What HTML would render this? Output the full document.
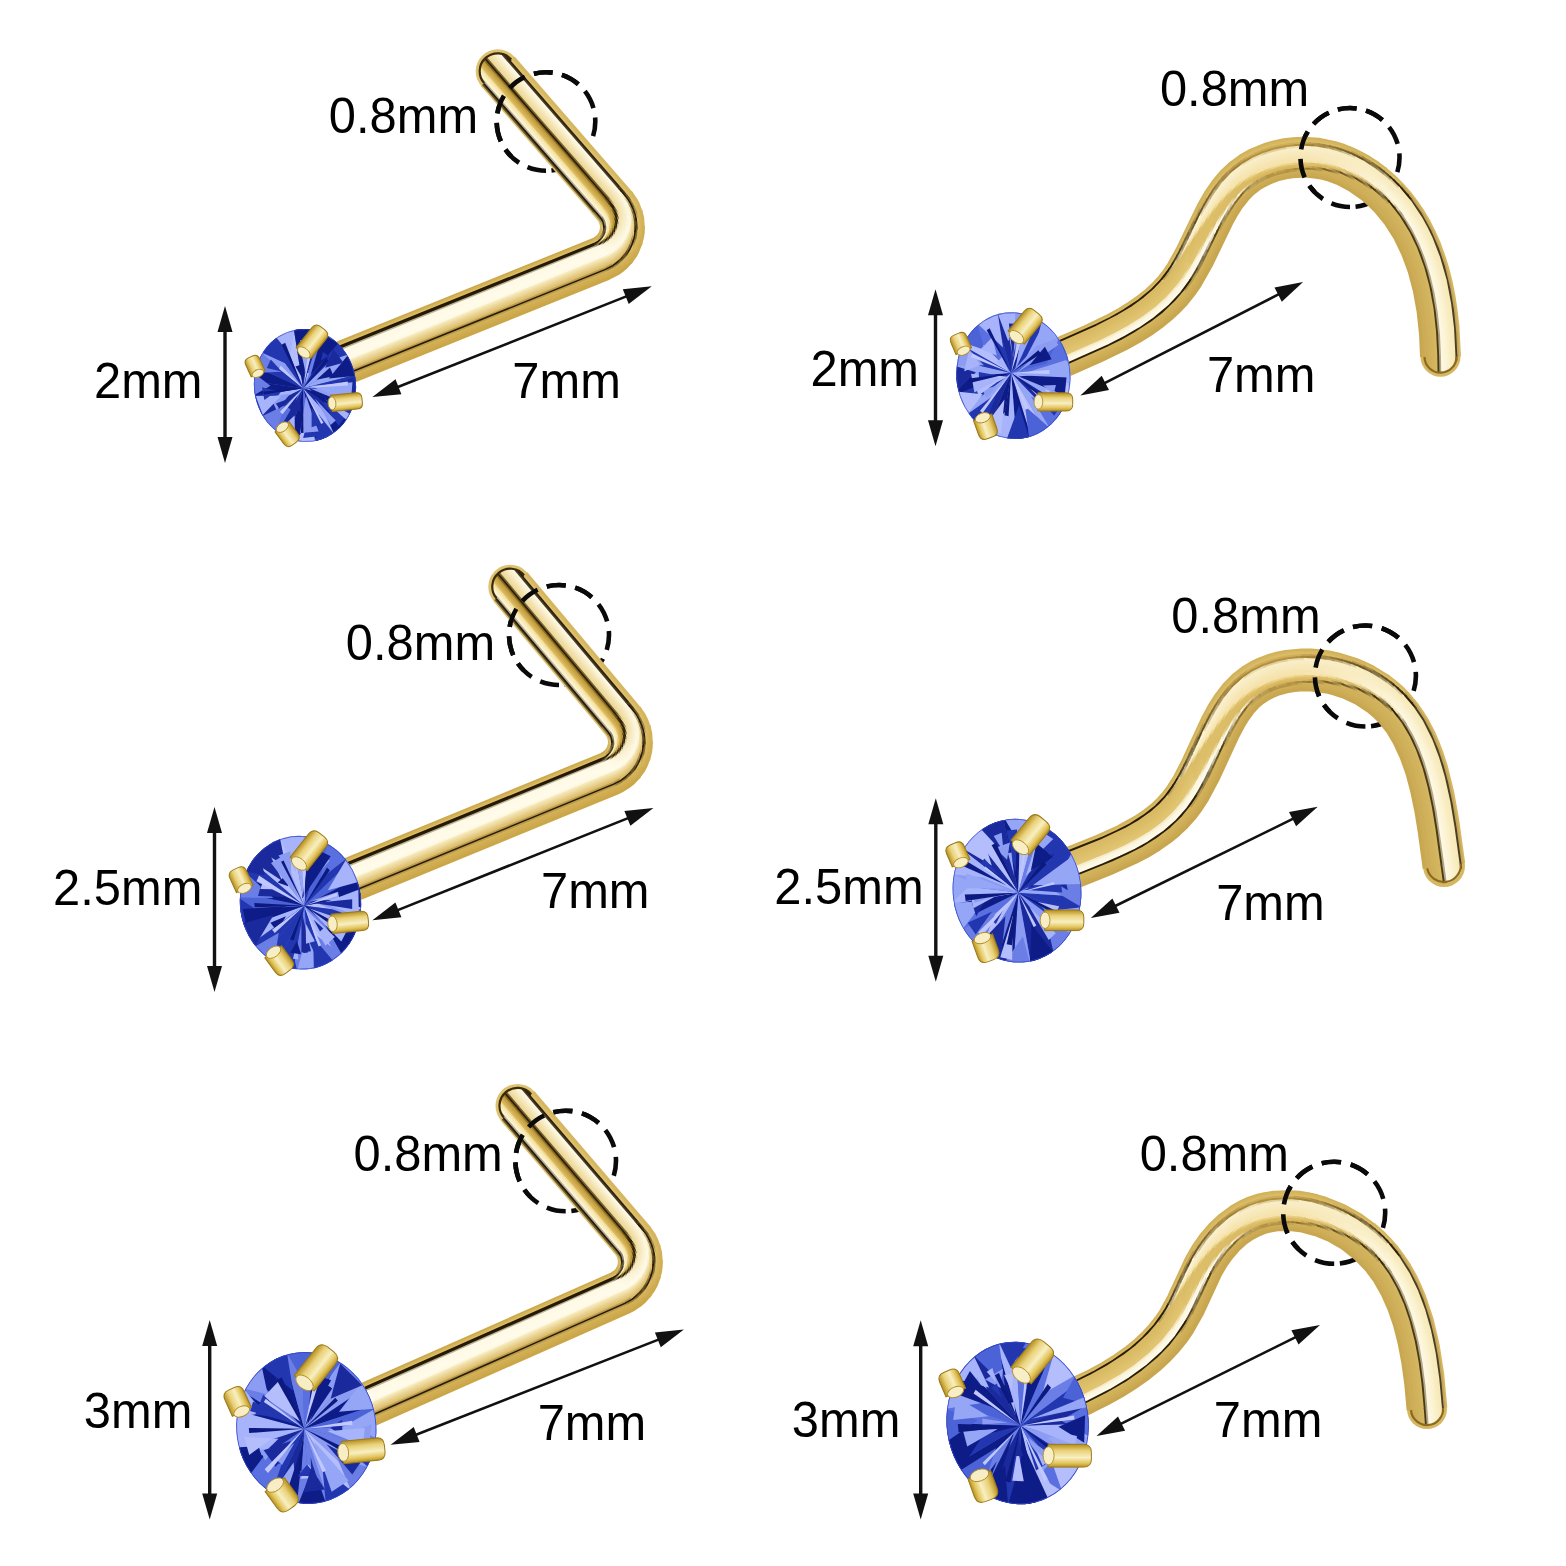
<!DOCTYPE html><html><head><meta charset="utf-8"><style>html,body{margin:0;padding:0;background:#fff;}svg{display:block;}</style></head><body><svg width="1566" height="1566" viewBox="0 0 1566 1566"><rect width="1566" height="1566" fill="#fff"/><defs><linearGradient id="pg" x1="0" y1="0" x2="1" y2="0"><stop offset="0" stop-color="#b89222"/><stop offset="0.18" stop-color="#e4c65e"/><stop offset="0.42" stop-color="#f8efc2"/><stop offset="0.72" stop-color="#ead27a"/><stop offset="1" stop-color="#b48e1e"/></linearGradient><clipPath id="gclip"><circle cx="0" cy="0" r="100"/></clipPath></defs><path d="M546.0,170.8 A49.3,49.3 0 1 1 546.0,72.2 A49.3,49.3 0 1 1 546.0,170.8" fill="none" stroke="#0a0a0a" stroke-width="4.6" stroke-dasharray="18.93 9.55"/><path d="M1350.0,207.0 A49.5,49.5 0 1 1 1350.0,108.0 A49.5,49.5 0 1 1 1350.0,207.0" fill="none" stroke="#0a0a0a" stroke-width="4.6" stroke-dasharray="19.01 9.59"/><path d="M559.0,685.0 A50.0,50.0 0 1 1 559.0,585.0 A50.0,50.0 0 1 1 559.0,685.0" fill="none" stroke="#0a0a0a" stroke-width="4.6" stroke-dasharray="19.20 9.69"/><path d="M1365.4,726.5 A50.5,50.5 0 1 1 1365.4,625.5 A50.5,50.5 0 1 1 1365.4,726.5" fill="none" stroke="#0a0a0a" stroke-width="4.6" stroke-dasharray="19.39 9.78"/><path d="M565.7,1211.3 A50.3,50.3 0 1 1 565.7,1110.7 A50.3,50.3 0 1 1 565.7,1211.3" fill="none" stroke="#0a0a0a" stroke-width="4.6" stroke-dasharray="19.31 9.74"/><path d="M1334.2,1263.8 A51.0,51.0 0 1 1 1334.2,1161.8 A51.0,51.0 0 1 1 1334.2,1263.8" fill="none" stroke="#0a0a0a" stroke-width="4.6" stroke-dasharray="19.58 9.88"/><g fill="none" stroke-linecap="butt" stroke-linejoin="round" stroke-width="2.47"><circle cx="497.7" cy="71.3" r="22.0" fill="#dec270"/><polyline points="297.1,358.8 593.3,239.2 597.3,236.6" stroke="#cda94d"/><polyline points="596.9,237.0 599.7,233.6" stroke="#cfad52"/><polyline points="599.4,234.1 600.8,230.9" stroke="#d1b057"/><polyline points="600.6,231.5 601.2,228.1" stroke="#d3b35b"/><polyline points="601.2,228.7 601.1,225.2" stroke="#d6b760"/><polyline points="601.2,225.8 600.3,222.4" stroke="#d8ba65"/><polyline points="600.5,223.0 598.9,219.9" stroke="#dabd6a"/><polyline points="599.2,220.4 591.8,211.6" stroke="#ddc06e"/><polyline points="592.8,212.8 481.7,85.2" stroke="#dec271"/><polyline points="297.6,360.3 593.9,240.7 597.6,238.4" stroke="#d4b358"/><polyline points="597.0,238.9 599.8,236.1" stroke="#d6b55c"/><polyline points="599.4,236.7 601.5,233.4" stroke="#d9b961"/><polyline points="601.2,234.0 602.5,230.3" stroke="#dbbc66"/><polyline points="602.4,230.9 602.8,228.1" stroke="#dec06b"/><polyline points="602.8,228.8 602.8,226.0" stroke="#e0c370"/><polyline points="602.8,226.7 602.4,223.8" stroke="#e2c675"/><polyline points="602.6,224.5 601.7,221.8" stroke="#c4ac65"/><polyline points="602.0,222.4 600.2,219.0" stroke="#a69054"/><polyline points="600.5,219.5 593.0,210.6" stroke="#877543"/><polyline points="594.0,211.8 482.9,84.2" stroke="#67572e"/><polyline points="298.2,361.7 594.5,242.1 598.6,239.7" stroke="#dcbc63"/><polyline points="598.0,240.1 601.1,237.1" stroke="#c0a357"/><polyline points="600.6,237.7 602.9,234.0" stroke="#a28a49"/><polyline points="602.6,234.7 603.8,231.8" stroke="#846f3a"/><polyline points="603.6,232.5 604.3,229.4" stroke="#655429"/><polyline points="604.2,230.2 604.4,227.0" stroke="#453717"/><polyline points="604.4,227.8 603.5,221.8 600.5,216.9 484.1,83.2" stroke="#231804"/><polyline points="298.8,363.2 595.1,243.6 597.9,242.1 601.5,239.1" stroke="#231803"/><polyline points="600.9,239.7 604.2,235.1 605.6,230.9" stroke="#463c28"/><polyline points="605.4,231.7 606.0,227.5 605.8,224.4" stroke="#6a614d"/><polyline points="605.8,225.2 604.3,219.8 601.9,216.1" stroke="#8f8772"/><polyline points="602.4,216.7 485.3,82.1" stroke="#b4ad97"/><polyline points="299.4,364.7 595.6,245.1" stroke="#291c05"/><polyline points="594.1,245.7 596.9,244.4" stroke="#473715"/><polyline points="596.1,244.8 598.2,243.7" stroke="#63532c"/><polyline points="597.4,244.2 599.4,243.0" stroke="#806c3c"/><polyline points="598.7,243.5 600.5,242.1" stroke="#a18d57"/><polyline points="599.8,242.7 601.6,241.2" stroke="#c1aa6b"/><polyline points="601.0,241.8 602.7,240.1" stroke="#e5ce89"/><polyline points="602.0,240.8 603.6,239.0" stroke="#eeda9c"/><polyline points="603.0,239.7 604.4,237.9" stroke="#f5e4ad"/><polyline points="603.9,238.6 605.1,236.6" stroke="#faecbc"/><polyline points="604.7,237.4 606.4,234.0" stroke="#faeec2"/><polyline points="606.0,234.8 607.2,231.3" stroke="#fbf0c8"/><polyline points="606.9,232.1 607.5,229.2 607.5,225.5" stroke="#fcf1cd"/><polyline points="607.5,226.4 606.9,222.4 605.7,219.1 604.0,216.2 599.9,211.4" stroke="#fcf3d2"/><polyline points="601.0,212.6 486.4,81.1" stroke="#fdf4d4"/><polyline points="300.0,366.1 596.2,246.5" stroke="#bdb49c"/><polyline points="594.7,247.1 599.0,245.1" stroke="#9a9076"/><polyline points="598.2,245.6 600.3,244.3" stroke="#766a50"/><polyline points="599.5,244.8 601.5,243.3" stroke="#312207"/><polyline points="600.8,243.9 602.7,242.3" stroke="#2c1e06"/><polyline points="602.0,242.9 603.8,241.2" stroke="#402f0c"/><polyline points="603.1,241.9 604.8,240.0" stroke="#72591f"/><polyline points="604.2,240.7 605.7,238.7" stroke="#907430"/><polyline points="605.2,239.5 606.5,237.4" stroke="#cba84b"/><polyline points="606.0,238.2 607.2,236.0" stroke="#d3b256"/><polyline points="606.8,236.9 607.8,234.6" stroke="#ddbe68"/><polyline points="607.5,235.5 608.3,233.1" stroke="#e4c978"/><polyline points="608.0,234.0 608.7,231.6" stroke="#ebd288"/><polyline points="608.5,232.5 609.0,230.0" stroke="#f0da96"/><polyline points="608.8,231.0 609.1,226.9" stroke="#f8e7af"/><polyline points="609.1,227.9 608.9,223.8" stroke="#f9e9b6"/><polyline points="609.0,224.8 607.5,219.4" stroke="#faebbb"/><polyline points="607.9,220.3 606.3,216.8 604.3,214.1" stroke="#faedc0"/><polyline points="604.9,214.8 487.6,80.1" stroke="#fbeec4"/><polyline points="300.6,367.6 599.8,246.4" stroke="#fffae6"/><polyline points="598.9,247.0 602.5,244.5" stroke="#fef8e1"/><polyline points="601.7,245.2 603.8,243.4" stroke="#dcd4ba"/><polyline points="603.0,244.1 605.0,242.2" stroke="#9a8e72"/><polyline points="604.2,243.0 606.0,241.0" stroke="#55462a"/><polyline points="605.4,241.8 607.0,239.6" stroke="#2e2006"/><polyline points="606.4,240.5 607.9,238.2" stroke="#271b04"/><polyline points="607.4,239.1 608.6,236.7" stroke="#564215"/><polyline points="608.2,237.6 609.3,235.1" stroke="#a48432"/><polyline points="608.9,236.1 609.8,233.5" stroke="#c5a143"/><polyline points="609.5,234.5 610.2,231.9" stroke="#cca94c"/><polyline points="610.0,232.9 610.5,230.3" stroke="#d2b054"/><polyline points="610.4,231.3 610.7,228.6" stroke="#d7b55a"/><polyline points="610.6,229.6 610.7,226.9" stroke="#debf68"/><polyline points="610.7,228.0 610.6,225.2" stroke="#e4c876"/><polyline points="610.7,226.3 610.4,223.6" stroke="#ead083"/><polyline points="610.5,224.6 610.0,221.9" stroke="#efd890"/><polyline points="610.3,223.0 609.6,220.3" stroke="#f3de9d"/><polyline points="609.9,221.3 608.3,217.2" stroke="#f7e5aa"/><polyline points="608.7,218.2 605.5,213.1" stroke="#f8e7af"/><polyline points="606.1,213.9 488.8,79.0" stroke="#f9e9b4"/><polyline points="301.2,369.0 597.4,249.4 602.1,246.8" stroke="#fffae6"/><polyline points="601.2,247.5 604.9,244.6" stroke="#fef8e0"/><polyline points="604.0,245.3 607.3,241.9" stroke="#fcf5db"/><polyline points="606.6,242.8 608.3,240.5" stroke="#dbd1b3"/><polyline points="607.7,241.4 609.3,238.9" stroke="#998c6d"/><polyline points="608.7,239.9 610.1,237.3" stroke="#544528"/><polyline points="609.6,238.3 610.8,235.7" stroke="#2d1f06"/><polyline points="610.3,236.7 611.4,234.0" stroke="#3e2e0c"/><polyline points="611.0,235.0 611.8,232.2" stroke="#6e561d"/><polyline points="611.5,233.3 612.1,230.5" stroke="#a48332"/><polyline points="611.9,231.6 612.2,228.7" stroke="#c39f41"/><polyline points="612.2,229.8 612.3,226.9" stroke="#c9a648"/><polyline points="612.3,228.0 612.2,225.1" stroke="#ceab4e"/><polyline points="612.2,226.2 612.0,223.3" stroke="#d2b054"/><polyline points="612.1,224.4 611.1,219.8" stroke="#d7b55a"/><polyline points="611.4,220.9 609.7,216.5" stroke="#dcbb60"/><polyline points="610.2,217.5 608.8,215.0" stroke="#e2c36d"/><polyline points="609.3,215.9 607.8,213.4" stroke="#e6ca79"/><polyline points="608.4,214.4 605.2,210.2" stroke="#ebd184"/><polyline points="606.2,211.4 601.8,206.4" stroke="#efd890"/><polyline points="602.8,207.6 490.0,78.0" stroke="#f3de9c"/><polyline points="301.8,370.5 598.0,250.9 603.0,248.1" stroke="#fffae7"/><polyline points="602.0,248.8 606.0,245.7" stroke="#fef8e2"/><polyline points="605.1,246.5 608.5,242.9" stroke="#fdf6dd"/><polyline points="607.8,243.8 609.6,241.3" stroke="#fcf4d8"/><polyline points="609.0,242.3 610.6,239.7" stroke="#fbf2d4"/><polyline points="610.0,240.7 611.5,238.0" stroke="#faf0cf"/><polyline points="611.0,239.1 612.3,236.2" stroke="#b9ac8a"/><polyline points="611.8,237.3 612.9,234.4" stroke="#766747"/><polyline points="612.5,235.5 613.3,232.5" stroke="#312207"/><polyline points="613.0,233.7 613.6,230.7" stroke="#291c05"/><polyline points="613.5,231.8 613.8,228.8" stroke="#554113"/><polyline points="613.7,229.9 613.8,226.8" stroke="#876b25"/><polyline points="613.8,228.0 613.7,224.9" stroke="#bd993a"/><polyline points="613.8,226.1 613.5,223.0" stroke="#c29e40"/><polyline points="613.6,224.2 613.1,221.2" stroke="#c7a346"/><polyline points="613.3,222.3 612.5,219.3" stroke="#cba84b"/><polyline points="612.9,220.5 611.1,215.8" stroke="#cfad50"/><polyline points="611.6,216.9 609.1,212.5" stroke="#d4b256"/><polyline points="609.7,213.5 604.6,207.3" stroke="#d8b75b"/><polyline points="605.7,208.5 491.2,77.0" stroke="#dbba5f"/><polyline points="302.4,371.9 598.6,252.3 603.9,249.4" stroke="#fffbe8"/><polyline points="602.9,250.1 607.0,246.9" stroke="#fef9e4"/><polyline points="606.1,247.7 609.8,243.8" stroke="#fdf7df"/><polyline points="609.0,244.8 612.0,240.5" stroke="#fcf4d9"/><polyline points="611.4,241.6 612.9,238.6" stroke="#fbf2d3"/><polyline points="612.4,239.8 613.7,236.8" stroke="#faf0ce"/><polyline points="613.2,237.9 614.4,234.8" stroke="#f9eec9"/><polyline points="614.0,236.0 614.9,232.9" stroke="#d8cba5"/><polyline points="614.6,234.1 615.2,230.9" stroke="#978863"/><polyline points="615.0,232.1 615.4,228.8" stroke="#342408"/><polyline points="615.3,230.1 615.4,226.8" stroke="#2c1f06"/><polyline points="615.4,228.1 615.3,224.8" stroke="#251904"/><polyline points="615.4,226.1 615.1,222.8" stroke="#6d551b"/><polyline points="615.2,224.0 614.6,220.8" stroke="#a07f2d"/><polyline points="614.9,222.0 614.0,218.8" stroke="#bd983a"/><polyline points="614.4,220.0 613.3,216.9" stroke="#c19d3f"/><polyline points="613.8,218.1 611.5,213.3" stroke="#c6a245"/><polyline points="612.1,214.4 609.1,210.0" stroke="#cba84b"/><polyline points="609.9,211.0 604.1,204.3" stroke="#cfad50"/><polyline points="605.2,205.5 492.4,75.9" stroke="#d2b053"/><polyline points="302.9,373.4 599.2,253.8 603.8,251.4 606.5,249.4" stroke="#fffbe8"/><polyline points="605.5,250.2 609.6,246.5" stroke="#fef9e4"/><polyline points="608.7,247.4 612.3,243.1" stroke="#fdf7df"/><polyline points="611.5,244.2 614.4,239.3" stroke="#fcf4d8"/><polyline points="613.8,240.5 615.2,237.3" stroke="#fbf2d2"/><polyline points="614.7,238.6 615.9,235.3" stroke="#faf0ce"/><polyline points="615.5,236.6 616.4,233.2" stroke="#f9edc8"/><polyline points="616.1,234.5 616.7,231.1" stroke="#f7ebc3"/><polyline points="616.5,232.4 616.9,228.9" stroke="#f6e8bc"/><polyline points="616.9,230.3 617.0,226.8" stroke="#b6a67d"/><polyline points="617.0,228.1 616.9,224.6" stroke="#554524"/><polyline points="617.0,226.0 616.6,222.5" stroke="#302107"/><polyline points="616.8,223.8 616.1,220.4" stroke="#291c05"/><polyline points="616.4,221.7 615.5,218.3" stroke="#3d2d0b"/><polyline points="615.9,219.6 614.8,216.3" stroke="#6d541b"/><polyline points="615.3,217.6 613.9,214.4" stroke="#a07f2c"/><polyline points="614.5,215.6 611.6,210.7" stroke="#bd983a"/><polyline points="612.4,211.8 608.7,207.1" stroke="#c29e40"/><polyline points="609.8,208.3 602.0,199.4" stroke="#c7a345"/><polyline points="603.0,200.6 493.6,74.9" stroke="#c8a548"/><polyline points="303.5,374.9 599.8,255.2 604.6,252.7 607.5,250.6" stroke="#fffbe9"/><polyline points="606.4,251.5 612.3,245.8" stroke="#fef9e5"/><polyline points="611.4,246.9 614.7,242.0" stroke="#fdf7df"/><polyline points="614.1,243.2 616.7,237.9" stroke="#fcf4d8"/><polyline points="616.1,239.2 617.4,235.7" stroke="#faf1d2"/><polyline points="616.9,237.1 617.9,233.5" stroke="#f9efcd"/><polyline points="617.6,234.9 618.3,231.3" stroke="#f8edc8"/><polyline points="618.1,232.7 618.5,229.0" stroke="#f7ebc2"/><polyline points="618.4,230.4 618.6,226.8" stroke="#f6e8bc"/><polyline points="618.6,228.2 618.4,224.5" stroke="#f5e6b6"/><polyline points="618.5,225.9 618.1,222.2" stroke="#d4c494"/><polyline points="618.3,223.6 617.7,220.0" stroke="#75643f"/><polyline points="618.0,221.4 617.0,217.8" stroke="#332408"/><polyline points="617.4,219.2 616.2,215.7" stroke="#2d1f06"/><polyline points="616.8,217.0 615.3,213.7" stroke="#281b05"/><polyline points="615.9,214.9 614.2,211.7" stroke="#3c2c0b"/><polyline points="614.9,212.9 612.9,209.8" stroke="#6c541a"/><polyline points="613.7,211.0 611.5,208.0" stroke="#856923"/><polyline points="612.4,209.1 608.2,204.2" stroke="#ba9535"/><polyline points="609.3,205.4 494.7,73.9" stroke="#be993a"/><polyline points="304.1,376.3 600.4,256.7 605.5,254.1 610.3,250.3" stroke="#fffbea"/><polyline points="609.2,251.3 612.0,248.5 614.9,244.8" stroke="#fef9e5"/><polyline points="614.0,246.0 617.2,240.6" stroke="#fdf7e0"/><polyline points="616.6,242.0 618.9,236.2" stroke="#fcf4d9"/><polyline points="618.4,237.6 619.5,233.8" stroke="#faf2d3"/><polyline points="619.1,235.3 619.9,231.5" stroke="#f9f0ce"/><polyline points="619.6,233.0 620.1,229.1" stroke="#f8edc8"/><polyline points="620.0,230.6 620.1,226.7" stroke="#f7ebc3"/><polyline points="620.1,228.2 620.0,224.3" stroke="#f6e8bd"/><polyline points="620.1,225.8 619.7,222.0" stroke="#f5e6b6"/><polyline points="619.9,223.4 619.2,219.6" stroke="#f3e3b0"/><polyline points="619.5,221.1 618.5,217.3" stroke="#f2e0a9"/><polyline points="619.0,218.8 617.7,215.1" stroke="#958357"/><polyline points="618.2,216.5 616.7,212.9" stroke="#554422"/><polyline points="617.3,214.3 615.5,210.9" stroke="#322307"/><polyline points="616.2,212.2 614.2,208.9" stroke="#2e1f06"/><polyline points="615.0,210.1 611.1,205.1" stroke="#281b05"/><polyline points="612.1,206.3 609.4,203.1" stroke="#3c2c0b"/><polyline points="610.4,204.3 607.7,201.2" stroke="#544012"/><polyline points="608.8,202.4 604.3,197.3" stroke="#6c541a"/><polyline points="605.4,198.5 495.9,72.8" stroke="#856822"/><polyline points="304.7,377.8 603.2,257.1" stroke="#fdf7de"/><polyline points="601.8,257.8 605.4,255.9" stroke="#fef9e5"/><polyline points="604.0,256.7 608.8,253.7 614.7,247.7" stroke="#fffbea"/><polyline points="613.7,248.9 617.5,243.5" stroke="#fef9e5"/><polyline points="616.7,244.9 619.6,239.0" stroke="#fdf7e0"/><polyline points="619.0,240.4 621.0,234.2" stroke="#fcf4da"/><polyline points="620.6,235.7 621.4,231.7" stroke="#faf2d3"/><polyline points="621.2,233.2 621.6,229.2" stroke="#faf0cf"/><polyline points="621.6,230.8 621.7,226.7" stroke="#f8eec9"/><polyline points="621.7,228.3 621.6,224.2" stroke="#f7ebc4"/><polyline points="621.7,225.7 621.2,221.7" stroke="#f6e9be"/><polyline points="621.4,223.3 620.7,219.3" stroke="#f5e6b8"/><polyline points="621.0,220.8 620.0,216.8" stroke="#f4e4b1"/><polyline points="620.5,218.3 619.1,214.5" stroke="#f2e1ab"/><polyline points="619.7,215.9 618.1,212.2" stroke="#f1dea5"/><polyline points="618.7,213.6 616.8,210.0" stroke="#d2be86"/><polyline points="617.6,211.4 615.5,207.9" stroke="#948152"/><polyline points="616.3,209.2 613.9,206.0" stroke="#736138"/><polyline points="614.9,207.2 610.6,202.1" stroke="#332308"/><polyline points="611.6,203.3 605.5,196.3" stroke="#2d1f06"/><polyline points="606.6,197.5 497.1,71.8" stroke="#2b1d05"/><polyline points="305.3,379.2 603.9,258.5" stroke="#f6e7b7"/><polyline points="602.4,259.2 608.4,255.9" stroke="#f7eabc"/><polyline points="607.0,256.8 610.5,254.3" stroke="#faf0cd"/><polyline points="609.2,255.3 612.5,252.6" stroke="#fcf4d6"/><polyline points="611.2,253.6 614.3,250.7" stroke="#fef9e4"/><polyline points="613.2,251.9 616.4,248.2 618.9,244.3" stroke="#fffbe9"/><polyline points="618.1,245.7 621.1,239.5" stroke="#fef9e4"/><polyline points="620.5,241.0 622.5,234.5" stroke="#fdf6df"/><polyline points="622.2,236.1 623.0,231.9" stroke="#fbf4d9"/><polyline points="622.7,233.5 623.2,229.3" stroke="#fbf2d5"/><polyline points="623.1,230.9 623.3,226.7" stroke="#faf0d0"/><polyline points="623.3,228.3 623.1,224.0" stroke="#f9eecb"/><polyline points="623.2,225.7 622.8,221.4" stroke="#f8ecc6"/><polyline points="623.0,223.1 622.2,218.9" stroke="#f7eac0"/><polyline points="622.6,220.5 621.5,216.4" stroke="#f5e7ba"/><polyline points="622.0,217.9 620.6,213.9" stroke="#f4e5b4"/><polyline points="621.2,215.4 619.5,211.5" stroke="#f3e2ae"/><polyline points="620.2,213.0 618.2,209.2" stroke="#f2e0a8"/><polyline points="619.0,210.6 616.7,207.0" stroke="#f1dda2"/><polyline points="617.6,208.4 615.1,205.0" stroke="#efdb9d"/><polyline points="616.1,206.2 613.4,203.0" stroke="#eed998"/><polyline points="614.5,204.2 611.8,201.1" stroke="#d0ba7d"/><polyline points="612.8,202.3 610.1,199.1" stroke="#b19c64"/><polyline points="611.1,200.3 608.4,197.2" stroke="#927e4c"/><polyline points="609.4,198.4 498.3,70.8" stroke="#746135"/><polyline points="305.9,380.7 602.1,261.1 607.0,258.6" stroke="#f1dfa9"/><polyline points="605.5,259.5 611.5,255.5" stroke="#f3e3af"/><polyline points="610.1,256.6 613.5,253.7" stroke="#f5e6b5"/><polyline points="612.3,254.8 615.5,251.7" stroke="#f6e8b9"/><polyline points="614.3,253.0 617.2,249.6" stroke="#f9edc5"/><polyline points="616.1,250.9 618.8,247.4" stroke="#fcf4d6"/><polyline points="617.8,248.8 620.2,245.0" stroke="#fef9e4"/><polyline points="619.4,246.5 622.6,240.1" stroke="#fefae8"/><polyline points="621.9,241.7 624.1,234.8" stroke="#fdf8e3"/><polyline points="623.7,236.5 624.8,229.4" stroke="#fcf6dd"/><polyline points="624.7,231.1 624.8,226.6" stroke="#fbf3d7"/><polyline points="624.8,228.3 624.7,223.9" stroke="#faf1d2"/><polyline points="624.8,225.6 624.3,221.2" stroke="#f9efcd"/><polyline points="624.6,222.9 623.8,218.5" stroke="#f8edc8"/><polyline points="624.1,220.2 623.0,215.9" stroke="#f7ebc2"/><polyline points="623.5,217.5 622.0,213.3" stroke="#f6e8bd"/><polyline points="622.7,214.9 620.9,210.8" stroke="#f5e6b7"/><polyline points="621.6,212.3 619.5,208.4" stroke="#f4e4b2"/><polyline points="620.4,209.9 618.0,206.1" stroke="#f3e2ac"/><polyline points="619.0,207.5 616.3,204.0" stroke="#f2dfa7"/><polyline points="617.4,205.3 614.6,202.0" stroke="#f1dda3"/><polyline points="615.7,203.2 611.3,198.1" stroke="#efdb9d"/><polyline points="612.3,199.3 499.5,69.8" stroke="#eed896"/><polyline points="306.5,382.1 602.7,262.5 607.8,260.0" stroke="#ecd79a"/><polyline points="606.2,260.9 612.5,256.7" stroke="#eedaa0"/><polyline points="611.1,257.8 614.6,254.8" stroke="#efdda4"/><polyline points="613.3,256.0 616.6,252.8" stroke="#f1dfa8"/><polyline points="615.4,254.1 618.5,250.6" stroke="#f2e1ad"/><polyline points="617.3,252.0 620.1,248.3" stroke="#f4e4b2"/><polyline points="619.1,249.7 621.6,245.8" stroke="#f6e8b9"/><polyline points="620.7,247.4 622.9,243.3" stroke="#f9eec6"/><polyline points="622.1,244.9 624.0,240.6" stroke="#fdf6dd"/><polyline points="623.3,242.3 625.6,235.1" stroke="#fefae8"/><polyline points="625.2,236.9 626.4,229.5" stroke="#fdf8e3"/><polyline points="626.2,231.2 626.4,226.6" stroke="#fcf6dd"/><polyline points="626.4,228.4 626.3,223.7" stroke="#fbf4d9"/><polyline points="626.4,225.5 625.9,220.9" stroke="#fbf2d5"/><polyline points="626.1,222.7 625.3,218.1" stroke="#faf0d0"/><polyline points="625.7,219.8 624.5,215.4" stroke="#f9eecb"/><polyline points="625.0,217.1 623.5,212.7" stroke="#f8ecc6"/><polyline points="624.1,214.3 622.3,210.1" stroke="#f7eac1"/><polyline points="623.0,211.7 620.9,207.6" stroke="#f6e8bb"/><polyline points="621.8,209.1 619.3,205.2" stroke="#f4e6b6"/><polyline points="620.3,206.7 617.5,202.9" stroke="#f4e4b2"/><polyline points="618.6,204.3 614.1,199.0" stroke="#f2e1ab"/><polyline points="615.2,200.2 610.8,195.1" stroke="#f1dea5"/><polyline points="611.8,196.3 500.7,68.7" stroke="#f0dda1"/><polyline points="307.1,383.6 603.3,264.0 608.6,261.3" stroke="#e7ce8b"/><polyline points="607.0,262.3 613.5,257.9" stroke="#e9d190"/><polyline points="612.0,259.1 617.8,253.9" stroke="#ebd596"/><polyline points="616.5,255.2 619.7,251.6" stroke="#edd89c"/><polyline points="618.5,253.0 621.4,249.1" stroke="#eedba0"/><polyline points="620.4,250.7 623.0,246.6" stroke="#f0dea6"/><polyline points="622.1,248.2 624.3,243.9" stroke="#f2e1ac"/><polyline points="623.5,245.6 625.5,241.2" stroke="#f4e5b3"/><polyline points="624.8,242.9 626.4,238.4" stroke="#f7e9bb"/><polyline points="625.9,240.1 627.2,235.5" stroke="#fbf3d5"/><polyline points="626.7,237.3 627.8,231.3 627.8,223.6" stroke="#fdf9e4"/><polyline points="627.9,225.4 627.4,220.6" stroke="#fcf5dc"/><polyline points="627.7,222.5 626.8,217.7" stroke="#fbf4d8"/><polyline points="627.2,219.5 626.0,214.9" stroke="#faf2d3"/><polyline points="626.5,216.6 624.9,212.1" stroke="#f9f0cf"/><polyline points="625.6,213.8 623.7,209.4" stroke="#f8eeca"/><polyline points="624.5,211.0 622.2,206.8" stroke="#f7ecc5"/><polyline points="623.1,208.4 620.6,204.3" stroke="#f6eac0"/><polyline points="621.6,205.8 618.7,201.9" stroke="#f6e8bc"/><polyline points="619.9,203.4 615.3,198.0" stroke="#f4e6b6"/><polyline points="616.4,199.2 611.9,194.1" stroke="#f3e3b0"/><polyline points="613.0,195.3 501.8,67.7" stroke="#f2e1ac"/><polyline points="307.6,385.1 603.9,265.4 609.4,262.7" stroke="#e2c67c"/><polyline points="607.7,263.6 614.5,259.2" stroke="#e3c880"/><polyline points="612.9,260.3 619.0,254.9" stroke="#e5cb85"/><polyline points="617.6,256.3 620.9,252.5" stroke="#e7ce8a"/><polyline points="619.7,254.0 622.7,250.0" stroke="#e8d18e"/><polyline points="621.7,251.6 624.3,247.3" stroke="#ead393"/><polyline points="623.4,249.0 625.8,244.6" stroke="#ecd698"/><polyline points="624.9,246.3 627.0,241.7" stroke="#eeda9e"/><polyline points="626.2,243.5 628.0,238.8" stroke="#f0dda5"/><polyline points="627.3,240.6 628.7,235.8" stroke="#f2e2ad"/><polyline points="628.2,237.7 629.2,232.7" stroke="#f5e7b6"/><polyline points="628.9,234.6 629.5,229.6" stroke="#faf0cc"/><polyline points="629.4,231.6 629.6,226.5" stroke="#fef9e3"/><polyline points="629.6,228.5 629.0,220.4" stroke="#fef9e5"/><polyline points="629.2,222.3 628.3,217.3" stroke="#fdf7e0"/><polyline points="628.7,219.2 627.5,214.4" stroke="#fcf5dc"/><polyline points="628.0,216.2 626.4,211.5" stroke="#fbf3d8"/><polyline points="627.1,213.3 625.1,208.7" stroke="#faf2d3"/><polyline points="625.9,210.4 623.6,205.9" stroke="#f9f0cf"/><polyline points="624.5,207.6 621.8,203.4" stroke="#f8eecb"/><polyline points="622.9,205.0 618.2,198.9" stroke="#f7ecc5"/><polyline points="619.2,200.1 614.8,195.0" stroke="#f6e9be"/><polyline points="615.9,196.2 503.0,66.7" stroke="#f5e6b8"/><polyline points="308.2,386.5 604.5,266.9 612.9,262.3" stroke="#ddbe6d"/><polyline points="611.2,263.4 617.9,258.3" stroke="#dfc172"/><polyline points="616.4,259.6 622.2,253.5" stroke="#e1c477"/><polyline points="620.9,255.0 625.7,248.1" stroke="#e3c87e"/><polyline points="624.7,249.9 627.2,245.2" stroke="#e5cc85"/><polyline points="626.3,247.0 628.4,242.3" stroke="#e7ce8a"/><polyline points="627.7,244.1 629.5,239.2" stroke="#e9d28f"/><polyline points="628.8,241.1 630.2,236.1" stroke="#ebd596"/><polyline points="629.8,238.1 630.8,232.9" stroke="#eed99d"/><polyline points="630.5,234.9 631.1,229.7" stroke="#f0dea6"/><polyline points="630.9,231.7 631.1,226.5" stroke="#f3e3b0"/><polyline points="631.1,228.5 631.0,223.3" stroke="#f8ecc2"/><polyline points="631.1,225.3 630.5,220.1" stroke="#fcf6db"/><polyline points="630.8,222.1 628.9,213.9" stroke="#fefae6"/><polyline points="629.5,215.8 626.5,207.9" stroke="#fcf6de"/><polyline points="627.3,209.7 623.1,202.4" stroke="#fbf3d7"/><polyline points="624.2,204.1 619.4,197.8" stroke="#f9f0cf"/><polyline points="620.4,199.0 616.0,194.0" stroke="#f8edc9"/><polyline points="617.0,195.2 504.2,65.6" stroke="#f7ebc4"/><polyline points="308.8,388.0 605.1,268.3 613.8,263.6" stroke="#ba9b50"/><polyline points="612.1,264.8 615.5,262.4 621.3,257.0" stroke="#dab963"/><polyline points="619.8,258.5 625.4,251.7" stroke="#dcbc69"/><polyline points="624.2,253.4 628.6,245.9" stroke="#dfc06f"/><polyline points="627.7,247.8 629.9,242.8" stroke="#e1c375"/><polyline points="629.1,244.8 631.0,239.7" stroke="#e2c67a"/><polyline points="630.3,241.6 631.8,236.4" stroke="#e4c97f"/><polyline points="631.3,238.4 632.3,233.1" stroke="#e6cc84"/><polyline points="632.0,235.2 632.6,229.8" stroke="#e8d08b"/><polyline points="632.5,231.9 632.7,226.5" stroke="#ead493"/><polyline points="632.7,228.6 632.5,223.1" stroke="#edd99c"/><polyline points="632.6,225.2 632.1,219.8" stroke="#f0dea6"/><polyline points="632.4,221.9 631.4,216.6" stroke="#f4e5b3"/><polyline points="631.8,218.6 630.4,213.4" stroke="#faf1d1"/><polyline points="631.1,215.4 628.4,208.3 624.4,201.5" stroke="#fdf8e2"/><polyline points="625.5,203.2 620.6,196.8" stroke="#fbf4da"/><polyline points="621.6,198.0 617.2,192.9" stroke="#faf2d4"/><polyline points="618.2,194.1 505.4,64.6" stroke="#f9f0cf"/><polyline points="309.4,389.4 605.7,269.8 613.0,266.0 620.0,260.5" stroke="#271b05"/><polyline points="618.4,262.0 624.7,255.4" stroke="#423313"/><polyline points="623.3,257.1 628.5,249.6" stroke="#604d22"/><polyline points="627.4,251.5 631.4,243.4" stroke="#7e6833"/><polyline points="630.6,245.4 633.3,236.7" stroke="#9e8547"/><polyline points="632.8,238.8 633.9,233.3" stroke="#bfa35c"/><polyline points="633.6,235.5 634.2,229.9" stroke="#e0c170"/><polyline points="634.1,232.0 634.3,226.4" stroke="#e1c475"/><polyline points="634.3,228.6 634.1,223.0" stroke="#e3c87b"/><polyline points="634.2,225.1 633.6,219.6" stroke="#e6cc82"/><polyline points="633.9,221.7 632.9,216.2" stroke="#e8d08b"/><polyline points="633.4,218.3 631.9,212.9" stroke="#ebd695"/><polyline points="632.6,214.9 630.7,209.6" stroke="#efdca2"/><polyline points="631.5,211.6 629.3,206.5" stroke="#f5e7b8"/><polyline points="630.2,208.4 627.6,203.5" stroke="#faf1d0"/><polyline points="628.6,205.4 625.7,200.6" stroke="#fdf8e1"/><polyline points="626.9,202.4 621.7,195.8" stroke="#fdf9e4"/><polyline points="622.8,197.0 618.4,191.9" stroke="#fcf6df"/><polyline points="619.4,193.1 506.6,63.6" stroke="#fcf5da"/><polyline points="310.0,390.9 609.4,269.8" stroke="#ba9b4b"/><polyline points="607.4,270.7 613.9,267.3 618.4,264.0" stroke="#9e833f"/><polyline points="616.7,265.4 623.6,259.1" stroke="#836b32"/><polyline points="622.1,260.7 628.0,253.5" stroke="#665224"/><polyline points="626.7,255.3 629.8,250.4" stroke="#493815"/><polyline points="628.7,252.3 630.9,248.4 634.0,240.5" stroke="#2b1e06"/><polyline points="633.3,242.7 635.0,236.3 635.8,230.0" stroke="#261a05"/><polyline points="635.6,232.2 635.8,226.4" stroke="#241804"/><polyline points="635.8,228.6 635.6,222.8" stroke="#423414"/><polyline points="635.8,225.1 634.4,215.8" stroke="#615027"/><polyline points="634.9,218.0 632.2,209.0" stroke="#826e3d"/><polyline points="633.0,211.1 630.7,205.8" stroke="#a38e55"/><polyline points="631.6,207.8 628.9,202.7" stroke="#a5925c"/><polyline points="630.0,204.6 627.0,199.7" stroke="#c9b479"/><polyline points="628.2,201.5 624.7,196.9" stroke="#cebe8e"/><polyline points="626.1,198.6 622.9,194.7" stroke="#f3e4b4"/><polyline points="624.0,195.9 621.2,192.8" stroke="#f8eecc"/><polyline points="622.3,194.0 619.6,190.9" stroke="#fbf5db"/><polyline points="620.6,192.1 507.8,62.5" stroke="#fef9e6"/><polyline points="310.6,392.3 606.8,272.7 614.7,268.7 622.2,262.8" stroke="#d4b157"/><polyline points="620.5,264.3 627.7,256.7 631.2,251.2" stroke="#d6b55c"/><polyline points="630.1,253.2 634.3,244.5" stroke="#d8b860"/><polyline points="633.5,246.6 635.5,241.0" stroke="#bda053"/><polyline points="634.8,243.2 636.4,237.4" stroke="#a18744"/><polyline points="635.8,239.6 637.3,230.1" stroke="#856e36"/><polyline points="637.2,232.4 637.4,226.4" stroke="#685427"/><polyline points="637.4,228.7 636.7,219.0" stroke="#4a3a17"/><polyline points="637.0,221.3 635.8,214.6 632.1,205.1" stroke="#2a1d06"/><polyline points="633.1,207.1 628.2,198.7 620.7,189.8" stroke="#251904"/><polyline points="621.8,191.0 619.1,187.9" stroke="#231803"/><polyline points="620.1,189.1 617.4,186.0" stroke="#433517"/><polyline points="618.4,187.2 509.0,61.5" stroke="#483e2a"/><polyline points="311.2,393.8 607.4,274.2 615.6,270.0 623.3,264.0" stroke="#d1ae53"/><polyline points="621.5,265.5 628.9,257.6 632.6,251.9" stroke="#d3b258"/><polyline points="631.4,254.0 633.7,249.8 637.0,241.4" stroke="#d6b55c"/><polyline points="636.3,243.7 638.1,236.9 638.9,230.2" stroke="#d8b861"/><polyline points="638.7,232.5 639.0,227.8 638.3,218.8" stroke="#dbbc66"/><polyline points="638.6,221.1 637.5,215.0" stroke="#dcbe69"/><polyline points="638.0,217.4 636.4,211.4" stroke="#c0a55a"/><polyline points="637.1,213.7 633.5,204.4" stroke="#a48b4b"/><polyline points="634.5,206.5 629.5,197.8" stroke="#87713b"/><polyline points="630.8,199.8 625.3,192.7" stroke="#6a572a"/><polyline points="626.3,193.9 618.6,184.9" stroke="#4b3b19"/><polyline points="619.6,186.1 510.1,60.5" stroke="#2d2007"/><polyline points="311.8,395.3 608.0,275.6 616.4,271.3 620.3,268.6 627.1,262.3" stroke="#cfac50"/><polyline points="625.4,264.0 630.2,258.6 635.7,249.2" stroke="#d1af55"/><polyline points="634.7,251.4 637.0,246.2 639.5,238.0" stroke="#d4b359"/><polyline points="638.9,240.4 640.3,232.5 640.5,226.3" stroke="#d6b65d"/><polyline points="640.5,228.8 640.4,223.1 639.0,214.7" stroke="#d8b962"/><polyline points="639.5,217.0 637.4,209.3 634.8,203.6" stroke="#dabc66"/><polyline points="635.9,205.8 630.7,196.8 626.5,191.6" stroke="#ddbf6b"/><polyline points="627.5,192.9 511.3,59.4" stroke="#dfc26f"/><polyline points="312.4,396.7 608.6,277.1 617.2,272.6 621.2,269.9 628.3,263.3" stroke="#cca94c"/><polyline points="626.5,265.2 631.4,259.5 634.2,255.5 637.2,249.9" stroke="#cfac51"/><polyline points="636.1,252.1 640.1,242.2 641.7,234.4" stroke="#d1af55"/><polyline points="641.3,236.9 642.2,227.8 641.4,218.2" stroke="#d4b35a"/><polyline points="641.7,220.7 640.3,213.4 638.8,208.7 636.2,202.9" stroke="#d6b75f"/><polyline points="637.4,205.2 632.0,195.9 626.0,188.7" stroke="#d9ba64"/><polyline points="627.0,189.9 512.5,58.4" stroke="#dbbc67"/><polyline points="312.9,398.2 609.2,278.5 618.1,274.0 622.2,271.1 626.0,267.9 632.1,261.2" stroke="#caa649"/><polyline points="630.5,263.2 635.5,256.3 637.9,251.9 641.5,242.7" stroke="#cdaa4e"/><polyline points="640.7,245.2 642.7,237.8 643.5,232.8 643.7,226.3" stroke="#cfae53"/><polyline points="643.7,228.9 642.9,217.9 640.9,209.9" stroke="#d2b157"/><polyline points="641.6,212.4 638.4,203.6 636.0,199.2 630.8,191.8" stroke="#d4b45c"/><polyline points="632.4,193.8 513.7,57.4" stroke="#d6b65f"/><line x1="485.8" y1="82.7" x2="480.5" y2="76.7" stroke="#b4ad97"/><line x1="487.0" y1="81.7" x2="479.8" y2="73.5" stroke="#fdf4d4"/><line x1="488.2" y1="80.7" x2="479.7" y2="71.0" stroke="#fbefc5"/><line x1="489.3" y1="79.6" x2="479.9" y2="68.8" stroke="#f9e9b5"/><line x1="490.5" y1="78.6" x2="480.3" y2="66.8" stroke="#f3de9c"/><line x1="491.7" y1="77.6" x2="480.8" y2="65.1" stroke="#dcbb60"/><line x1="492.9" y1="76.5" x2="481.5" y2="63.5" stroke="#d2b054"/><line x1="494.1" y1="75.5" x2="482.3" y2="62.0" stroke="#c8a548"/><line x1="495.3" y1="74.5" x2="483.2" y2="60.6" stroke="#bf9a3b"/><line x1="496.4" y1="73.5" x2="484.2" y2="59.4" stroke="#856822"/><line x1="497.6" y1="72.4" x2="485.3" y2="58.3" stroke="#2b1d05"/><line x1="498.8" y1="71.4" x2="486.5" y2="57.2" stroke="#736035"/><line x1="500.0" y1="70.4" x2="487.8" y2="56.3" stroke="#eed895"/><line x1="501.2" y1="69.3" x2="489.1" y2="55.5" stroke="#f0dda1"/><line x1="502.4" y1="68.3" x2="490.6" y2="54.8" stroke="#f2e1ac"/><line x1="503.6" y1="67.3" x2="492.2" y2="54.2" stroke="#f5e6b7"/><line x1="504.7" y1="66.2" x2="493.8" y2="53.7" stroke="#f7ebc3"/><line x1="505.9" y1="65.2" x2="495.7" y2="53.4" stroke="#f9f0ce"/><line x1="507.1" y1="64.2" x2="497.7" y2="53.3" stroke="#fbf4da"/><line x1="508.3" y1="63.1" x2="499.8" y2="53.4" stroke="#fef9e5"/><line x1="509.5" y1="62.1" x2="502.4" y2="53.9" stroke="#483e2a"/><line x1="510.7" y1="61.1" x2="505.4" y2="55.0" stroke="#2d2007"/><path d="M511.3,59.5 A18.0,18.0 0 0 0 484.1,83.1" stroke="#3a2a08" stroke-width="2.2" fill="none"/><path d="M513.3,57.7 A20.7,20.7 0 0 0 482.1,84.9" stroke="(222, 194, 112)" stroke-width="2.6" fill="none"/></g><g fill="none" stroke-linecap="butt" stroke-linejoin="round" stroke-width="2.47"><circle cx="510.3" cy="586.7" r="22.0" fill="#dec270"/><polyline points="292.4,880.9 601.4,754.1 605.3,751.5" stroke="#cda94d"/><polyline points="604.9,751.9 607.6,748.5" stroke="#cfad52"/><polyline points="607.4,749.0 608.8,745.8" stroke="#d1b057"/><polyline points="608.6,746.4 609.3,743.0" stroke="#d3b35b"/><polyline points="609.2,743.6 609.1,740.2" stroke="#d6b760"/><polyline points="609.2,740.8 608.3,737.4" stroke="#d8ba65"/><polyline points="608.6,738.0 607.0,734.9" stroke="#dabd6a"/><polyline points="607.3,735.4 600.1,726.5" stroke="#ddc06e"/><polyline points="601.1,727.8 494.1,600.3" stroke="#dec271"/><polyline points="293.0,882.3 602.0,755.5 605.6,753.3" stroke="#d4b358"/><polyline points="605.1,753.7 607.8,751.0" stroke="#d6b55c"/><polyline points="607.4,751.5 609.5,748.3" stroke="#d9b961"/><polyline points="609.2,748.9 610.5,745.2" stroke="#dbbc66"/><polyline points="610.4,745.9 610.8,743.1" stroke="#dec06b"/><polyline points="610.8,743.8 610.8,741.0" stroke="#e0c370"/><polyline points="610.8,741.6 610.5,738.9" stroke="#e2c675"/><polyline points="610.6,739.5 609.8,736.8" stroke="#c4ac65"/><polyline points="610.1,737.4 608.3,734.0" stroke="#a69054"/><polyline points="608.6,734.6 601.3,725.5" stroke="#877543"/><polyline points="602.3,726.8 495.3,599.3" stroke="#67572e"/><polyline points="293.6,883.8 602.6,757.0 606.6,754.5" stroke="#dcbc63"/><polyline points="606.0,755.0 609.1,752.0" stroke="#c0a357"/><polyline points="608.6,752.6 610.9,748.9" stroke="#a28a49"/><polyline points="610.6,749.6 611.8,746.7" stroke="#846f3a"/><polyline points="611.5,747.4 612.3,744.4" stroke="#655429"/><polyline points="612.2,745.1 612.4,742.0" stroke="#453717"/><polyline points="612.4,742.8 611.5,736.9 608.7,732.0 496.5,598.3" stroke="#231804"/><polyline points="294.2,885.2 603.2,758.4 605.9,757.0 609.5,754.0" stroke="#231803"/><polyline points="608.9,754.5 612.2,750.1 613.6,745.9" stroke="#463c28"/><polyline points="613.4,746.7 614.0,742.5 613.8,739.4" stroke="#6a614d"/><polyline points="613.9,740.2 612.4,734.9 610.1,731.2" stroke="#8f8772"/><polyline points="610.6,731.8 497.7,597.3" stroke="#b4ad97"/><polyline points="294.8,886.7 603.7,759.9" stroke="#291c05"/><polyline points="602.2,760.5 605.0,759.3" stroke="#473715"/><polyline points="604.2,759.7 606.2,758.6" stroke="#63532c"/><polyline points="605.5,759.1 607.4,757.8" stroke="#806c3c"/><polyline points="606.7,758.3 608.6,757.0" stroke="#a18d57"/><polyline points="607.9,757.5 609.7,756.0" stroke="#c1aa6b"/><polyline points="609.0,756.6 610.7,755.0" stroke="#e5ce89"/><polyline points="610.0,755.7 611.6,753.9" stroke="#eeda9c"/><polyline points="611.0,754.6 612.4,752.8" stroke="#f5e4ad"/><polyline points="611.9,753.5 613.1,751.5" stroke="#faecbc"/><polyline points="612.7,752.3 614.3,749.0" stroke="#faeec2"/><polyline points="614.0,749.8 615.2,746.2" stroke="#fbf0c8"/><polyline points="614.9,747.1 615.5,744.3 615.5,740.6" stroke="#fcf1cd"/><polyline points="615.6,741.5 615.0,737.5 613.9,734.3 612.2,731.3 608.1,726.4" stroke="#fcf3d2"/><polyline points="609.2,727.6 498.9,596.3" stroke="#fdf4d4"/><polyline points="295.4,888.1 604.3,761.4" stroke="#bdb49c"/><polyline points="602.8,762.0 607.1,759.9" stroke="#9a9076"/><polyline points="606.2,760.4 608.3,759.1" stroke="#766a50"/><polyline points="607.6,759.7 609.6,758.2" stroke="#312207"/><polyline points="608.8,758.8 610.7,757.2" stroke="#2c1e06"/><polyline points="610.0,757.8 611.8,756.1" stroke="#402f0c"/><polyline points="611.1,756.8 612.8,754.9" stroke="#72591f"/><polyline points="612.2,755.6 613.7,753.6" stroke="#907430"/><polyline points="613.2,754.4 614.5,752.3" stroke="#cba84b"/><polyline points="614.0,753.2 615.2,750.9" stroke="#d3b256"/><polyline points="614.8,751.8 615.8,749.5" stroke="#ddbe68"/><polyline points="615.4,750.4 616.3,748.1" stroke="#e4c978"/><polyline points="616.0,749.0 616.7,746.6" stroke="#ebd288"/><polyline points="616.5,747.5 616.9,745.0" stroke="#f0da96"/><polyline points="616.8,746.0 617.1,742.0" stroke="#f8e7af"/><polyline points="617.1,742.9 616.9,738.9" stroke="#f9e9b6"/><polyline points="617.0,739.9 615.6,734.5" stroke="#faebbb"/><polyline points="616.0,735.4 614.4,732.0 612.5,729.2" stroke="#faedc0"/><polyline points="613.1,729.9 500.1,595.3" stroke="#fbeec4"/><polyline points="296.0,889.6 607.9,761.3" stroke="#fffae6"/><polyline points="607.0,761.8 610.6,759.4" stroke="#fef8e1"/><polyline points="609.8,760.0 611.8,758.3" stroke="#dcd4ba"/><polyline points="611.0,759.0 613.0,757.1" stroke="#9a8e72"/><polyline points="612.3,757.9 614.0,755.8" stroke="#55462a"/><polyline points="613.4,756.7 615.0,754.5" stroke="#2e2006"/><polyline points="614.4,755.4 615.9,753.1" stroke="#271b04"/><polyline points="615.4,754.0 616.6,751.6" stroke="#564215"/><polyline points="616.2,752.5 617.3,750.1" stroke="#a48432"/><polyline points="616.9,751.0 617.8,748.5" stroke="#c5a143"/><polyline points="617.5,749.5 618.2,746.9" stroke="#cca94c"/><polyline points="618.0,747.9 618.5,745.3" stroke="#d2b054"/><polyline points="618.3,746.3 618.7,743.6" stroke="#d7b55a"/><polyline points="618.6,744.7 618.7,741.9" stroke="#debf68"/><polyline points="618.7,743.0 618.6,740.3" stroke="#e4c876"/><polyline points="618.7,741.3 618.4,738.6" stroke="#ead083"/><polyline points="618.6,739.7 618.1,737.0" stroke="#efd890"/><polyline points="618.3,738.0 617.6,735.4" stroke="#f3de9d"/><polyline points="618.0,736.4 616.4,732.3" stroke="#f7e5aa"/><polyline points="616.8,733.3 613.7,728.2" stroke="#f8e7af"/><polyline points="614.3,729.0 501.3,594.3" stroke="#f9e9b4"/><polyline points="296.6,891.1 605.6,764.2 610.1,761.7" stroke="#fffae6"/><polyline points="609.2,762.3 612.9,759.4" stroke="#fef8e0"/><polyline points="612.1,760.2 615.3,756.8" stroke="#fcf5db"/><polyline points="614.6,757.7 616.3,755.4" stroke="#dbd1b3"/><polyline points="615.7,756.3 617.2,753.8" stroke="#998c6d"/><polyline points="616.7,754.8 618.1,752.3" stroke="#544528"/><polyline points="617.6,753.3 618.8,750.6" stroke="#2d1f06"/><polyline points="618.3,751.7 619.3,749.0" stroke="#3e2e0c"/><polyline points="619.0,750.0 619.8,747.2" stroke="#6e561d"/><polyline points="619.5,748.3 620.1,745.5" stroke="#a48332"/><polyline points="619.9,746.6 620.2,743.7" stroke="#c39f41"/><polyline points="620.2,744.8 620.3,741.9" stroke="#c9a648"/><polyline points="620.3,743.0 620.2,740.2" stroke="#ceab4e"/><polyline points="620.3,741.3 620.0,738.4" stroke="#d2b054"/><polyline points="620.1,739.5 619.1,734.9" stroke="#d7b55a"/><polyline points="619.5,736.0 617.8,731.6" stroke="#dcbb60"/><polyline points="618.3,732.7 617.0,730.1" stroke="#e2c36d"/><polyline points="617.5,731.1 616.0,728.6" stroke="#e6ca79"/><polyline points="616.6,729.5 613.4,725.3" stroke="#ebd184"/><polyline points="614.4,726.5 610.1,721.4" stroke="#efd890"/><polyline points="611.1,722.6 502.5,593.3" stroke="#f3de9c"/><polyline points="297.2,892.5 606.2,765.7 611.0,763.0" stroke="#fffae7"/><polyline points="610.1,763.7 614.0,760.6" stroke="#fef8e2"/><polyline points="613.1,761.4 616.5,757.8" stroke="#fdf6dd"/><polyline points="615.8,758.7 617.6,756.2" stroke="#fcf4d8"/><polyline points="617.0,757.2 618.6,754.6" stroke="#fbf2d4"/><polyline points="618.0,755.7 619.5,752.9" stroke="#faf0cf"/><polyline points="619.0,754.0 620.2,751.2" stroke="#b9ac8a"/><polyline points="619.8,752.3 620.8,749.4" stroke="#766747"/><polyline points="620.5,750.5 621.3,747.6" stroke="#312207"/><polyline points="621.0,748.7 621.6,745.7" stroke="#291c05"/><polyline points="621.4,746.9 621.8,743.8" stroke="#554113"/><polyline points="621.7,745.0 621.9,741.9" stroke="#876b25"/><polyline points="621.8,743.1 621.8,740.0" stroke="#bd993a"/><polyline points="621.8,741.2 621.6,738.1" stroke="#c29e40"/><polyline points="621.7,739.3 621.2,736.3" stroke="#c7a346"/><polyline points="621.4,737.4 620.6,734.5" stroke="#cba84b"/><polyline points="621.0,735.6 619.2,731.0" stroke="#cfad50"/><polyline points="619.7,732.0 617.3,727.7" stroke="#d4b256"/><polyline points="617.9,728.7 613.0,722.4" stroke="#d8b75b"/><polyline points="614.0,723.6 503.7,592.3" stroke="#dbba5f"/><polyline points="297.8,894.0 606.8,767.1 611.9,764.3" stroke="#fffbe8"/><polyline points="610.9,765.0 615.1,761.7" stroke="#fef9e4"/><polyline points="614.1,762.6 617.8,758.7" stroke="#fdf7df"/><polyline points="617.0,759.7 620.0,755.4" stroke="#fcf4d9"/><polyline points="619.4,756.5 620.9,753.6" stroke="#fbf2d3"/><polyline points="620.3,754.7 621.7,751.7" stroke="#faf0ce"/><polyline points="621.2,752.9 622.4,749.8" stroke="#f9eec9"/><polyline points="621.9,751.0 622.8,747.9" stroke="#d8cba5"/><polyline points="622.5,749.1 623.2,745.9" stroke="#978863"/><polyline points="623.0,747.2 623.4,743.9" stroke="#342408"/><polyline points="623.3,745.2 623.4,741.9" stroke="#2c1f06"/><polyline points="623.4,743.2 623.3,739.9" stroke="#251904"/><polyline points="623.4,741.1 623.1,737.9" stroke="#6d551b"/><polyline points="623.2,739.1 622.7,735.9" stroke="#a07f2d"/><polyline points="622.9,737.1 622.1,734.0" stroke="#bd983a"/><polyline points="622.5,735.2 621.4,732.1" stroke="#c19d3f"/><polyline points="621.9,733.3 619.7,728.5" stroke="#c6a245"/><polyline points="620.3,729.6 617.4,725.2" stroke="#cba84b"/><polyline points="618.1,726.2 612.5,719.4" stroke="#cfad50"/><polyline points="613.6,720.6 504.9,591.2" stroke="#d2b053"/><polyline points="298.4,895.4 607.4,768.6 611.9,766.2 614.5,764.3" stroke="#fffbe8"/><polyline points="613.5,765.1 617.7,761.3" stroke="#fef9e4"/><polyline points="616.7,762.3 620.2,758.0" stroke="#fdf7df"/><polyline points="619.5,759.1 622.3,754.3" stroke="#fcf4d8"/><polyline points="621.7,755.5 623.2,752.3" stroke="#fbf2d2"/><polyline points="622.7,753.5 623.9,750.3" stroke="#faf0ce"/><polyline points="623.4,751.6 624.4,748.2" stroke="#f9edc8"/><polyline points="624.0,749.5 624.7,746.1" stroke="#f7ebc3"/><polyline points="624.5,747.4 624.9,744.0" stroke="#f6e8bc"/><polyline points="624.9,745.3 625.0,741.9" stroke="#b6a67d"/><polyline points="625.0,743.2 624.9,739.7" stroke="#554524"/><polyline points="625.0,741.1 624.7,737.6" stroke="#302107"/><polyline points="624.8,739.0 624.2,735.5" stroke="#291c05"/><polyline points="624.5,736.9 623.6,733.5" stroke="#3d2d0b"/><polyline points="624.0,734.8 622.9,731.5" stroke="#6d541b"/><polyline points="623.4,732.7 622.0,729.6" stroke="#a07f2c"/><polyline points="622.6,730.8 619.9,725.9" stroke="#bd983a"/><polyline points="620.6,727.0 617.0,722.3" stroke="#c29e40"/><polyline points="618.0,723.5 610.5,714.5" stroke="#c7a345"/><polyline points="611.5,715.7 506.1,590.2" stroke="#c8a548"/><polyline points="299.0,896.9 607.9,770.0 612.7,767.6 615.5,765.5" stroke="#fffbe9"/><polyline points="614.4,766.4 620.3,760.7" stroke="#fef9e5"/><polyline points="619.4,761.8 622.7,756.9" stroke="#fdf7df"/><polyline points="622.0,758.2 624.6,752.9" stroke="#fcf4d8"/><polyline points="624.1,754.2 625.4,750.7" stroke="#faf1d2"/><polyline points="624.9,752.1 625.9,748.5" stroke="#f9efcd"/><polyline points="625.6,749.9 626.3,746.3" stroke="#f8edc8"/><polyline points="626.1,747.7 626.5,744.1" stroke="#f7ebc2"/><polyline points="626.4,745.5 626.6,741.9" stroke="#f6e8bc"/><polyline points="626.6,743.3 626.5,739.6" stroke="#f5e6b6"/><polyline points="626.5,741.0 626.2,737.4" stroke="#d4c494"/><polyline points="626.4,738.8 625.7,735.2" stroke="#75643f"/><polyline points="626.0,736.6 625.1,733.0" stroke="#332408"/><polyline points="625.5,734.4 624.3,730.9" stroke="#2d1f06"/><polyline points="624.9,732.2 623.4,728.9" stroke="#281b05"/><polyline points="624.0,730.1 622.4,726.9" stroke="#3c2c0b"/><polyline points="623.0,728.1 621.2,725.0" stroke="#6c541a"/><polyline points="621.9,726.2 619.8,723.2" stroke="#856923"/><polyline points="620.6,724.3 616.6,719.3" stroke="#ba9535"/><polyline points="617.6,720.5 507.3,589.2" stroke="#be993a"/><polyline points="299.6,898.3 608.5,771.5 613.6,768.9 618.3,765.1" stroke="#fffbea"/><polyline points="617.2,766.1 620.0,763.4 622.9,759.7" stroke="#fef9e5"/><polyline points="622.0,760.9 625.2,755.6" stroke="#fdf7e0"/><polyline points="624.5,756.9 626.9,751.2" stroke="#fcf4d9"/><polyline points="626.4,752.6 627.4,748.9" stroke="#faf2d3"/><polyline points="627.1,750.3 627.8,746.5" stroke="#f9f0ce"/><polyline points="627.6,748.0 628.1,744.2" stroke="#f8edc8"/><polyline points="628.0,745.7 628.1,741.8" stroke="#f7ebc3"/><polyline points="628.1,743.3 628.0,739.5" stroke="#f6e8bd"/><polyline points="628.1,741.0 627.8,737.1" stroke="#f5e6b6"/><polyline points="627.9,738.6 627.3,734.8" stroke="#f3e3b0"/><polyline points="627.6,736.3 626.6,732.5" stroke="#f2e0a9"/><polyline points="627.1,734.0 625.8,730.3" stroke="#958357"/><polyline points="626.4,731.7 624.8,728.2" stroke="#554422"/><polyline points="625.5,729.5 623.7,726.1" stroke="#322307"/><polyline points="624.4,727.4 622.4,724.1" stroke="#2e1f06"/><polyline points="623.2,725.3 619.4,720.3" stroke="#281b05"/><polyline points="620.4,721.5 617.8,718.3" stroke="#3c2c0b"/><polyline points="618.8,719.5 616.1,716.4" stroke="#544012"/><polyline points="617.2,717.6 612.9,712.5" stroke="#6c541a"/><polyline points="613.9,713.7 508.5,588.2" stroke="#856822"/><polyline points="300.2,899.8 611.3,772.0" stroke="#fdf7de"/><polyline points="609.9,772.6 613.5,770.8" stroke="#fef9e5"/><polyline points="612.1,771.5 616.8,768.5 622.7,762.6" stroke="#fffbea"/><polyline points="621.7,763.8 625.5,758.5" stroke="#fef9e5"/><polyline points="624.7,759.8 627.6,754.0" stroke="#fdf7e0"/><polyline points="627.0,755.4 629.0,749.2" stroke="#fcf4da"/><polyline points="628.6,750.7 629.4,746.8" stroke="#faf2d3"/><polyline points="629.2,748.3 629.6,744.3" stroke="#faf0cf"/><polyline points="629.5,745.9 629.7,741.8" stroke="#f8eec9"/><polyline points="629.7,743.4 629.6,739.3" stroke="#f7ebc4"/><polyline points="629.7,740.9 629.3,736.9" stroke="#f6e9be"/><polyline points="629.5,738.4 628.8,734.4" stroke="#f5e6b8"/><polyline points="629.1,736.0 628.1,732.0" stroke="#f4e4b1"/><polyline points="628.6,733.5 627.3,729.7" stroke="#f2e1ab"/><polyline points="627.8,731.2 626.2,727.5" stroke="#f1dea5"/><polyline points="626.9,728.9 625.1,725.3" stroke="#d2be86"/><polyline points="625.8,726.6 623.7,723.2" stroke="#948152"/><polyline points="624.6,724.5 622.2,721.2" stroke="#736138"/><polyline points="623.2,722.4 619.0,717.3" stroke="#332308"/><polyline points="620.0,718.5 614.1,711.5" stroke="#2d1f06"/><polyline points="615.1,712.7 509.7,587.2" stroke="#2b1d05"/><polyline points="300.8,901.2 612.0,773.4" stroke="#f6e7b7"/><polyline points="610.5,774.0 616.5,770.7" stroke="#f7eabc"/><polyline points="615.1,771.6 618.5,769.1" stroke="#faf0cd"/><polyline points="617.2,770.1 620.5,767.4" stroke="#fcf4d6"/><polyline points="619.3,768.5 622.3,765.6" stroke="#fef9e4"/><polyline points="621.2,766.7 624.3,763.1 626.8,759.2" stroke="#fffbe9"/><polyline points="626.0,760.7 629.0,754.5" stroke="#fef9e4"/><polyline points="628.4,756.0 630.5,749.5" stroke="#fdf6df"/><polyline points="630.1,751.1 631.0,747.0" stroke="#fbf4d9"/><polyline points="630.7,748.6 631.2,744.4" stroke="#fbf2d5"/><polyline points="631.1,746.0 631.3,741.8" stroke="#faf0d0"/><polyline points="631.3,743.4 631.2,739.2" stroke="#f9eecb"/><polyline points="631.3,740.8 630.9,736.6" stroke="#f8ecc6"/><polyline points="631.0,738.2 630.3,734.1" stroke="#f7eac0"/><polyline points="630.7,735.7 629.6,731.6" stroke="#f5e7ba"/><polyline points="630.1,733.1 628.7,729.1" stroke="#f4e5b4"/><polyline points="629.3,730.6 627.6,726.8" stroke="#f3e2ae"/><polyline points="628.4,728.2 626.4,724.5" stroke="#f2e0a8"/><polyline points="627.2,725.9 625.0,722.3" stroke="#f1dda2"/><polyline points="625.9,723.6 623.4,720.2" stroke="#efdb9d"/><polyline points="624.4,721.5 621.8,718.2" stroke="#eed998"/><polyline points="622.8,719.5 620.2,716.3" stroke="#d0ba7d"/><polyline points="621.2,717.5 618.5,714.3" stroke="#b19c64"/><polyline points="619.6,715.6 616.9,712.4" stroke="#927e4c"/><polyline points="617.9,713.6 510.9,586.2" stroke="#746135"/><polyline points="301.4,902.7 610.3,775.9 615.1,773.5" stroke="#f1dfa9"/><polyline points="613.6,774.3 619.5,770.3" stroke="#f3e3af"/><polyline points="618.2,771.4 621.6,768.6" stroke="#f5e6b5"/><polyline points="620.3,769.7 623.5,766.6" stroke="#f6e8b9"/><polyline points="622.3,767.8 625.2,764.5" stroke="#f9edc5"/><polyline points="624.1,765.8 626.8,762.3" stroke="#fcf4d6"/><polyline points="625.8,763.7 628.2,760.0" stroke="#fef9e4"/><polyline points="627.4,761.5 630.5,755.1" stroke="#fefae8"/><polyline points="629.9,756.7 632.1,749.9" stroke="#fdf8e3"/><polyline points="631.6,751.5 632.8,744.5" stroke="#fcf6dd"/><polyline points="632.7,746.2 632.9,741.8" stroke="#fbf3d7"/><polyline points="632.8,743.5 632.7,739.1" stroke="#faf1d2"/><polyline points="632.8,740.8 632.4,736.4" stroke="#f9efcd"/><polyline points="632.6,738.1 631.9,733.7" stroke="#f8edc8"/><polyline points="632.2,735.4 631.1,731.1" stroke="#f7ebc2"/><polyline points="631.6,732.7 630.2,728.5" stroke="#f6e8bd"/><polyline points="630.8,730.1 629.1,726.1" stroke="#f5e6b7"/><polyline points="629.8,727.6 627.8,723.7" stroke="#f4e4b2"/><polyline points="628.6,725.2 626.3,721.4" stroke="#f3e2ac"/><polyline points="627.2,722.8 624.7,719.2" stroke="#f2dfa7"/><polyline points="625.7,720.6 623.0,717.2" stroke="#f1dda3"/><polyline points="624.0,718.5 619.7,713.3" stroke="#efdb9d"/><polyline points="620.8,714.6 512.1,585.2" stroke="#eed896"/><polyline points="302.0,904.1 610.9,777.3 615.9,774.8" stroke="#ecd79a"/><polyline points="614.3,775.7 620.5,771.6" stroke="#eedaa0"/><polyline points="619.1,772.7 622.7,769.7" stroke="#efdda4"/><polyline points="621.3,770.9 624.6,767.7" stroke="#f1dfa8"/><polyline points="623.4,769.0 626.5,765.5" stroke="#f2e1ad"/><polyline points="625.3,766.9 628.1,763.2" stroke="#f4e4b2"/><polyline points="627.1,764.7 629.6,760.8" stroke="#f6e8b9"/><polyline points="628.7,762.3 630.9,758.2" stroke="#f9eec6"/><polyline points="630.1,759.8 632.0,755.6" stroke="#fdf6dd"/><polyline points="631.3,757.3 633.6,750.2" stroke="#fefae8"/><polyline points="633.2,751.9 634.3,744.6" stroke="#fdf8e3"/><polyline points="634.2,746.4 634.4,741.8" stroke="#fcf6dd"/><polyline points="634.4,743.5 634.3,738.9" stroke="#fbf4d9"/><polyline points="634.4,740.7 634.0,736.1" stroke="#fbf2d5"/><polyline points="634.2,737.9 633.4,733.3" stroke="#faf0d0"/><polyline points="633.7,735.1 632.6,730.6" stroke="#f9eecb"/><polyline points="633.1,732.3 631.6,727.9" stroke="#f8ecc6"/><polyline points="632.3,729.6 630.5,725.4" stroke="#f7eac1"/><polyline points="631.2,727.0 629.1,722.9" stroke="#f6e8bb"/><polyline points="630.0,724.4 627.6,720.5" stroke="#f4e6b6"/><polyline points="628.6,722.0 625.9,718.2" stroke="#f4e4b2"/><polyline points="627.0,719.6 622.6,714.3" stroke="#f2e1ab"/><polyline points="623.6,715.5 619.3,710.4" stroke="#f1dea5"/><polyline points="620.3,711.6 513.3,584.2" stroke="#f0dda1"/><polyline points="302.6,905.6 611.5,778.8 616.7,776.2" stroke="#e7ce8b"/><polyline points="615.1,777.1 621.5,772.8" stroke="#e9d190"/><polyline points="620.1,773.9 625.8,768.7" stroke="#ebd596"/><polyline points="624.5,770.1 627.7,766.5" stroke="#edd89c"/><polyline points="626.5,767.9 629.4,764.1" stroke="#eedba0"/><polyline points="628.4,765.6 630.9,761.5" stroke="#f0dea6"/><polyline points="630.0,763.1 632.3,758.9" stroke="#f2e1ac"/><polyline points="631.5,760.6 633.5,756.2" stroke="#f4e5b3"/><polyline points="632.7,757.9 634.4,753.4" stroke="#f7e9bb"/><polyline points="633.8,755.2 635.1,750.5" stroke="#fbf3d5"/><polyline points="634.7,752.3 635.8,746.4 635.9,738.8" stroke="#fdf9e4"/><polyline points="636.0,740.6 635.5,735.9" stroke="#fcf5dc"/><polyline points="635.7,737.7 634.9,733.0" stroke="#fbf4d8"/><polyline points="635.3,734.8 634.1,730.1" stroke="#faf2d3"/><polyline points="634.6,731.9 633.1,727.3" stroke="#f9f0cf"/><polyline points="633.8,729.1 631.9,724.7" stroke="#f8eeca"/><polyline points="632.7,726.3 630.5,722.1" stroke="#f7ecc5"/><polyline points="631.4,723.7 628.9,719.6" stroke="#f6eac0"/><polyline points="629.9,721.1 627.1,717.2" stroke="#f6e8bc"/><polyline points="628.2,718.7 623.8,713.3" stroke="#f4e6b6"/><polyline points="624.8,714.5 620.5,709.4" stroke="#f3e3b0"/><polyline points="621.5,710.6 514.5,583.2" stroke="#f2e1ac"/><polyline points="303.2,907.0 612.1,780.2 617.5,777.5" stroke="#e2c67c"/><polyline points="615.8,778.5 622.5,774.0" stroke="#e3c880"/><polyline points="621.0,775.2 627.0,769.8" stroke="#e5cb85"/><polyline points="625.6,771.2 628.9,767.4" stroke="#e7ce8a"/><polyline points="627.7,768.9 630.7,764.9" stroke="#e8d18e"/><polyline points="629.6,766.5 632.3,762.3" stroke="#ead393"/><polyline points="631.4,764.0 633.7,759.6" stroke="#ecd698"/><polyline points="632.9,761.3 634.9,756.7" stroke="#eeda9e"/><polyline points="634.2,758.5 635.9,753.8" stroke="#f0dda5"/><polyline points="635.3,755.7 636.7,750.9" stroke="#f2e2ad"/><polyline points="636.2,752.7 637.2,747.8" stroke="#f5e7b6"/><polyline points="636.9,749.7 637.5,744.8" stroke="#faf0cc"/><polyline points="637.3,746.7 637.6,741.7" stroke="#fef9e3"/><polyline points="637.6,743.6 637.1,735.6" stroke="#fef9e5"/><polyline points="637.3,737.5 636.4,732.6" stroke="#fdf7e0"/><polyline points="636.8,734.5 635.6,729.6" stroke="#fcf5dc"/><polyline points="636.2,731.5 634.5,726.8" stroke="#fbf3d8"/><polyline points="635.3,728.5 633.3,724.0" stroke="#faf2d3"/><polyline points="634.1,725.7 631.8,721.3" stroke="#f9f0cf"/><polyline points="632.8,722.9 630.2,718.7" stroke="#f8eecb"/><polyline points="631.2,720.3 626.6,714.2" stroke="#f7ecc5"/><polyline points="627.7,715.4 623.4,710.3" stroke="#f6e9be"/><polyline points="624.4,711.5 515.7,582.2" stroke="#f5e6b8"/><polyline points="303.8,908.5 612.7,781.7 621.0,777.1" stroke="#ddbe6d"/><polyline points="619.3,778.3 625.9,773.1" stroke="#dfc172"/><polyline points="624.4,774.4 630.2,768.4" stroke="#e1c477"/><polyline points="628.9,769.9 633.7,763.1" stroke="#e3c87e"/><polyline points="632.7,764.8 635.1,760.2" stroke="#e5cc85"/><polyline points="634.3,762.0 636.4,757.3" stroke="#e7ce8a"/><polyline points="635.6,759.2 637.4,754.3" stroke="#e9d28f"/><polyline points="636.8,756.2 638.2,751.2" stroke="#ebd596"/><polyline points="637.7,753.1 638.7,748.1" stroke="#eed99d"/><polyline points="638.4,750.0 639.1,744.9" stroke="#f0dea6"/><polyline points="638.9,746.9 639.1,741.7" stroke="#f3e3b0"/><polyline points="639.1,743.7 639.0,738.5" stroke="#f8ecc2"/><polyline points="639.1,740.5 638.6,735.3" stroke="#fcf6db"/><polyline points="638.9,737.3 637.1,729.2" stroke="#fefae6"/><polyline points="637.7,731.1 634.7,723.3" stroke="#fcf6de"/><polyline points="635.5,725.1 631.5,717.8" stroke="#fbf3d7"/><polyline points="632.5,719.5 627.8,713.2" stroke="#f9f0cf"/><polyline points="628.9,714.4 624.6,709.3" stroke="#f8edc9"/><polyline points="625.6,710.5 516.9,581.1" stroke="#f7ebc4"/><polyline points="304.4,909.9 613.3,783.1 621.9,778.4" stroke="#ba9b50"/><polyline points="620.1,779.6 623.6,777.2 629.3,771.9" stroke="#dab963"/><polyline points="627.8,773.4 633.3,766.7" stroke="#dcbc69"/><polyline points="632.2,768.4 636.6,760.9" stroke="#dfc06f"/><polyline points="635.7,762.8 637.9,757.9" stroke="#e1c375"/><polyline points="637.1,759.8 638.9,754.7" stroke="#e2c67a"/><polyline points="638.3,756.7 639.7,751.5" stroke="#e4c97f"/><polyline points="639.2,753.5 640.3,748.3" stroke="#e6cc84"/><polyline points="640.0,750.3 640.6,745.0" stroke="#e8d08b"/><polyline points="640.5,747.1 640.7,741.7" stroke="#ead493"/><polyline points="640.7,743.8 640.6,738.4" stroke="#edd99c"/><polyline points="640.7,740.4 640.2,735.1" stroke="#f0dea6"/><polyline points="640.4,737.2 639.5,731.9" stroke="#f4e5b3"/><polyline points="639.9,733.9 638.6,728.7" stroke="#faf1d1"/><polyline points="639.2,730.7 636.7,723.8 632.7,716.9" stroke="#fdf8e2"/><polyline points="633.9,718.6 629.0,712.2" stroke="#fbf4da"/><polyline points="630.1,713.4 625.8,708.3" stroke="#faf2d4"/><polyline points="626.8,709.5 518.1,580.1" stroke="#f9f0cf"/><polyline points="305.0,911.4 613.9,784.6 621.2,780.8 628.1,775.4" stroke="#271b05"/><polyline points="626.5,776.8 632.7,770.3" stroke="#423313"/><polyline points="631.3,772.0 636.4,764.6" stroke="#604d22"/><polyline points="635.4,766.5 639.3,758.4" stroke="#7e6833"/><polyline points="638.5,760.4 641.3,751.9" stroke="#9e8547"/><polyline points="640.8,753.9 641.9,748.5" stroke="#bfa35c"/><polyline points="641.5,750.6 642.2,745.1" stroke="#e0c170"/><polyline points="642.0,747.2 642.3,741.7" stroke="#e1c475"/><polyline points="642.3,743.8 642.1,738.2" stroke="#e3c87b"/><polyline points="642.2,740.4 641.7,734.8" stroke="#e6cc82"/><polyline points="642.0,737.0 641.0,731.5" stroke="#e8d08b"/><polyline points="641.5,733.6 640.1,728.2" stroke="#ebd695"/><polyline points="640.7,730.3 638.9,725.0" stroke="#efdca2"/><polyline points="639.7,727.0 637.5,721.9" stroke="#f5e7b8"/><polyline points="638.4,723.8 635.9,718.8" stroke="#faf1d0"/><polyline points="636.9,720.7 634.0,716.0" stroke="#fdf8e1"/><polyline points="635.2,717.8 630.2,711.2" stroke="#fdf9e4"/><polyline points="631.3,712.4 627.0,707.3" stroke="#fcf6df"/><polyline points="628.0,708.5 519.3,579.1" stroke="#fcf5da"/><polyline points="305.6,912.9 617.6,784.6" stroke="#ba9b4b"/><polyline points="615.6,785.6 622.0,782.1 626.5,778.9" stroke="#9e833f"/><polyline points="624.7,780.2 631.6,774.0" stroke="#836b32"/><polyline points="630.1,775.6 636.0,768.4" stroke="#665224"/><polyline points="634.7,770.2 637.8,765.4" stroke="#493815"/><polyline points="636.7,767.3 638.9,763.5 641.9,755.6" stroke="#2b1e06"/><polyline points="641.2,757.7 643.0,751.5 643.8,745.2" stroke="#261a05"/><polyline points="643.6,747.4 643.9,741.6" stroke="#241804"/><polyline points="643.8,743.9 643.7,738.1" stroke="#423414"/><polyline points="643.8,740.3 642.5,731.1" stroke="#615027"/><polyline points="643.0,733.3 640.4,724.4" stroke="#826e3d"/><polyline points="641.2,726.5 638.9,721.2" stroke="#a38e55"/><polyline points="639.9,723.2 637.2,718.0" stroke="#a5925c"/><polyline points="638.3,720.0 635.3,715.1" stroke="#c9b479"/><polyline points="636.5,716.9 633.2,712.2" stroke="#cebe8e"/><polyline points="634.5,714.0 631.4,710.2" stroke="#f3e4b4"/><polyline points="632.5,711.4 629.8,708.2" stroke="#f8eecc"/><polyline points="630.8,709.4 628.2,706.3" stroke="#fbf5db"/><polyline points="629.2,707.5 520.5,578.1" stroke="#fef9e6"/><polyline points="306.2,914.3 615.1,787.5 622.9,783.5 630.2,777.7" stroke="#d4b157"/><polyline points="628.5,779.2 635.7,771.6 639.2,766.1" stroke="#d6b55c"/><polyline points="638.0,768.1 642.3,759.5" stroke="#d8b860"/><polyline points="641.4,761.7 643.5,756.1" stroke="#bda053"/><polyline points="642.7,758.2 644.3,752.5" stroke="#a18744"/><polyline points="643.8,754.8 645.3,745.3" stroke="#856e36"/><polyline points="645.2,747.6 645.4,741.6" stroke="#685427"/><polyline points="645.4,743.9 644.8,734.3" stroke="#4a3a17"/><polyline points="645.1,736.6 643.9,730.1 640.3,720.5" stroke="#2a1d06"/><polyline points="641.3,722.5 636.7,714.2 629.4,705.2" stroke="#251904"/><polyline points="630.4,706.5 627.7,703.3" stroke="#231803"/><polyline points="628.8,704.5 626.1,701.4" stroke="#433517"/><polyline points="627.1,702.6 521.7,577.1" stroke="#483e2a"/><polyline points="306.8,915.8 615.7,788.9 623.7,784.8 631.3,778.8" stroke="#d1ae53"/><polyline points="629.5,780.4 636.9,772.6 640.5,766.9" stroke="#d3b258"/><polyline points="639.4,769.0 641.7,764.9 645.0,756.5" stroke="#d6b55c"/><polyline points="644.2,758.8 646.1,752.1 646.9,745.4" stroke="#d8b861"/><polyline points="646.7,747.7 647.0,743.1 646.4,734.1" stroke="#dbbc66"/><polyline points="646.7,736.4 645.6,730.4" stroke="#dcbe69"/><polyline points="646.1,732.7 644.6,726.7" stroke="#c0a55a"/><polyline points="645.3,729.0 641.7,719.8" stroke="#a48b4b"/><polyline points="642.7,721.9 637.9,713.3" stroke="#87713b"/><polyline points="639.2,715.3 633.8,708.1" stroke="#6a572a"/><polyline points="634.9,709.4 627.3,700.3" stroke="#4b3b19"/><polyline points="628.3,701.6 522.9,576.1" stroke="#2d2007"/><polyline points="307.4,917.2 616.3,790.4 624.6,786.1 628.4,783.4 635.1,777.2" stroke="#cfac50"/><polyline points="633.4,778.9 638.2,773.5 643.7,764.2" stroke="#d1af55"/><polyline points="642.6,766.4 645.0,761.3 647.4,753.2" stroke="#d4b359"/><polyline points="646.8,755.6 648.3,747.8 648.6,741.6" stroke="#d6b65d"/><polyline points="648.5,744.0 648.5,738.5 647.1,730.0" stroke="#d8b962"/><polyline points="647.6,732.4 645.6,724.8 643.1,719.1" stroke="#dabc66"/><polyline points="644.2,721.3 639.2,712.4 635.0,707.1" stroke="#ddbf6b"/><polyline points="636.1,708.3 524.1,575.1" stroke="#dfc26f"/><polyline points="308.0,918.7 616.9,791.8 625.4,787.4 629.3,784.7 636.3,778.2" stroke="#cca94c"/><polyline points="634.5,780.0 639.4,774.4 645.1,764.9" stroke="#cfac51"/><polyline points="644.0,767.2 648.0,757.4 649.6,749.6" stroke="#d1af55"/><polyline points="649.2,752.1 650.2,743.2 649.5,733.6" stroke="#d4b35a"/><polyline points="649.8,736.1 648.5,728.9 647.1,724.3 644.5,718.4" stroke="#d6b75f"/><polyline points="645.6,720.6 640.5,711.5 634.6,704.2" stroke="#d9ba64"/><polyline points="635.6,705.4 525.3,574.1" stroke="#dbbc67"/><polyline points="308.6,920.1 617.5,793.3 622.0,791.2 630.3,785.9 634.1,782.7 640.1,776.1" stroke="#caa649"/><polyline points="638.5,778.1 643.5,771.3 645.9,767.0 649.5,757.8" stroke="#cdaa4e"/><polyline points="648.7,760.3 650.7,753.0 651.4,748.1 651.7,741.5" stroke="#cfae53"/><polyline points="651.7,744.1 651.0,733.3 649.1,725.3" stroke="#d2b157"/><polyline points="649.8,727.8 646.7,719.2 644.5,714.8 639.2,707.3" stroke="#d4b45c"/><polyline points="640.8,709.3 526.5,573.1" stroke="#d6b65f"/><line x1="498.2" y1="597.9" x2="493.0" y2="591.8" stroke="#b4ad97"/><line x1="499.4" y1="596.9" x2="492.4" y2="588.6" stroke="#fdf4d4"/><line x1="500.6" y1="595.9" x2="492.3" y2="586.1" stroke="#fbefc5"/><line x1="501.8" y1="594.9" x2="492.5" y2="583.9" stroke="#f9e9b5"/><line x1="503.0" y1="593.9" x2="492.9" y2="581.9" stroke="#f3de9c"/><line x1="504.2" y1="592.9" x2="493.5" y2="580.2" stroke="#dcbb60"/><line x1="505.4" y1="591.9" x2="494.2" y2="578.6" stroke="#d2b054"/><line x1="506.6" y1="590.8" x2="495.1" y2="577.1" stroke="#c8a548"/><line x1="507.8" y1="589.8" x2="496.0" y2="575.8" stroke="#bf9a3b"/><line x1="509.0" y1="588.8" x2="497.0" y2="574.6" stroke="#856822"/><line x1="510.2" y1="587.8" x2="498.1" y2="573.4" stroke="#2b1d05"/><line x1="511.4" y1="586.8" x2="499.3" y2="572.4" stroke="#736035"/><line x1="512.6" y1="585.8" x2="500.6" y2="571.5" stroke="#eed895"/><line x1="513.8" y1="584.8" x2="502.0" y2="570.7" stroke="#f0dda1"/><line x1="515.0" y1="583.8" x2="503.5" y2="570.0" stroke="#f2e1ac"/><line x1="516.2" y1="582.8" x2="505.1" y2="569.5" stroke="#f5e6b7"/><line x1="517.4" y1="581.8" x2="506.8" y2="569.1" stroke="#f7ebc3"/><line x1="518.6" y1="580.7" x2="508.6" y2="568.8" stroke="#f9f0ce"/><line x1="519.8" y1="579.7" x2="510.6" y2="568.7" stroke="#fbf4da"/><line x1="521.0" y1="578.7" x2="512.8" y2="568.9" stroke="#fef9e5"/><line x1="522.2" y1="577.7" x2="515.3" y2="569.4" stroke="#483e2a"/><line x1="523.4" y1="576.7" x2="518.3" y2="570.6" stroke="#2d2007"/><path d="M524.1,575.1 A18.0,18.0 0 0 0 496.5,598.3" stroke="#3a2a08" stroke-width="2.2" fill="none"/><path d="M526.2,573.4 A20.7,20.7 0 0 0 494.4,600.0" stroke="(222, 194, 112)" stroke-width="2.6" fill="none"/></g><g fill="none" stroke-linecap="butt" stroke-linejoin="round" stroke-width="2.47"><circle cx="517.5" cy="1105.9" r="22.0" fill="#dec270"/><polyline points="297.7,1412.5 611.6,1273.6 615.4,1271.0" stroke="#cda94d"/><polyline points="615.0,1271.4 617.7,1267.9" stroke="#cfad52"/><polyline points="617.4,1268.4 618.8,1265.3" stroke="#d1b057"/><polyline points="618.6,1265.8 619.2,1262.5" stroke="#d3b35b"/><polyline points="619.2,1263.1 619.0,1259.6" stroke="#d6b760"/><polyline points="619.1,1260.2 618.2,1256.9" stroke="#d8ba65"/><polyline points="618.4,1257.5 616.8,1254.4" stroke="#dabd6a"/><polyline points="617.1,1254.9 609.8,1246.2" stroke="#ddc06e"/><polyline points="610.8,1247.4 501.4,1119.7" stroke="#dec271"/><polyline points="298.4,1413.9 612.2,1275.0 615.8,1272.8" stroke="#d4b358"/><polyline points="615.2,1273.2 617.9,1270.5" stroke="#d6b55c"/><polyline points="617.5,1271.0 619.5,1267.7" stroke="#d9b961"/><polyline points="619.3,1268.3 620.5,1264.7" stroke="#dbbc66"/><polyline points="620.3,1265.3 620.7,1262.5" stroke="#dec06b"/><polyline points="620.7,1263.2 620.7,1260.4" stroke="#e0c370"/><polyline points="620.7,1261.1 620.3,1258.3" stroke="#e2c675"/><polyline points="620.5,1259.0 619.6,1256.3" stroke="#c4ac65"/><polyline points="619.9,1256.9 618.1,1253.5" stroke="#a69054"/><polyline points="618.4,1254.1 611.0,1245.1" stroke="#877543"/><polyline points="612.0,1246.4 502.6,1118.7" stroke="#67572e"/><polyline points="299.0,1415.4 612.9,1276.5 616.8,1274.0" stroke="#dcbc63"/><polyline points="616.2,1274.5 619.2,1271.4" stroke="#c0a357"/><polyline points="618.7,1272.0 621.0,1268.3" stroke="#a28a49"/><polyline points="620.7,1269.0 621.8,1266.1" stroke="#846f3a"/><polyline points="621.5,1266.8 622.2,1263.8" stroke="#655429"/><polyline points="622.1,1264.5 622.3,1261.4" stroke="#453717"/><polyline points="622.3,1262.2 621.4,1256.4 618.5,1251.5 503.8,1117.7" stroke="#231804"/><polyline points="299.6,1416.8 613.5,1277.9 616.2,1276.4 619.7,1273.4" stroke="#231803"/><polyline points="619.1,1273.9 622.2,1269.4 623.6,1265.3" stroke="#463c28"/><polyline points="623.4,1266.1 623.9,1261.9 623.6,1258.8" stroke="#6a614d"/><polyline points="623.7,1259.6 622.2,1254.4 619.8,1250.7" stroke="#8f8772"/><polyline points="620.3,1251.3 505.0,1116.6" stroke="#b4ad97"/><polyline points="300.3,1418.2 614.0,1279.4" stroke="#291c05"/><polyline points="612.5,1280.1 615.3,1278.7" stroke="#473715"/><polyline points="614.5,1279.1 616.6,1278.0" stroke="#63532c"/><polyline points="615.8,1278.5 617.7,1277.2" stroke="#806c3c"/><polyline points="617.0,1277.8 618.8,1276.4" stroke="#a18d57"/><polyline points="618.1,1276.9 619.9,1275.4" stroke="#c1aa6b"/><polyline points="619.2,1276.0 620.9,1274.4" stroke="#e5ce89"/><polyline points="620.2,1275.0 621.7,1273.3" stroke="#eeda9c"/><polyline points="621.2,1274.0 622.5,1272.1" stroke="#f5e4ad"/><polyline points="622.0,1272.8 623.2,1270.9" stroke="#faecbc"/><polyline points="622.8,1271.7 624.4,1268.3" stroke="#faeec2"/><polyline points="624.1,1269.1 625.1,1265.6" stroke="#fbf0c8"/><polyline points="624.9,1266.4 625.4,1263.6 625.4,1259.9" stroke="#fcf1cd"/><polyline points="625.4,1260.8 624.8,1256.9 623.7,1253.7 622.0,1250.8 617.8,1245.9" stroke="#fcf3d2"/><polyline points="618.9,1247.1 506.2,1115.6" stroke="#fdf4d4"/><polyline points="300.9,1419.7 614.6,1280.8" stroke="#bdb49c"/><polyline points="613.2,1281.5 617.4,1279.4" stroke="#9a9076"/><polyline points="616.6,1279.9 618.7,1278.5" stroke="#766a50"/><polyline points="617.9,1279.1 619.9,1277.6" stroke="#312207"/><polyline points="619.1,1278.2 621.0,1276.5" stroke="#2c1e06"/><polyline points="620.3,1277.2 622.0,1275.4" stroke="#402f0c"/><polyline points="621.4,1276.1 623.0,1274.2" stroke="#72591f"/><polyline points="622.4,1275.0 623.8,1272.9" stroke="#907430"/><polyline points="623.3,1273.7 624.6,1271.6" stroke="#cba84b"/><polyline points="624.2,1272.5 625.3,1270.2" stroke="#d3b256"/><polyline points="624.9,1271.1 625.9,1268.8" stroke="#ddbe68"/><polyline points="625.5,1269.7 626.3,1267.4" stroke="#e4c978"/><polyline points="626.0,1268.3 626.7,1265.9" stroke="#ebd288"/><polyline points="626.5,1266.8 626.9,1264.3" stroke="#f0da96"/><polyline points="626.8,1265.3 627.0,1261.3" stroke="#f8e7af"/><polyline points="627.1,1262.3 626.7,1258.2" stroke="#f9e9b6"/><polyline points="626.9,1259.2 625.4,1253.9" stroke="#faebbb"/><polyline points="625.8,1254.7 624.2,1251.5 622.2,1248.6" stroke="#faedc0"/><polyline points="622.8,1249.4 507.4,1114.6" stroke="#fbeec4"/><polyline points="301.5,1421.1 618.2,1280.7" stroke="#fffae6"/><polyline points="617.3,1281.2 620.9,1278.7" stroke="#fef8e1"/><polyline points="620.1,1279.4 622.1,1277.6" stroke="#dcd4ba"/><polyline points="621.3,1278.3 623.2,1276.4" stroke="#9a8e72"/><polyline points="622.5,1277.2 624.3,1275.1" stroke="#55462a"/><polyline points="623.6,1276.0 625.2,1273.8" stroke="#2e2006"/><polyline points="624.6,1274.7 626.0,1272.3" stroke="#271b04"/><polyline points="625.5,1273.3 626.7,1270.9" stroke="#564215"/><polyline points="626.3,1271.8 627.3,1269.3" stroke="#a48432"/><polyline points="627.0,1270.3 627.9,1267.8" stroke="#c5a143"/><polyline points="627.5,1268.8 628.2,1266.2" stroke="#cca94c"/><polyline points="628.0,1267.2 628.5,1264.5" stroke="#d2b054"/><polyline points="628.3,1265.6 628.6,1262.9" stroke="#d7b55a"/><polyline points="628.6,1263.9 628.6,1261.2" stroke="#debf68"/><polyline points="628.6,1262.3 628.5,1259.6" stroke="#e4c876"/><polyline points="628.6,1260.6 628.3,1258.0" stroke="#ead083"/><polyline points="628.4,1259.0 627.9,1256.4" stroke="#efd890"/><polyline points="628.1,1257.4 627.4,1254.8" stroke="#f3de9d"/><polyline points="627.8,1255.8 626.1,1251.7" stroke="#f7e5aa"/><polyline points="626.6,1252.7 623.4,1247.6" stroke="#f8e7af"/><polyline points="624.1,1248.5 508.6,1113.6" stroke="#f9e9b4"/><polyline points="302.2,1422.6 616.1,1283.7 620.5,1281.0" stroke="#fffae6"/><polyline points="619.6,1281.7 623.2,1278.7" stroke="#fef8e0"/><polyline points="622.4,1279.5 625.5,1276.1" stroke="#fcf5db"/><polyline points="624.8,1277.0 626.5,1274.6" stroke="#dbd1b3"/><polyline points="625.9,1275.6 627.4,1273.1" stroke="#998c6d"/><polyline points="626.9,1274.1 628.2,1271.5" stroke="#544528"/><polyline points="627.7,1272.5 628.8,1269.9" stroke="#2d1f06"/><polyline points="628.4,1270.9 629.4,1268.2" stroke="#3e2e0c"/><polyline points="629.0,1269.2 629.8,1266.5" stroke="#6e561d"/><polyline points="629.5,1267.6 630.0,1264.7" stroke="#a48332"/><polyline points="629.9,1265.8 630.2,1263.0" stroke="#c39f41"/><polyline points="630.1,1264.1 630.2,1261.2" stroke="#c9a648"/><polyline points="630.2,1262.3 630.1,1259.4" stroke="#ceab4e"/><polyline points="630.1,1260.5 629.8,1257.7" stroke="#d2b054"/><polyline points="630.0,1258.8 628.9,1254.3" stroke="#d7b55a"/><polyline points="629.3,1255.3 627.5,1251.0" stroke="#dcbb60"/><polyline points="628.0,1252.0 626.7,1249.5" stroke="#e2c36d"/><polyline points="627.2,1250.5 625.7,1248.0" stroke="#e6ca79"/><polyline points="626.3,1248.9 623.1,1244.8" stroke="#ebd184"/><polyline points="624.1,1246.0 619.8,1240.9" stroke="#efd890"/><polyline points="620.8,1242.1 509.7,1112.5" stroke="#f3de9c"/><polyline points="302.8,1424.0 616.7,1285.1 621.5,1282.3" stroke="#fffae7"/><polyline points="620.5,1283.0 624.3,1279.9" stroke="#fef8e2"/><polyline points="623.4,1280.7 626.8,1277.0" stroke="#fdf6dd"/><polyline points="626.0,1277.9 627.8,1275.5" stroke="#fcf4d8"/><polyline points="627.2,1276.5 628.8,1273.8" stroke="#fbf2d4"/><polyline points="628.2,1274.9 629.6,1272.1" stroke="#faf0cf"/><polyline points="629.1,1273.2 630.3,1270.4" stroke="#b9ac8a"/><polyline points="629.9,1271.5 630.9,1268.6" stroke="#766747"/><polyline points="630.5,1269.7 631.3,1266.8" stroke="#312207"/><polyline points="631.0,1267.9 631.6,1264.9" stroke="#291c05"/><polyline points="631.4,1266.1 631.7,1263.0" stroke="#554113"/><polyline points="631.7,1264.2 631.7,1261.1" stroke="#876b25"/><polyline points="631.8,1262.3 631.6,1259.3" stroke="#bd993a"/><polyline points="631.7,1260.5 631.4,1257.4" stroke="#c29e40"/><polyline points="631.5,1258.6 631.0,1255.6" stroke="#c7a346"/><polyline points="631.2,1256.7 630.4,1253.8" stroke="#cba84b"/><polyline points="630.8,1254.9 628.9,1250.3" stroke="#cfad50"/><polyline points="629.5,1251.4 627.0,1247.1" stroke="#d4b256"/><polyline points="627.6,1248.1 622.6,1241.8" stroke="#d8b75b"/><polyline points="623.7,1243.0 510.9,1111.5" stroke="#dbba5f"/><polyline points="303.4,1425.4 617.3,1286.5 622.4,1283.6" stroke="#fffbe8"/><polyline points="621.4,1284.3 625.4,1281.0" stroke="#fef9e4"/><polyline points="624.5,1281.8 628.0,1277.9" stroke="#fdf7df"/><polyline points="627.3,1278.9 630.2,1274.6" stroke="#fcf4d9"/><polyline points="629.6,1275.7 631.0,1272.8" stroke="#fbf2d3"/><polyline points="630.5,1273.9 631.8,1270.9" stroke="#faf0ce"/><polyline points="631.3,1272.1 632.4,1269.0" stroke="#f9eec9"/><polyline points="632.0,1270.2 632.8,1267.1" stroke="#d8cba5"/><polyline points="632.6,1268.3 633.1,1265.1" stroke="#978863"/><polyline points="633.0,1266.3 633.3,1263.1" stroke="#342408"/><polyline points="633.2,1264.4 633.3,1261.1" stroke="#2c1f06"/><polyline points="633.3,1262.4 633.2,1259.1" stroke="#251904"/><polyline points="633.3,1260.4 632.9,1257.1" stroke="#6d551b"/><polyline points="633.1,1258.4 632.5,1255.2" stroke="#a07f2d"/><polyline points="632.8,1256.4 631.9,1253.3" stroke="#bd983a"/><polyline points="632.3,1254.5 631.2,1251.4" stroke="#c19d3f"/><polyline points="631.7,1252.6 629.4,1247.8" stroke="#c6a245"/><polyline points="630.0,1248.9 627.0,1244.6" stroke="#cba84b"/><polyline points="627.8,1245.6 622.2,1238.9" stroke="#cfad50"/><polyline points="623.2,1240.1 512.1,1110.5" stroke="#d2b053"/><polyline points="304.1,1426.9 618.0,1288.0 622.4,1285.5 625.0,1283.5" stroke="#fffbe8"/><polyline points="623.9,1284.4 628.0,1280.5" stroke="#fef9e4"/><polyline points="627.1,1281.5 630.5,1277.1" stroke="#fdf7df"/><polyline points="629.8,1278.3 632.5,1273.4" stroke="#fcf4d8"/><polyline points="631.9,1274.6 633.3,1271.4" stroke="#fbf2d2"/><polyline points="632.8,1272.7 633.9,1269.4" stroke="#faf0ce"/><polyline points="633.5,1270.7 634.4,1267.4" stroke="#f9edc8"/><polyline points="634.1,1268.7 634.7,1265.3" stroke="#f7ebc3"/><polyline points="634.5,1266.6 634.9,1263.2" stroke="#f6e8bc"/><polyline points="634.8,1264.5 634.9,1261.1" stroke="#b6a67d"/><polyline points="634.9,1262.4 634.8,1258.9" stroke="#554524"/><polyline points="634.9,1260.3 634.5,1256.8" stroke="#302107"/><polyline points="634.7,1258.2 634.0,1254.8" stroke="#291c05"/><polyline points="634.3,1256.1 633.4,1252.8" stroke="#3d2d0b"/><polyline points="633.8,1254.0 632.6,1250.8" stroke="#6d541b"/><polyline points="633.2,1252.0 631.7,1248.9" stroke="#a07f2c"/><polyline points="632.3,1250.1 629.5,1245.2" stroke="#bd983a"/><polyline points="630.3,1246.4 626.6,1241.7" stroke="#c29e40"/><polyline points="627.7,1242.9 620.1,1234.0" stroke="#c7a345"/><polyline points="621.1,1235.2 513.3,1109.5" stroke="#c8a548"/><polyline points="304.7,1428.3 618.6,1289.4 623.3,1286.8 626.0,1284.7" stroke="#fffbe9"/><polyline points="624.9,1285.6 630.6,1279.8" stroke="#fef9e5"/><polyline points="629.7,1280.9 632.9,1276.0" stroke="#fdf7df"/><polyline points="632.3,1277.3 634.8,1272.0" stroke="#fcf4d8"/><polyline points="634.2,1273.3 635.4,1269.8" stroke="#faf1d2"/><polyline points="635.0,1271.2 635.9,1267.7" stroke="#f9efcd"/><polyline points="635.6,1269.0 636.3,1265.5" stroke="#f8edc8"/><polyline points="636.1,1266.9 636.4,1263.2" stroke="#f7ebc2"/><polyline points="636.4,1264.6 636.5,1261.0" stroke="#f6e8bc"/><polyline points="636.5,1262.4 636.3,1258.8" stroke="#f5e6b6"/><polyline points="636.4,1260.2 636.0,1256.6" stroke="#d4c494"/><polyline points="636.2,1258.0 635.5,1254.4" stroke="#75643f"/><polyline points="635.8,1255.8 634.9,1252.2" stroke="#332408"/><polyline points="635.3,1253.6 634.1,1250.2" stroke="#2d1f06"/><polyline points="634.6,1251.5 633.1,1248.1" stroke="#281b05"/><polyline points="633.8,1249.4 632.0,1246.2" stroke="#3c2c0b"/><polyline points="632.7,1247.4 630.8,1244.3" stroke="#6c541a"/><polyline points="631.6,1245.5 629.4,1242.6" stroke="#856923"/><polyline points="630.3,1243.7 626.2,1238.8" stroke="#ba9535"/><polyline points="627.2,1240.0 514.5,1108.5" stroke="#be993a"/><polyline points="305.3,1429.7 619.2,1290.8 624.1,1288.1 628.8,1284.3" stroke="#fffbea"/><polyline points="627.7,1285.3 630.4,1282.6 633.1,1278.8" stroke="#fef9e5"/><polyline points="632.3,1280.1 635.4,1274.7" stroke="#fdf7e0"/><polyline points="634.7,1276.0 637.0,1270.3" stroke="#fcf4d9"/><polyline points="636.5,1271.7 637.5,1268.0" stroke="#faf2d3"/><polyline points="637.1,1269.4 637.8,1265.6" stroke="#f9f0ce"/><polyline points="637.6,1267.1 638.0,1263.3" stroke="#f8edc8"/><polyline points="637.9,1264.8 638.0,1261.0" stroke="#f7ebc3"/><polyline points="638.0,1262.4 637.9,1258.6" stroke="#f6e8bd"/><polyline points="638.0,1260.1 637.6,1256.3" stroke="#f5e6b6"/><polyline points="637.8,1257.8 637.1,1254.0" stroke="#f3e3b0"/><polyline points="637.4,1255.4 636.4,1251.7" stroke="#f2e0a9"/><polyline points="636.8,1253.2 635.5,1249.6" stroke="#958357"/><polyline points="636.1,1250.9 634.5,1247.4" stroke="#554422"/><polyline points="635.2,1248.8 633.4,1245.4" stroke="#322307"/><polyline points="634.1,1246.7 632.1,1243.4" stroke="#2e1f06"/><polyline points="632.9,1244.7 629.0,1239.7" stroke="#281b05"/><polyline points="630.1,1240.9 627.4,1237.7" stroke="#3c2c0b"/><polyline points="628.4,1238.9 625.7,1235.8" stroke="#544012"/><polyline points="626.8,1237.0 622.5,1232.0" stroke="#6c541a"/><polyline points="623.5,1233.2 515.7,1107.4" stroke="#856822"/><polyline points="306.0,1431.2 621.9,1291.3" stroke="#fdf7de"/><polyline points="620.5,1291.9 624.1,1290.0" stroke="#fef9e5"/><polyline points="622.7,1290.8 627.4,1287.7 633.1,1281.7" stroke="#fffbea"/><polyline points="632.1,1282.9 635.7,1277.5" stroke="#fef9e5"/><polyline points="635.0,1278.9 637.7,1273.0" stroke="#fdf7e0"/><polyline points="637.1,1274.5 639.0,1268.3" stroke="#fcf4da"/><polyline points="638.7,1269.8 639.4,1265.8" stroke="#faf2d3"/><polyline points="639.2,1267.4 639.6,1263.4" stroke="#faf0cf"/><polyline points="639.5,1264.9 639.6,1260.9" stroke="#f8eec9"/><polyline points="639.6,1262.5 639.4,1258.4" stroke="#f7ebc4"/><polyline points="639.6,1260.0 639.1,1256.0" stroke="#f6e9be"/><polyline points="639.3,1257.6 638.6,1253.6" stroke="#f5e6b8"/><polyline points="638.9,1255.1 637.9,1251.2" stroke="#f4e4b1"/><polyline points="638.3,1252.7 637.0,1248.9" stroke="#f2e1ab"/><polyline points="637.6,1250.4 635.9,1246.7" stroke="#f1dea5"/><polyline points="636.6,1248.1 634.7,1244.6" stroke="#d2be86"/><polyline points="635.5,1245.9 633.4,1242.5" stroke="#948152"/><polyline points="634.2,1243.8 631.8,1240.6" stroke="#736138"/><polyline points="632.8,1241.8 628.6,1236.7" stroke="#332308"/><polyline points="629.6,1237.9 623.6,1231.0" stroke="#2d1f06"/><polyline points="624.7,1232.2 516.9,1106.4" stroke="#2b1d05"/><polyline points="306.6,1432.6 622.7,1292.6" stroke="#f6e7b7"/><polyline points="621.2,1293.4 627.0,1289.9" stroke="#f7eabc"/><polyline points="625.7,1290.8 629.1,1288.3" stroke="#faf0cd"/><polyline points="627.8,1289.3 631.0,1286.5" stroke="#fcf4d6"/><polyline points="629.8,1287.7 632.7,1284.7" stroke="#fef9e4"/><polyline points="631.6,1285.8 634.7,1282.2 637.1,1278.3" stroke="#fffbe9"/><polyline points="636.3,1279.7 639.2,1273.5" stroke="#fef9e4"/><polyline points="638.6,1275.1 640.6,1268.6" stroke="#fdf6df"/><polyline points="640.2,1270.2 640.9,1266.0" stroke="#fbf4d9"/><polyline points="640.7,1267.6 641.1,1263.4" stroke="#fbf2d5"/><polyline points="641.1,1265.1 641.2,1260.9" stroke="#faf0d0"/><polyline points="641.2,1262.5 641.0,1258.3" stroke="#f9eecb"/><polyline points="641.1,1259.9 640.7,1255.7" stroke="#f8ecc6"/><polyline points="640.9,1257.3 640.1,1253.2" stroke="#f7eac0"/><polyline points="640.5,1254.8 639.3,1250.7" stroke="#f5e7ba"/><polyline points="639.8,1252.3 638.4,1248.3" stroke="#f4e5b4"/><polyline points="639.1,1249.8 637.3,1246.0" stroke="#f3e2ae"/><polyline points="638.1,1247.5 636.1,1243.7" stroke="#f2e0a8"/><polyline points="636.9,1245.1 634.6,1241.6" stroke="#f1dda2"/><polyline points="635.5,1242.9 633.1,1239.5" stroke="#efdb9d"/><polyline points="634.1,1240.8 631.4,1237.6" stroke="#eed998"/><polyline points="632.5,1238.8 629.8,1235.7" stroke="#d0ba7d"/><polyline points="630.8,1236.9 628.1,1233.8" stroke="#b19c64"/><polyline points="629.2,1235.0 626.5,1231.9" stroke="#927e4c"/><polyline points="627.5,1233.1 518.1,1105.4" stroke="#746135"/><polyline points="307.3,1434.1 621.1,1295.2 625.8,1292.7" stroke="#f1dfa9"/><polyline points="624.3,1293.6 630.1,1289.5" stroke="#f3e3af"/><polyline points="628.8,1290.6 632.1,1287.7" stroke="#f5e6b5"/><polyline points="630.8,1288.8 633.9,1285.7" stroke="#f6e8b9"/><polyline points="632.8,1286.9 635.6,1283.6" stroke="#f9edc5"/><polyline points="634.6,1284.9 637.1,1281.3" stroke="#fcf4d6"/><polyline points="636.2,1282.8 638.5,1279.0" stroke="#fef9e4"/><polyline points="637.7,1280.5 640.7,1274.1" stroke="#fefae8"/><polyline points="640.1,1275.7 642.1,1268.9" stroke="#fdf8e3"/><polyline points="641.7,1270.5 642.7,1263.5" stroke="#fcf6dd"/><polyline points="642.6,1265.2 642.7,1260.8" stroke="#fbf3d7"/><polyline points="642.8,1262.5 642.6,1258.1" stroke="#faf1d2"/><polyline points="642.7,1259.8 642.2,1255.4" stroke="#f9efcd"/><polyline points="642.4,1257.1 641.6,1252.8" stroke="#f8edc8"/><polyline points="642.0,1254.5 640.8,1250.2" stroke="#f7ebc2"/><polyline points="641.4,1251.9 639.9,1247.7" stroke="#f6e8bd"/><polyline points="640.5,1249.3 638.7,1245.3" stroke="#f5e6b7"/><polyline points="639.5,1246.8 637.4,1242.9" stroke="#f4e4b2"/><polyline points="638.3,1244.4 635.9,1240.7" stroke="#f3e2ac"/><polyline points="636.9,1242.1 634.3,1238.5" stroke="#f2dfa7"/><polyline points="635.3,1239.9 632.6,1236.6" stroke="#f1dda3"/><polyline points="633.6,1237.8 629.3,1232.7" stroke="#efdb9d"/><polyline points="630.4,1234.0 519.3,1104.4" stroke="#eed896"/><polyline points="307.9,1435.5 621.8,1296.6 626.6,1294.0" stroke="#ecd79a"/><polyline points="625.1,1294.9 631.1,1290.7" stroke="#eedaa0"/><polyline points="629.7,1291.8 633.2,1288.8" stroke="#efdda4"/><polyline points="631.9,1290.0 635.1,1286.7" stroke="#f1dfa8"/><polyline points="633.9,1288.0 636.9,1284.5" stroke="#f2e1ad"/><polyline points="635.8,1285.9 638.5,1282.2" stroke="#f4e4b2"/><polyline points="637.5,1283.7 639.9,1279.7" stroke="#f6e8b9"/><polyline points="639.0,1281.3 641.1,1277.2" stroke="#f9eec6"/><polyline points="640.4,1278.8 642.2,1274.6" stroke="#fdf6dd"/><polyline points="641.5,1276.3 643.6,1269.2" stroke="#fefae8"/><polyline points="643.2,1270.9 644.3,1263.6" stroke="#fdf8e3"/><polyline points="644.2,1265.4 644.3,1260.8" stroke="#fcf6dd"/><polyline points="644.3,1262.6 644.1,1258.0" stroke="#fbf4d9"/><polyline points="644.3,1259.7 643.8,1255.2" stroke="#fbf2d5"/><polyline points="644.0,1256.9 643.1,1252.4" stroke="#faf0d0"/><polyline points="643.5,1254.2 642.3,1249.7" stroke="#f9eecb"/><polyline points="642.9,1251.4 641.3,1247.1" stroke="#f8ecc6"/><polyline points="642.0,1248.7 640.1,1244.5" stroke="#f7eac1"/><polyline points="640.9,1246.1 638.7,1242.1" stroke="#f6e8bb"/><polyline points="639.6,1243.6 637.2,1239.7" stroke="#f4e6b6"/><polyline points="638.2,1241.2 635.5,1237.5" stroke="#f4e4b2"/><polyline points="636.6,1238.9 632.2,1233.6" stroke="#f2e1ab"/><polyline points="633.2,1234.9 628.9,1229.8" stroke="#f1dea5"/><polyline points="629.9,1231.0 520.5,1103.3" stroke="#f0dda1"/><polyline points="308.5,1436.9 622.4,1298.0 627.4,1295.3" stroke="#e7ce8b"/><polyline points="625.8,1296.3 632.1,1291.9" stroke="#e9d190"/><polyline points="630.7,1293.0 636.3,1287.7" stroke="#ebd596"/><polyline points="635.0,1289.1 638.1,1285.4" stroke="#edd89c"/><polyline points="637.0,1286.9 639.8,1283.0" stroke="#eedba0"/><polyline points="638.8,1284.6 641.3,1280.5" stroke="#f0dea6"/><polyline points="640.4,1282.1 642.5,1277.8" stroke="#f2e1ac"/><polyline points="641.8,1279.5 643.6,1275.1" stroke="#f4e5b3"/><polyline points="643.0,1276.9 644.5,1272.3" stroke="#f7e9bb"/><polyline points="644.0,1274.1 645.2,1269.5" stroke="#fbf3d5"/><polyline points="644.8,1271.3 645.8,1265.5 645.7,1257.8" stroke="#fdf9e4"/><polyline points="645.8,1259.6 645.3,1254.9" stroke="#fcf5dc"/><polyline points="645.6,1256.7 644.7,1252.0" stroke="#fbf4d8"/><polyline points="645.1,1253.8 643.8,1249.2" stroke="#faf2d3"/><polyline points="644.4,1251.0 642.8,1246.5" stroke="#f9f0cf"/><polyline points="643.5,1248.2 641.5,1243.8" stroke="#f8eeca"/><polyline points="642.3,1245.5 640.1,1241.3" stroke="#f7ecc5"/><polyline points="641.0,1242.9 638.5,1238.8" stroke="#f6eac0"/><polyline points="639.5,1240.4 636.7,1236.5" stroke="#f6e8bc"/><polyline points="637.8,1238.0 633.4,1232.6" stroke="#f4e6b6"/><polyline points="634.4,1233.8 630.1,1228.8" stroke="#f3e3b0"/><polyline points="631.1,1230.0 521.7,1102.3" stroke="#f2e1ac"/><polyline points="309.2,1438.4 623.1,1299.5 628.3,1296.7" stroke="#e2c67c"/><polyline points="626.6,1297.7 633.2,1293.1" stroke="#e3c880"/><polyline points="631.7,1294.3 637.5,1288.8" stroke="#e5cb85"/><polyline points="636.2,1290.2 639.4,1286.4" stroke="#e7ce8a"/><polyline points="638.2,1287.9 641.1,1283.9" stroke="#e8d18e"/><polyline points="640.1,1285.5 642.6,1281.2" stroke="#ead393"/><polyline points="641.7,1282.9 644.0,1278.5" stroke="#ecd698"/><polyline points="643.2,1280.2 645.1,1275.7" stroke="#eeda9e"/><polyline points="644.4,1277.5 646.0,1272.7" stroke="#f0dda5"/><polyline points="645.5,1274.6 646.7,1269.8" stroke="#f2e2ad"/><polyline points="646.3,1271.7 647.2,1266.8" stroke="#f5e7b6"/><polyline points="646.9,1268.7 647.4,1263.7" stroke="#faf0cc"/><polyline points="647.3,1265.7 647.5,1260.7" stroke="#fef9e3"/><polyline points="647.5,1262.6 646.8,1254.6" stroke="#fef9e5"/><polyline points="647.1,1256.5 646.2,1251.6" stroke="#fdf7e0"/><polyline points="646.6,1253.5 645.3,1248.7" stroke="#fcf5dc"/><polyline points="645.9,1250.6 644.2,1245.9" stroke="#fbf3d8"/><polyline points="644.9,1247.7 642.9,1243.1" stroke="#faf2d3"/><polyline points="643.8,1244.8 641.4,1240.4" stroke="#f9f0cf"/><polyline points="642.4,1242.1 639.7,1237.9" stroke="#f8eecb"/><polyline points="640.8,1239.5 636.2,1233.5" stroke="#f7ecc5"/><polyline points="637.2,1234.7 632.9,1229.7" stroke="#f6e9be"/><polyline points="633.9,1230.9 522.9,1101.3" stroke="#f5e6b8"/><polyline points="309.8,1439.8 623.7,1300.9 631.7,1296.2" stroke="#ddbe6d"/><polyline points="630.1,1297.4 636.5,1292.1" stroke="#dfc172"/><polyline points="635.1,1293.5 640.7,1287.3" stroke="#e1c477"/><polyline points="639.4,1288.9 644.0,1282.0" stroke="#e3c87e"/><polyline points="643.1,1283.7 645.4,1279.1" stroke="#e5cc85"/><polyline points="644.6,1280.9 646.6,1276.2" stroke="#e7ce8a"/><polyline points="645.9,1278.0 647.6,1273.2" stroke="#e9d28f"/><polyline points="647.0,1275.1 648.3,1270.1" stroke="#ebd596"/><polyline points="647.8,1272.0 648.7,1266.9" stroke="#eed99d"/><polyline points="648.5,1268.9 649.0,1263.8" stroke="#f0dea6"/><polyline points="648.9,1265.8 649.0,1260.6" stroke="#f3e3b0"/><polyline points="649.0,1262.6 648.8,1257.5" stroke="#f8ecc2"/><polyline points="649.0,1259.5 648.4,1254.3" stroke="#fcf6db"/><polyline points="648.7,1256.3 646.8,1248.2" stroke="#fefae6"/><polyline points="647.4,1250.1 644.3,1242.4" stroke="#fcf6de"/><polyline points="645.2,1244.2 641.0,1237.0" stroke="#fbf3d7"/><polyline points="642.1,1238.6 637.4,1232.5" stroke="#f9f0cf"/><polyline points="638.4,1233.7 634.1,1228.7" stroke="#f8edc9"/><polyline points="635.1,1229.9 524.1,1100.3" stroke="#f7ebc4"/><polyline points="310.4,1441.2 624.3,1302.3 632.6,1297.5" stroke="#ba9b50"/><polyline points="631.0,1298.7 634.3,1296.2 639.9,1290.8" stroke="#dab963"/><polyline points="638.5,1292.3 643.8,1285.5" stroke="#dcbc69"/><polyline points="642.6,1287.3 646.9,1279.7" stroke="#dfc06f"/><polyline points="646.0,1281.6 648.1,1276.7" stroke="#e1c375"/><polyline points="647.3,1278.6 649.1,1273.6" stroke="#e2c67a"/><polyline points="648.5,1275.6 649.8,1270.4" stroke="#e4c97f"/><polyline points="649.4,1272.4 650.3,1267.1" stroke="#e6cc84"/><polyline points="650.0,1269.2 650.6,1263.9" stroke="#e8d08b"/><polyline points="650.5,1265.9 650.6,1260.6" stroke="#ead493"/><polyline points="650.6,1262.7 650.4,1257.3" stroke="#edd99c"/><polyline points="650.5,1259.4 649.9,1254.0" stroke="#f0dea6"/><polyline points="650.2,1256.1 649.2,1250.8" stroke="#f4e5b3"/><polyline points="649.7,1252.9 648.3,1247.7" stroke="#faf1d1"/><polyline points="648.9,1249.7 646.4,1243.0 642.3,1236.1" stroke="#fdf8e2"/><polyline points="643.4,1237.8 638.6,1231.5" stroke="#fbf4da"/><polyline points="639.6,1232.7 635.3,1227.6" stroke="#faf2d4"/><polyline points="636.3,1228.9 525.3,1099.3" stroke="#f9f0cf"/><polyline points="311.1,1442.7 625.0,1303.8 632.1,1299.9 638.7,1294.3" stroke="#271b05"/><polyline points="637.2,1295.8 643.2,1289.2" stroke="#423313"/><polyline points="641.8,1290.9 646.8,1283.4" stroke="#604d22"/><polyline points="645.8,1285.3 649.6,1277.2" stroke="#7e6833"/><polyline points="648.8,1279.2 651.4,1270.7" stroke="#9e8547"/><polyline points="650.9,1272.8 651.9,1267.3" stroke="#bfa35c"/><polyline points="651.6,1269.5 652.1,1263.9" stroke="#e0c170"/><polyline points="652.0,1266.1 652.2,1260.5" stroke="#e1c475"/><polyline points="652.2,1262.7 651.9,1257.1" stroke="#e3c87b"/><polyline points="652.1,1259.3 651.5,1253.8" stroke="#e6cc82"/><polyline points="651.8,1255.9 650.7,1250.5" stroke="#e8d08b"/><polyline points="651.2,1252.6 649.8,1247.2" stroke="#ebd695"/><polyline points="650.4,1249.2 648.5,1244.0" stroke="#efdca2"/><polyline points="649.4,1246.0 647.1,1240.9" stroke="#f5e7b8"/><polyline points="648.1,1242.9 645.4,1238.0" stroke="#faf1d0"/><polyline points="646.5,1239.8 643.6,1235.1" stroke="#fdf8e1"/><polyline points="644.8,1236.9 639.8,1230.4" stroke="#fdf9e4"/><polyline points="640.8,1231.7 636.5,1226.6" stroke="#fcf6df"/><polyline points="637.5,1227.8 526.4,1098.2" stroke="#fcf5da"/><polyline points="311.7,1444.1 628.6,1303.8" stroke="#ba9b4b"/><polyline points="626.6,1304.7 632.9,1301.2 637.3,1297.8" stroke="#9e833f"/><polyline points="635.5,1299.2 642.3,1292.9" stroke="#836b32"/><polyline points="640.7,1294.5 646.4,1287.2" stroke="#665224"/><polyline points="645.2,1289.1 648.2,1284.2" stroke="#493815"/><polyline points="647.1,1286.1 649.2,1282.3 652.1,1274.4" stroke="#2b1e06"/><polyline points="651.4,1276.5 653.0,1270.3 653.7,1264.0" stroke="#261a05"/><polyline points="653.6,1266.2 653.7,1260.5" stroke="#241804"/><polyline points="653.8,1262.7 653.5,1257.0" stroke="#423414"/><polyline points="653.7,1259.2 652.3,1250.1" stroke="#615027"/><polyline points="652.8,1252.2 650.0,1243.4" stroke="#826e3d"/><polyline points="650.8,1245.5 648.5,1240.2" stroke="#a38e55"/><polyline points="649.5,1242.2 646.8,1237.2" stroke="#a5925c"/><polyline points="647.9,1239.1 644.8,1234.2" stroke="#c9b479"/><polyline points="646.1,1236.1 642.7,1231.5" stroke="#cebe8e"/><polyline points="644.1,1233.2 641.0,1229.4" stroke="#f3e4b4"/><polyline points="642.0,1230.6 639.3,1227.5" stroke="#f8eecc"/><polyline points="640.4,1228.7 637.7,1225.6" stroke="#fbf5db"/><polyline points="638.7,1226.8 527.6,1097.2" stroke="#fef9e6"/><polyline points="312.3,1445.6 626.2,1306.7 633.8,1302.5 641.0,1296.6" stroke="#d4b157"/><polyline points="639.3,1298.1 646.2,1290.4 649.6,1284.9" stroke="#d6b55c"/><polyline points="648.5,1286.9 652.5,1278.3" stroke="#d8b860"/><polyline points="651.7,1280.4 653.6,1274.8" stroke="#bda053"/><polyline points="652.9,1277.0 654.4,1271.3" stroke="#a18744"/><polyline points="653.9,1273.5 655.3,1264.1" stroke="#856e36"/><polyline points="655.2,1266.4 655.3,1260.4" stroke="#685427"/><polyline points="655.3,1262.7 654.6,1253.2" stroke="#4a3a17"/><polyline points="654.9,1255.5 653.7,1249.1 649.9,1239.5" stroke="#2a1d06"/><polyline points="650.9,1241.6 646.3,1233.5 638.9,1224.6" stroke="#251904"/><polyline points="639.9,1225.8 637.2,1222.7" stroke="#231803"/><polyline points="638.3,1223.9 635.6,1220.7" stroke="#433517"/><polyline points="636.6,1221.9 528.8,1096.2" stroke="#483e2a"/><polyline points="313.0,1447.0 626.9,1308.1 634.7,1303.8 642.1,1297.7" stroke="#d1ae53"/><polyline points="640.3,1299.3 647.5,1291.3 651.0,1285.7" stroke="#d3b258"/><polyline points="649.8,1287.7 652.0,1283.6 655.1,1275.2" stroke="#d6b55c"/><polyline points="654.4,1277.5 656.1,1270.9 656.8,1264.1" stroke="#d8b861"/><polyline points="656.7,1266.5 656.7,1257.5 656.1,1252.9" stroke="#dbbc66"/><polyline points="656.5,1255.3 655.3,1249.3" stroke="#dcbe69"/><polyline points="655.8,1251.6 654.2,1245.7" stroke="#c0a55a"/><polyline points="654.9,1247.9 651.3,1238.8" stroke="#a48b4b"/><polyline points="652.3,1240.9 647.4,1232.4" stroke="#87713b"/><polyline points="648.7,1234.4 643.3,1227.4" stroke="#6a572a"/><polyline points="644.4,1228.6 636.8,1219.7" stroke="#4b3b19"/><polyline points="637.8,1220.9 530.0,1095.2" stroke="#2d2007"/><polyline points="313.6,1448.4 627.5,1309.5 635.6,1305.1 639.3,1302.3 645.8,1296.0" stroke="#cfac50"/><polyline points="644.2,1297.8 648.8,1292.2 654.0,1282.9" stroke="#d1af55"/><polyline points="653.0,1285.1 655.2,1280.1 657.5,1271.9" stroke="#d4b359"/><polyline points="657.0,1274.3 658.3,1266.6 658.4,1260.3" stroke="#d6b65d"/><polyline points="658.5,1262.8 658.3,1257.4 656.8,1248.9" stroke="#d8b962"/><polyline points="657.4,1251.3 655.3,1243.9 652.7,1238.1" stroke="#dabc66"/><polyline points="653.8,1240.3 648.8,1231.7 644.5,1226.4" stroke="#ddbf6b"/><polyline points="645.6,1227.6 531.2,1094.1" stroke="#dfc26f"/><polyline points="314.2,1449.9 628.1,1311.0 636.5,1306.4 640.3,1303.5 647.0,1297.0" stroke="#cca94c"/><polyline points="645.3,1298.8 650.0,1293.2 655.5,1283.6" stroke="#cfac51"/><polyline points="654.4,1285.8 658.2,1276.1 659.7,1268.2" stroke="#d1af55"/><polyline points="659.3,1270.7 660.1,1262.0 659.2,1252.4" stroke="#d4b35a"/><polyline points="659.6,1254.9 658.2,1247.9 656.8,1243.3 654.1,1237.3" stroke="#d6b75f"/><polyline points="655.2,1239.6 650.1,1230.7 644.1,1223.4" stroke="#d9ba64"/><polyline points="645.1,1224.6 532.4,1093.1" stroke="#dbbc67"/><polyline points="314.9,1451.3 628.8,1312.4 633.2,1310.2 641.3,1304.7 644.9,1301.5 650.8,1294.8" stroke="#caa649"/><polyline points="649.1,1296.9 654.0,1290.0 656.3,1285.7 659.7,1276.5" stroke="#cdaa4e"/><polyline points="658.9,1279.0 660.8,1271.7 661.4,1266.9 661.6,1260.2" stroke="#cfae53"/><polyline points="661.6,1262.8 660.8,1252.2 658.7,1244.2" stroke="#d2b157"/><polyline points="659.5,1246.6 656.3,1238.3 654.0,1233.9 648.7,1226.4" stroke="#d4b45c"/><polyline points="650.3,1228.4 533.6,1092.1" stroke="#d6b65f"/><line x1="505.5" y1="1117.2" x2="500.3" y2="1111.2" stroke="#b4ad97"/><line x1="506.7" y1="1116.2" x2="499.6" y2="1108.0" stroke="#fdf4d4"/><line x1="507.9" y1="1115.2" x2="499.5" y2="1105.4" stroke="#fbefc5"/><line x1="509.1" y1="1114.2" x2="499.7" y2="1103.2" stroke="#f9e9b5"/><line x1="510.3" y1="1113.2" x2="500.1" y2="1101.3" stroke="#f3de9c"/><line x1="511.5" y1="1112.1" x2="500.7" y2="1099.5" stroke="#dcbb60"/><line x1="512.7" y1="1111.1" x2="501.4" y2="1097.9" stroke="#d2b054"/><line x1="513.8" y1="1110.1" x2="502.2" y2="1096.5" stroke="#c8a548"/><line x1="515.0" y1="1109.1" x2="503.1" y2="1095.1" stroke="#bf9a3b"/><line x1="516.2" y1="1108.0" x2="504.1" y2="1093.9" stroke="#856822"/><line x1="517.4" y1="1107.0" x2="505.2" y2="1092.8" stroke="#2b1d05"/><line x1="518.6" y1="1106.0" x2="506.4" y2="1091.7" stroke="#736035"/><line x1="519.8" y1="1105.0" x2="507.7" y2="1090.8" stroke="#eed895"/><line x1="521.0" y1="1104.0" x2="509.1" y2="1090.0" stroke="#f0dda1"/><line x1="522.2" y1="1102.9" x2="510.5" y2="1089.3" stroke="#f2e1ac"/><line x1="523.4" y1="1101.9" x2="512.1" y2="1088.7" stroke="#f5e6b7"/><line x1="524.6" y1="1100.9" x2="513.8" y2="1088.3" stroke="#f7ebc3"/><line x1="525.8" y1="1099.9" x2="515.6" y2="1088.0" stroke="#f9f0ce"/><line x1="527.0" y1="1098.8" x2="517.6" y2="1087.9" stroke="#fbf4da"/><line x1="528.2" y1="1097.8" x2="519.8" y2="1088.0" stroke="#fef9e5"/><line x1="529.4" y1="1096.8" x2="522.3" y2="1088.5" stroke="#483e2a"/><line x1="530.5" y1="1095.8" x2="525.3" y2="1089.7" stroke="#2d2007"/><path d="M531.2,1094.2 A18.0,18.0 0 0 0 503.8,1117.6" stroke="#3a2a08" stroke-width="2.2" fill="none"/><path d="M533.2,1092.4 A20.7,20.7 0 0 0 501.8,1119.4" stroke="(222, 194, 112)" stroke-width="2.6" fill="none"/></g><g fill="none" stroke-linecap="butt" stroke-linejoin="round" stroke-width="2.72"><circle cx="1440.5" cy="356.7" r="20.0" fill="#d6b660"/><polyline points="1004.1,363.8 1030.2,350.6 1084.5,326.7 1107.3,315.7 1118.8,309.4 1129.6,302.7 1138.2,296.6 1146.2,290.2 1153.6,283.2 1159.2,277.1 1164.3,270.6 1169.0,263.4 1178.0,247.2 1198.8,204.1 1205.4,192.6 1213.0,181.5 1221.9,171.0 1230.4,163.0 1240.0,156.0 1250.2,150.2 1265.4,144.0 1274.4,141.5 1283.7,139.6 1293.0,138.5 1302.5,138.1 1319.1,139.2 1335.5,142.5 1344.6,145.4 1353.4,148.9 1361.9,153.1 1370.1,157.8 1378.0,163.0 1386.4,169.4" stroke="#d1b25a"/><polyline points="1385.0,168.2 1394.3,176.3 1402.5,184.5 1410.2,193.1 1417.1,202.2 1423.4,211.6 1429.1,221.3 1434.1,231.3 1439.5,243.4 1444.0,255.9 1447.9,268.4 1451.1,281.1 1454.1,296.0 1456.3,310.8 1458.0,325.5 1459.6,356.3" stroke="#d6b661"/><polyline points="1005.0,365.4 1030.9,352.3 1083.4,329.2 1104.7,319.1 1126.0,307.2 1135.0,301.2 1143.4,294.9 1151.2,288.1 1158.4,280.8 1164.8,273.0 1169.6,265.9 1178.7,249.7 1197.0,211.5" stroke="#d9ba64"/><polyline points="1196.3,213.0 1203.6,199.2 1210.6,188.0 1218.6,177.3 1226.4,169.0 1235.3,161.5 1244.9,155.1 1255.2,149.9 1266.0,145.7 1277.1,142.7 1290.9,140.5 1304.8,140.0 1316.5,140.7 1330.4,143.1 1341.8,146.3 1354.8,151.6 1366.4,157.7" stroke="#d6b760"/><polyline points="1364.9,156.8 1378.8,165.8 1391.7,176.4" stroke="#dbbd67"/><polyline points="1390.4,175.2 1401.8,186.3" stroke="#ddbf6a"/><polyline points="1400.6,185.0 1413.0,199.6 1424.2,216.4 1429.5,226.1 1434.3,236.0 1442.3,256.4 1448.8,279.4 1453.3,302.6 1456.3,327.8 1457.8,356.4" stroke="#c1a55b"/><polyline points="1005.9,367.0 1018.7,360.2 1033.6,353.1 1096.8,325.0 1110.7,318.1 1123.8,310.7 1139.0,300.6 1151.2,290.6 1160.8,280.8 1169.9,268.9" stroke="#291d06"/><polyline points="1169.1,270.1 1173.5,263.2" stroke="#2e2108"/><polyline points="1172.7,264.4 1174.6,261.2" stroke="#312309"/><polyline points="1173.9,262.4 1178.0,255.0" stroke="#51401a"/><polyline points="1177.3,256.4 1181.3,248.7" stroke="#56441c"/><polyline points="1180.6,250.1 1183.4,244.3" stroke="#5b481f"/><polyline points="1182.7,245.7 1186.6,237.7" stroke="#79642f"/><polyline points="1185.9,239.1 1189.8,230.9" stroke="#7e6832"/><polyline points="1189.1,232.4 1193.0,224.0" stroke="#9a8241"/><polyline points="1192.3,225.5 1195.2,219.4" stroke="#9e8543"/><polyline points="1194.5,220.9 1199.9,210.0" stroke="#b69b51"/><polyline points="1199.1,211.5 1201.1,207.6" stroke="#b99d52"/><polyline points="1200.3,209.1 1207.7,195.9" stroke="#ccaf5d"/><polyline points="1206.8,197.4 1212.1,189.1 1218.6,180.2 1224.5,173.5 1231.0,167.2 1238.2,161.6 1245.8,156.7 1253.9,152.5 1262.2,149.0 1270.9,146.1 1282.0,143.6 1291.1,142.3 1302.5,141.8 1314.0,142.3 1323.2,143.5 1332.3,145.4 1342.1,148.3" stroke="#dabc66"/><polyline points="1340.3,147.7 1352.8,152.6" stroke="#cfb160"/><polyline points="1351.1,151.9 1363.0,157.8" stroke="#bb9f54"/><polyline points="1361.5,157.0 1370.4,162.2" stroke="#a38946"/><polyline points="1368.8,161.3 1372.7,163.8" stroke="#a08645"/><polyline points="1371.2,162.8 1377.4,167.0" stroke="#876f36"/><polyline points="1375.9,166.0 1379.6,168.7" stroke="#836c35"/><polyline points="1378.2,167.7 1384.1,172.2" stroke="#685325"/><polyline points="1382.7,171.1 1388.4,175.8" stroke="#624f22"/><polyline points="1387.0,174.7 1390.5,177.7" stroke="#5e4b21"/><polyline points="1389.2,176.5 1394.6,181.5" stroke="#40300f"/><polyline points="1393.3,180.3 1398.5,185.5" stroke="#3a2b0d"/><polyline points="1397.3,184.3 1402.3,189.6" stroke="#35270b"/><polyline points="1401.2,188.3 1407.8,196.0" stroke="#302308"/><polyline points="1406.7,194.6 1411.2,200.4" stroke="#2c1f07"/><polyline points="1410.2,199.0 1420.3,213.5 1429.9,230.8 1437.7,248.8 1443.8,267.3 1448.9,288.2 1452.5,309.2 1454.8,332.0 1456.0,356.4" stroke="#4b3f23"/><polyline points="1006.7,368.6 1034.4,354.7 1095.8,327.5 1118.2,316.0 1132.6,307.3 1144.3,298.8 1155.0,289.5 1163.3,280.7" stroke="#d9b963"/><polyline points="1162.4,281.8 1164.7,279.0" stroke="#dfc479"/><polyline points="1163.8,280.1 1168.8,273.6" stroke="#bb9f53"/><polyline points="1168.0,274.8 1171.4,269.9" stroke="#c1a863"/><polyline points="1170.6,271.1 1173.8,266.1" stroke="#c7b175"/><polyline points="1173.1,267.3 1175.0,264.1" stroke="#cdbb86"/><polyline points="1174.3,265.3 1176.2,262.1" stroke="#d3c496"/><polyline points="1175.5,263.4 1177.4,260.0" stroke="#d4c59b"/><polyline points="1176.6,261.3 1179.6,255.9" stroke="#b8ac89"/><polyline points="1178.9,257.2 1181.8,251.7" stroke="#baaf90"/><polyline points="1181.1,253.0 1182.9,249.5" stroke="#bcb193"/><polyline points="1182.2,250.9 1186.1,242.9" stroke="#9e9273"/><polyline points="1185.4,244.3 1188.2,238.5" stroke="#a19576"/><polyline points="1187.6,239.9 1191.4,231.7" stroke="#877856"/><polyline points="1190.7,233.1 1192.5,229.4" stroke="#8b7c58"/><polyline points="1191.8,230.8 1194.6,224.8" stroke="#726038"/><polyline points="1193.9,226.3 1195.7,222.5" stroke="#75633a"/><polyline points="1195.0,224.0 1198.0,217.8" stroke="#5f491b"/><polyline points="1197.3,219.3 1200.3,213.2" stroke="#654f1e"/><polyline points="1199.5,214.7 1202.7,208.5" stroke="#6c5521"/><polyline points="1201.9,210.0 1205.2,203.8" stroke="#735a25"/><polyline points="1204.4,205.3 1207.9,199.1" stroke="#7a6028"/><polyline points="1207.0,200.6 1210.7,194.5" stroke="#80662b"/><polyline points="1209.8,196.0 1213.7,189.9" stroke="#876c2e"/><polyline points="1212.7,191.3 1217.0,185.3" stroke="#8e7232"/><polyline points="1215.9,186.8 1220.4,180.8" stroke="#a0833d"/><polyline points="1219.3,182.3 1224.2,176.5" stroke="#a58740"/><polyline points="1223.0,177.9 1228.2,172.3" stroke="#ab8c42"/><polyline points="1226.9,173.6 1234.8,166.4" stroke="#b9994c"/><polyline points="1233.4,167.6 1242.0,161.2" stroke="#be9e4e"/><polyline points="1240.4,162.3 1246.9,158.1" stroke="#c2a150"/><polyline points="1245.3,159.1 1254.6,154.1 1262.6,150.8" stroke="#ccab57"/><polyline points="1260.9,151.4 1271.4,147.9 1280.1,145.8 1291.2,144.2 1301.9,143.6" stroke="#cdad58"/><polyline points="1300.1,143.6 1310.5,143.8" stroke="#c1a050"/><polyline points="1308.7,143.7 1316.3,144.3" stroke="#bc9c4d"/><polyline points="1314.5,144.1 1319.1,144.7" stroke="#b99a4c"/><polyline points="1317.3,144.4 1324.8,145.6" stroke="#ad8d43"/><polyline points="1323.0,145.3 1330.4,146.8" stroke="#a78840"/><polyline points="1328.7,146.4 1336.0,148.3" stroke="#957835"/><polyline points="1334.3,147.8 1338.7,149.1" stroke="#8f7232"/><polyline points="1337.0,148.6 1341.5,150.1" stroke="#8b6f30"/><polyline points="1339.8,149.5 1344.2,151.0" stroke="#876c2e"/><polyline points="1342.5,150.4 1346.8,152.1" stroke="#83682c"/><polyline points="1345.1,151.4 1349.4,153.1" stroke="#7f642a"/><polyline points="1347.8,152.5 1352.1,154.3" stroke="#7b6128"/><polyline points="1350.4,153.6 1354.6,155.5" stroke="#765d26"/><polyline points="1353.0,154.7 1357.2,156.8" stroke="#725a24"/><polyline points="1355.6,156.0 1359.7,158.1" stroke="#6e5622"/><polyline points="1358.1,157.2 1364.6,160.8" stroke="#68511f"/><polyline points="1363.1,159.9 1369.4,163.8" stroke="#7a6637"/><polyline points="1367.9,162.8 1371.7,165.3" stroke="#756235"/><polyline points="1370.2,164.3 1376.3,168.5" stroke="#8c7a4f"/><polyline points="1374.9,167.5 1378.6,170.2" stroke="#88774d"/><polyline points="1377.1,169.1 1385.1,175.4" stroke="#a19167"/><polyline points="1383.7,174.3 1391.3,180.9" stroke="#bbac81"/><polyline points="1390.0,179.7 1399.1,188.8" stroke="#d7ca9c"/><polyline points="1397.9,187.5 1410.1,201.8 1421.0,218.2 1426.3,227.8 1431.0,237.5 1438.8,257.6 1445.3,280.2 1449.7,303.2 1452.7,328.1 1454.1,356.4" stroke="#f7e9b8"/><polyline points="1007.6,370.2 1035.1,356.4 1083.8,335.0 1101.9,326.6 1117.4,318.5 1132.0,309.8 1146.9,299.1 1160.0,287.1 1170.2,274.8 1180.1,258.9" stroke="#daba65"/><polyline points="1179.4,260.2 1181.2,256.7" stroke="#dec171"/><polyline points="1180.5,258.1 1182.3,254.6" stroke="#e3c97f"/><polyline points="1181.6,256.0 1183.4,252.5" stroke="#e8d18d"/><polyline points="1182.7,253.8 1184.5,250.3" stroke="#eeda9d"/><polyline points="1183.8,251.7 1185.6,248.1" stroke="#f3e2ac"/><polyline points="1184.9,249.5 1186.7,245.9" stroke="#f8ebbd"/><polyline points="1186.0,247.3 1188.8,241.5" stroke="#f9edc3"/><polyline points="1188.1,242.9 1190.9,237.0" stroke="#faefc9"/><polyline points="1190.3,238.4 1194.1,230.2" stroke="#fbf1ce"/><polyline points="1193.4,231.6 1200.7,216.3" stroke="#fcf3d3"/><polyline points="1200.0,217.8 1201.9,214.0" stroke="#fcf3d5"/><polyline points="1201.2,215.5 1205.5,207.0" stroke="#e3d8b7"/><polyline points="1204.7,208.5 1210.8,197.8" stroke="#cec099"/><polyline points="1209.9,199.2 1215.2,190.9" stroke="#bcab7d"/><polyline points="1214.3,192.3 1216.8,188.6" stroke="#c0ad7f"/><polyline points="1215.8,190.1 1220.1,184.2" stroke="#ae9863"/><polyline points="1219.0,185.6 1223.7,179.8" stroke="#b29c65"/><polyline points="1222.5,181.2 1227.5,175.6" stroke="#a4894b"/><polyline points="1226.2,177.0 1231.6,171.6" stroke="#a98d4d"/><polyline points="1230.2,172.9 1236.0,167.8" stroke="#9d7d34"/><polyline points="1234.6,169.0 1240.6,164.4" stroke="#a28137"/><polyline points="1239.1,165.4 1245.4,161.2" stroke="#a68539"/><polyline points="1243.8,162.2 1252.8,157.0" stroke="#ab893b"/><polyline points="1251.2,157.8 1263.2,152.5" stroke="#b18e3e"/><polyline points="1261.6,153.1 1269.7,150.3 1278.3,148.0 1287.0,146.5 1296.3,145.6" stroke="#b4913f"/><polyline points="1294.5,145.7 1302.0,145.4" stroke="#ad8b3c"/><polyline points="1300.2,145.4 1307.6,145.5" stroke="#a8873a"/><polyline points="1305.8,145.4 1313.2,145.8" stroke="#a38237"/><polyline points="1311.5,145.7 1316.1,146.1" stroke="#9f7f35"/><polyline points="1314.3,145.9 1321.7,146.9" stroke="#ab8f4d"/><polyline points="1319.9,146.6 1327.2,147.9" stroke="#a58a4a"/><polyline points="1325.5,147.6 1332.8,149.3" stroke="#b29b61"/><polyline points="1331.0,148.8 1335.5,150.0" stroke="#ae975f"/><polyline points="1333.8,149.6 1343.5,152.7" stroke="#beaa77"/><polyline points="1341.8,152.1 1351.3,156.0" stroke="#cdbd8e"/><polyline points="1349.7,155.2 1356.3,158.4" stroke="#e1d3a7"/><polyline points="1354.8,157.6 1364.4,162.8 1375.6,170.2 1386.0,178.6 1395.7,187.8 1404.5,197.7 1412.4,208.2 1419.5,219.2 1426.6,232.4 1431.9,244.2 1437.1,258.2 1441.4,272.4 1445.3,288.9 1448.3,305.5 1450.3,322.1 1451.6,338.4 1452.3,356.5" stroke="#f8ebbe"/><polyline points="1008.5,371.8 1035.9,358.0 1084.6,336.6 1104.5,327.4 1121.7,318.3 1137.7,308.2 1146.6,301.7 1153.6,295.8 1161.3,288.3 1167.3,281.6 1172.7,274.4 1177.8,266.6 1188.3,246.7" stroke="#dbbc67"/><polyline points="1187.6,248.1 1189.4,244.5" stroke="#dfc271"/><polyline points="1188.7,245.9 1190.5,242.3" stroke="#e8d08a"/><polyline points="1189.8,243.7 1191.5,240.0" stroke="#edd898"/><polyline points="1190.9,241.4 1192.6,237.8" stroke="#f2e0a7"/><polyline points="1191.9,239.2 1194.7,233.2" stroke="#f7e8b8"/><polyline points="1194.0,234.7 1196.8,228.6" stroke="#f8ebbe"/><polyline points="1196.2,230.1 1200.1,221.7" stroke="#f9edc3"/><polyline points="1199.4,223.2 1204.7,212.5" stroke="#faefc8"/><polyline points="1204.0,214.0 1213.2,197.4 1222.8,183.6 1233.0,172.8 1244.0,164.3" stroke="#faf0cd"/><polyline points="1242.5,165.3 1252.3,159.3 1263.9,154.2" stroke="#ecdeb3"/><polyline points="1262.2,154.8 1274.4,150.8 1288.1,148.2" stroke="#dfcd9a"/><polyline points="1286.4,148.4 1296.0,147.4 1304.8,147.2" stroke="#ecddb2"/><polyline points="1303.0,147.2 1315.7,147.9 1329.6,150.3" stroke="#f9eec8"/><polyline points="1327.9,149.9 1337.3,152.5 1345.7,155.5 1353.7,159.1 1362.7,164.0" stroke="#f8edc3"/><polyline points="1361.3,163.1 1370.9,169.1 1381.5,177.1 1389.7,184.4 1398.9,193.9 1407.1,204.0 1414.5,214.6 1421.1,225.7 1426.8,237.1 1431.8,248.8 1436.7,262.8 1440.7,277.0 1444.0,291.4 1446.5,305.8 1448.5,322.2 1449.8,338.5 1450.5,356.5" stroke="#f8edc2"/><polyline points="1009.4,373.4 1036.6,359.7 1085.3,338.3 1105.3,329.0 1122.6,319.8 1138.7,309.7 1147.7,303.1 1154.8,297.2 1162.6,289.6 1168.7,282.7 1174.2,275.4 1179.3,267.5 1190.0,247.5" stroke="#dcbe69"/><polyline points="1189.3,248.9 1195.3,236.3" stroke="#dbbc66"/><polyline points="1194.6,237.7 1196.4,234.0" stroke="#e4c97d"/><polyline points="1195.7,235.4 1197.4,231.7" stroke="#e9d18a"/><polyline points="1196.7,233.2 1198.5,229.4" stroke="#f1dea2"/><polyline points="1197.8,230.9 1200.7,224.8" stroke="#f6e6b2"/><polyline points="1200.0,226.3 1202.9,220.2" stroke="#f7e8b8"/><polyline points="1202.2,221.7 1206.3,213.3" stroke="#f8eabd"/><polyline points="1205.6,214.8 1211.3,204.2" stroke="#f9ecc1"/><polyline points="1210.4,205.6 1218.1,193.1 1226.4,182.2" stroke="#f9eec6"/><polyline points="1225.3,183.5 1234.2,174.1 1244.1,166.3 1255.0,160.0 1268.8,154.4 1281.2,151.2 1296.1,149.2 1309.0,149.2 1323.8,151.0" stroke="#f9eec7"/><polyline points="1322.1,150.7 1332.6,153.0 1340.9,155.6 1351.0,159.8 1360.6,164.8 1369.9,170.6 1378.6,177.1 1386.9,184.3 1395.1,192.5" stroke="#f9edc4"/><polyline points="1394.0,191.3 1400.3,198.4 1407.0,206.8 1417.4,222.9 1426.0,239.8 1433.7,259.3 1440.0,281.5 1444.4,304.0 1447.3,328.5 1448.7,356.5" stroke="#faefca"/><polyline points="1010.3,374.9 1037.4,361.3 1086.0,340.0 1104.3,331.5 1123.5,321.4 1138.2,312.3 1147.4,305.7 1154.6,299.8 1161.4,293.5 1167.7,286.7 1173.5,279.5 1178.9,271.8 1189.4,252.7" stroke="#dec06b"/><polyline points="1188.7,254.2 1201.2,227.9" stroke="#dcbd67"/><polyline points="1200.5,229.4 1202.3,225.6" stroke="#e1c472"/><polyline points="1201.6,227.1 1203.4,223.3" stroke="#e9d189"/><polyline points="1202.7,224.8 1204.5,221.0" stroke="#edd796"/><polyline points="1203.8,222.5 1206.8,216.4" stroke="#f6e5af"/><polyline points="1206.0,217.9 1210.3,209.6" stroke="#f7e7b5"/><polyline points="1209.6,211.1 1215.5,200.6" stroke="#f7e9ba"/><polyline points="1214.6,202.0 1224.4,187.5" stroke="#f8ebbf"/><polyline points="1223.4,188.9 1229.7,181.3 1237.0,174.1 1243.5,169.0 1252.2,163.5 1259.6,159.8 1269.3,156.1 1279.4,153.4 1289.8,151.6 1300.4,150.9 1311.1,151.1 1321.7,152.4 1330.1,154.2 1338.3,156.6 1348.3,160.6 1357.9,165.4 1367.7,171.3" stroke="#f9ecc3"/><polyline points="1366.3,170.4 1374.1,175.9 1382.4,182.7" stroke="#f9eec7"/><polyline points="1381.1,181.6 1388.8,188.6 1395.6,195.7" stroke="#faf0cc"/><polyline points="1394.5,194.5 1406.8,209.6 1416.9,225.6 1425.2,242.4 1432.6,261.9 1438.7,283.9 1442.9,306.3 1445.6,330.7 1446.9,356.6" stroke="#fbf2d0"/><polyline points="1011.2,376.5 1038.2,363.0 1086.8,341.6 1105.1,333.1 1124.4,323.0 1139.2,313.8 1148.5,307.1 1155.8,301.1 1162.7,294.8 1169.1,287.9 1179.3,274.3 1189.9,255.8" stroke="#dfc26e"/><polyline points="1189.2,257.2 1207.3,219.5" stroke="#ddbe69"/><polyline points="1206.5,221.0 1208.4,217.3" stroke="#e1c472"/><polyline points="1207.7,218.7 1209.6,215.0" stroke="#e9d189"/><polyline points="1208.8,216.4 1210.7,212.7" stroke="#edd795"/><polyline points="1210.0,214.2 1213.2,208.2" stroke="#f5e4ad"/><polyline points="1212.4,209.6 1217.0,201.5" stroke="#f6e6b2"/><polyline points="1216.2,202.9 1222.7,192.9" stroke="#f7e7b6"/><polyline points="1221.8,194.2 1228.4,185.5 1234.6,178.8" stroke="#f7e9bb"/><polyline points="1233.4,180.0 1242.9,171.7 1254.9,164.1 1268.0,158.5 1281.9,154.7 1296.3,152.9 1310.9,153.0 1325.5,155.0 1333.7,157.1 1341.0,159.5" stroke="#f8eabf"/><polyline points="1339.4,159.0 1349.4,163.1 1360.0,168.7" stroke="#f9ecc3"/><polyline points="1358.5,167.8 1373.1,177.4" stroke="#f9eec7"/><polyline points="1371.7,176.4 1383.2,185.8" stroke="#faf0cc"/><polyline points="1381.9,184.7 1392.5,195.0" stroke="#fbf2d0"/><polyline points="1391.3,193.8 1398.9,202.4 1405.7,211.2" stroke="#fcf3d5"/><polyline points="1404.7,209.9 1414.3,224.7 1421.9,239.4 1428.2,254.6 1433.9,272.3 1438.6,292.4 1441.9,312.7 1444.1,334.9 1445.0,356.6" stroke="#fcf4d7"/><polyline points="1012.1,378.1 1038.9,364.6 1087.5,343.3 1105.9,334.8 1123.6,325.5 1138.6,316.4 1154.1,305.0 1161.2,298.7 1167.9,291.9 1178.7,278.6 1184.0,270.4 1189.3,261.0" stroke="#e1c470"/><polyline points="1188.5,262.4 1199.2,240.8" stroke="#dec06c"/><polyline points="1198.5,242.3 1213.5,211.3" stroke="#ddbe68"/><polyline points="1212.8,212.8 1214.8,209.1" stroke="#e2c573"/><polyline points="1214.0,210.5 1216.0,206.9" stroke="#e6cb7e"/><polyline points="1215.2,208.3 1217.3,204.7" stroke="#eed794"/><polyline points="1216.5,206.1 1218.6,202.5" stroke="#f1dda0"/><polyline points="1217.8,203.9 1222.7,196.0" stroke="#f5e4ae"/><polyline points="1221.8,197.4 1228.9,187.8" stroke="#f6e6b2"/><polyline points="1227.9,189.0 1235.1,180.9 1243.7,173.3" stroke="#f7e7b7"/><polyline points="1242.4,174.3 1250.5,168.7 1259.3,164.0 1268.5,160.2 1280.2,156.9 1290.3,155.2 1300.5,154.5 1310.8,154.8 1322.8,156.3" stroke="#f7e9bb"/><polyline points="1321.2,156.0 1331.2,158.3 1342.8,162.2" stroke="#f8eabf"/><polyline points="1341.2,161.6 1348.7,164.7 1356.8,168.9" stroke="#f9ecc3"/><polyline points="1355.4,168.1 1365.6,174.4" stroke="#f9eec7"/><polyline points="1364.3,173.5 1374.0,180.5" stroke="#faf0cc"/><polyline points="1372.7,179.5 1381.9,187.1" stroke="#fbf1d0"/><polyline points="1380.7,186.0 1389.4,194.3" stroke="#fcf3d4"/><polyline points="1388.2,193.2 1397.9,204.0" stroke="#fcf5d9"/><polyline points="1396.9,202.8 1407.3,216.8 1416.6,232.8 1424.3,249.5 1431.0,268.9 1436.0,288.8 1439.8,310.9 1442.2,333.0 1443.2,356.6" stroke="#fdf6dd"/><polyline points="1013.0,379.7 1039.7,366.3 1088.3,344.9 1106.7,336.4 1124.5,327.1 1139.6,317.9 1155.2,306.4 1162.5,300.0 1169.2,293.2 1180.2,279.6 1185.5,271.3 1190.9,261.9" stroke="#e2c573"/><polyline points="1190.1,263.3 1199.8,243.9" stroke="#dfc26e"/><polyline points="1199.1,245.3 1211.1,219.9 1220.1,203.4" stroke="#ddbf69"/><polyline points="1219.3,204.8 1221.5,201.3" stroke="#e2c673"/><polyline points="1220.6,202.6 1222.8,199.1" stroke="#e6cc7e"/><polyline points="1222.0,200.5 1224.2,197.0" stroke="#eed794"/><polyline points="1223.3,198.4 1225.7,195.0" stroke="#f1dd9f"/><polyline points="1224.8,196.3 1231.9,187.0" stroke="#f5e3ac"/><polyline points="1230.9,188.2 1236.4,182.2 1242.8,176.3" stroke="#f6e5b1"/><polyline points="1241.6,177.4 1246.6,173.4 1253.1,169.2 1260.0,165.6 1267.3,162.6 1274.8,160.1 1282.6,158.3 1290.5,157.0 1299.5,156.4" stroke="#f7e7b6"/><polyline points="1297.9,156.4 1310.7,156.6 1325.0,158.6" stroke="#f7e8b9"/><polyline points="1323.4,158.3 1330.7,160.0 1339.7,162.9" stroke="#f8eabd"/><polyline points="1338.2,162.4 1351.4,168.1" stroke="#f9ecc2"/><polyline points="1350.0,167.4 1360.3,173.1" stroke="#f9edc7"/><polyline points="1358.9,172.3 1368.8,178.8" stroke="#faefcc"/><polyline points="1367.5,177.9 1374.9,183.5" stroke="#fbf1d0"/><polyline points="1373.6,182.5 1380.7,188.5" stroke="#fcf3d4"/><polyline points="1379.5,187.4 1388.0,195.6" stroke="#fcf4d9"/><polyline points="1386.9,194.5 1394.9,203.2" stroke="#fdf6de"/><polyline points="1393.8,202.0 1404.6,216.1 1414.1,231.8 1421.8,248.3 1428.6,267.5 1433.8,287.1 1437.8,309.1 1440.3,333.1 1441.4,356.7" stroke="#fef8e2"/><polyline points="1013.8,381.3 1040.4,367.9 1102.0,340.7 1116.5,333.5 1128.8,326.7 1143.9,317.2 1156.4,307.8 1167.9,297.2 1177.6,286.2" stroke="#f7edcc"/><polyline points="1176.6,287.4 1183.5,278.0" stroke="#f3e6bb"/><polyline points="1182.6,279.3 1187.5,271.5" stroke="#efdea9"/><polyline points="1186.7,272.9 1190.1,267.2" stroke="#ead597"/><polyline points="1189.3,268.6 1192.5,262.7" stroke="#e6cd84"/><polyline points="1191.7,264.1 1200.3,246.9" stroke="#e0c370"/><polyline points="1199.6,248.4 1208.9,228.7" stroke="#dec06b"/><polyline points="1208.2,230.2 1218.4,210.0 1223.5,201.5 1228.6,194.0" stroke="#ddbe68"/><polyline points="1227.7,195.3 1230.1,192.0" stroke="#e7cc7e"/><polyline points="1229.2,193.3 1231.7,190.1" stroke="#ead289"/><polyline points="1230.7,191.3 1233.3,188.2" stroke="#eed794"/><polyline points="1232.3,189.4 1242.1,179.3" stroke="#f5e3ab"/><polyline points="1240.9,180.4 1250.8,172.8 1263.1,166.3" stroke="#f6e4b0"/><polyline points="1261.6,166.9 1273.4,162.4 1286.8,159.4 1298.6,158.2 1312.1,158.5" stroke="#f6e5b3"/><polyline points="1310.5,158.4 1318.5,159.3 1327.0,161.0" stroke="#f7e7b7"/><polyline points="1325.5,160.6 1339.1,164.6" stroke="#f8e9bc"/><polyline points="1337.6,164.1 1348.3,168.6" stroke="#f8ebc1"/><polyline points="1346.9,167.9 1355.0,172.1" stroke="#f9edc6"/><polyline points="1353.6,171.3 1361.5,176.0" stroke="#faefca"/><polyline points="1360.2,175.1 1367.8,180.3" stroke="#fbf0cf"/><polyline points="1366.5,179.3 1373.7,184.9" stroke="#fcf2d3"/><polyline points="1372.5,183.9 1377.6,188.2" stroke="#fcf4d7"/><polyline points="1376.4,187.1 1381.3,191.5" stroke="#f7ecc7"/><polyline points="1380.2,190.5 1390.2,200.6" stroke="#f1e1b4"/><polyline points="1389.1,199.4 1391.8,202.5" stroke="#f4e8c2"/><polyline points="1390.8,201.3 1393.5,204.4" stroke="#f4e7be"/><polyline points="1392.5,203.2 1395.1,206.3" stroke="#f2e4b7"/><polyline points="1394.1,205.1 1396.7,208.3" stroke="#d0c29a"/><polyline points="1395.7,207.0 1399.7,212.3" stroke="#d5caa9"/><polyline points="1398.8,211.0 1401.2,214.4" stroke="#b4aa8d"/><polyline points="1400.3,213.1 1402.6,216.4" stroke="#ad9d74"/><polyline points="1401.7,215.1 1410.5,229.1 1417.7,243.5 1423.7,258.4 1429.1,275.8 1433.3,293.5 1436.5,313.4 1438.7,335.2 1439.6,356.7" stroke="#b2a787"/><polyline points="1014.7,382.9 1041.2,369.6 1089.7,348.3 1108.3,339.7 1128.0,329.3 1143.3,319.8 1152.9,312.9 1160.6,306.6 1167.8,299.9 1174.5,292.7 1180.8,284.9 1185.4,278.3 1190.7,269.6 1196.4,259.1" stroke="#fbf6e0"/><polyline points="1195.7,260.5 1198.7,254.5" stroke="#f6edcc"/><polyline points="1198.0,256.0 1199.8,252.3" stroke="#f2e4b9"/><polyline points="1199.1,253.7 1202.0,247.7" stroke="#eddca7"/><polyline points="1201.3,249.2 1203.0,245.4" stroke="#e9d394"/><polyline points="1202.4,246.9 1205.2,240.9" stroke="#e4ca80"/><polyline points="1204.5,242.3 1212.7,225.0" stroke="#debf6b"/><polyline points="1212.0,226.4 1218.1,214.4 1224.0,204.1 1230.4,194.6 1236.3,187.5" stroke="#ddbe68"/><polyline points="1235.3,188.7 1238.0,185.7" stroke="#e4c774"/><polyline points="1236.9,186.9 1239.7,184.0" stroke="#e7cd7f"/><polyline points="1238.6,185.1 1241.4,182.3" stroke="#ebd289"/><polyline points="1240.3,183.4 1243.2,180.7" stroke="#eed794"/><polyline points="1242.1,181.7 1245.1,179.2" stroke="#f2dd9e"/><polyline points="1243.9,180.2 1253.4,173.3 1263.8,167.9" stroke="#f5e3ab"/><polyline points="1262.4,168.6 1272.1,164.8 1283.3,161.9 1294.8,160.3 1307.0,160.0" stroke="#f5e4ae"/><polyline points="1305.5,160.0 1314.3,160.6 1321.8,161.7" stroke="#f6e6b3"/><polyline points="1320.2,161.4 1331.4,164.0" stroke="#f7e7b8"/><polyline points="1329.9,163.6 1340.7,167.2" stroke="#f8e9bd"/><polyline points="1339.3,166.7 1347.5,170.2" stroke="#f9ebc1"/><polyline points="1346.1,169.6 1349.8,171.3" stroke="#f9ecc5"/><polyline points="1348.4,170.6 1354.1,173.7" stroke="#f5e6b8"/><polyline points="1352.8,172.9 1358.4,176.2" stroke="#f1dfaa"/><polyline points="1357.1,175.4 1362.6,178.9" stroke="#ecd79b"/><polyline points="1361.3,178.0 1366.7,181.7" stroke="#e6ce8a"/><polyline points="1365.4,180.8 1372.6,186.3" stroke="#dfc476"/><polyline points="1371.4,185.3 1374.5,187.9" stroke="#e3cb85"/><polyline points="1373.3,186.9 1376.4,189.5" stroke="#e7d192"/><polyline points="1375.2,188.5 1378.3,191.2" stroke="#c7af70"/><polyline points="1377.1,190.1 1380.1,192.9" stroke="#ad9964"/><polyline points="1379.0,191.8 1381.9,194.6" stroke="#928257"/><polyline points="1380.8,193.5 1383.7,196.3" stroke="#978966"/><polyline points="1382.6,195.2 1385.4,198.1" stroke="#766846"/><polyline points="1384.3,197.0 1388.8,201.8" stroke="#554625"/><polyline points="1387.8,200.6 1395.2,209.4" stroke="#322408"/><polyline points="1394.3,208.2 1403.8,221.5 1412.7,237.0 1419.9,253.4 1425.7,270.4 1430.7,289.9 1434.4,311.6 1436.7,333.4 1437.8,356.7" stroke="#4b3a16"/><polyline points="1015.6,384.5 1042.0,371.2 1090.5,349.9 1110.9,340.4 1130.6,329.9 1147.6,319.1 1157.2,311.8 1164.7,305.3 1171.9,298.3 1178.5,290.8 1184.7,282.7 1190.2,274.1 1201.4,253.1" stroke="#fdf8e4"/><polyline points="1200.7,254.5 1207.9,239.4" stroke="#fbf6e0"/><polyline points="1207.2,240.8 1209.0,237.1" stroke="#f6edcc"/><polyline points="1208.3,238.5 1211.1,232.6" stroke="#f1e3b8"/><polyline points="1210.4,234.0 1212.2,230.3" stroke="#ecdaa4"/><polyline points="1211.5,231.7 1213.2,228.0" stroke="#e7d191"/><polyline points="1212.5,229.5 1214.3,225.8" stroke="#e2c77d"/><polyline points="1213.6,227.2 1221.6,211.8 1229.7,198.7 1237.7,188.6 1246.3,180.6" stroke="#dcbd67"/><polyline points="1245.1,181.5 1248.1,179.1" stroke="#e4c774"/><polyline points="1246.9,180.0 1252.0,176.4" stroke="#e8cd7f"/><polyline points="1250.7,177.2 1254.0,175.1" stroke="#ebd289"/><polyline points="1252.7,175.9 1256.0,173.9" stroke="#eed794"/><polyline points="1254.7,174.7 1258.1,172.7" stroke="#f1dc9d"/><polyline points="1256.8,173.5 1265.7,169.1 1276.3,165.4 1287.4,163.0 1297.2,161.9" stroke="#f5e2a9"/><polyline points="1295.7,162.0 1304.5,161.8 1311.8,162.1" stroke="#f5e3ad"/><polyline points="1310.3,162.0 1319.0,163.1" stroke="#f6e5b1"/><polyline points="1317.5,162.8 1326.2,164.5" stroke="#f3e0a8"/><polyline points="1324.7,164.1 1330.9,165.7" stroke="#f0db9e"/><polyline points="1329.4,165.3 1335.5,167.2" stroke="#ecd592"/><polyline points="1334.0,166.7 1340.1,168.9" stroke="#e7ce85"/><polyline points="1338.6,168.4 1344.5,170.8" stroke="#e2c677"/><polyline points="1343.1,170.2 1351.1,174.1" stroke="#dcbd66"/><polyline points="1349.7,173.4 1357.5,177.8" stroke="#d8b962"/><polyline points="1356.1,176.9 1359.5,179.1" stroke="#dbbf71"/><polyline points="1358.2,178.2 1361.6,180.4" stroke="#c5aa64"/><polyline points="1360.3,179.6 1363.6,181.8" stroke="#ae9657"/><polyline points="1362.3,180.9 1365.6,183.2" stroke="#b29d65"/><polyline points="1364.4,182.3 1367.6,184.7" stroke="#9a8858"/><polyline points="1366.3,183.8 1369.5,186.2" stroke="#82724c"/><polyline points="1368.3,185.2 1371.5,187.7" stroke="#64522c"/><polyline points="1370.2,186.7 1375.2,190.9" stroke="#44330f"/><polyline points="1374.0,189.9 1377.0,192.5" stroke="#5a471c"/><polyline points="1375.9,191.5 1380.6,195.9" stroke="#715c29"/><polyline points="1379.5,194.8 1384.1,199.4" stroke="#897136"/><polyline points="1383.0,198.3 1385.8,201.2" stroke="#a28844"/><polyline points="1384.7,200.0 1389.1,204.8" stroke="#bb9f52"/><polyline points="1388.1,203.7 1399.0,217.6 1408.3,232.6 1416.0,248.6 1422.8,267.2 1428.0,286.4 1432.1,307.9 1434.7,331.6 1436.0,356.8" stroke="#d5b761"/><polyline points="1016.5,386.1 1042.7,372.9 1093.1,350.7 1113.6,341.1 1135.1,329.4 1151.9,318.2 1161.4,310.7 1168.9,303.9 1175.9,296.6 1182.5,288.8 1188.5,280.3 1193.9,271.5 1206.3,247.0" stroke="#fefae9"/><polyline points="1205.6,248.4 1214.9,228.8" stroke="#fcf8e4"/><polyline points="1214.2,230.3 1218.1,222.2" stroke="#fbf6e0"/><polyline points="1217.4,223.6 1219.3,220.0" stroke="#f6eccb"/><polyline points="1218.5,221.4 1220.4,217.8" stroke="#f0e2b7"/><polyline points="1219.7,219.2 1221.5,215.6" stroke="#ebd9a3"/><polyline points="1220.8,217.0 1222.7,213.5" stroke="#e5cf8e"/><polyline points="1222.0,214.9 1225.1,209.3" stroke="#e0c479"/><polyline points="1224.3,210.6 1230.1,201.3 1236.7,192.5 1244.0,184.9 1251.1,179.2" stroke="#dbbb64"/><polyline points="1249.9,180.1 1256.8,175.5 1263.1,172.2" stroke="#e0c169"/><polyline points="1261.8,172.9 1267.4,170.3" stroke="#e5c875"/><polyline points="1266.0,170.9 1271.8,168.7" stroke="#e8cd7f"/><polyline points="1270.4,169.2 1282.2,165.8 1295.0,163.9" stroke="#ebd289"/><polyline points="1293.5,164.0 1304.5,163.6" stroke="#e8cd80"/><polyline points="1303.0,163.6 1311.7,164.0" stroke="#e4c876"/><polyline points="1310.2,163.8 1317.7,164.7 1325.8,166.3" stroke="#dfc069"/><polyline points="1324.3,165.9 1334.9,168.9" stroke="#dbbc64"/><polyline points="1333.5,168.5 1341.6,171.5" stroke="#d8b860"/><polyline points="1340.2,171.0 1343.8,172.5" stroke="#dcc073"/><polyline points="1342.4,171.9 1346.0,173.5" stroke="#e1c984"/><polyline points="1344.6,172.9 1348.1,174.6" stroke="#ceb779"/><polyline points="1346.8,173.9 1350.2,175.7" stroke="#baa46d"/><polyline points="1348.9,175.0 1352.4,176.9" stroke="#a59261"/><polyline points="1351.0,176.1 1354.4,178.1" stroke="#897340"/><polyline points="1353.1,177.3 1356.5,179.3" stroke="#736034"/><polyline points="1355.2,178.5 1358.6,180.6" stroke="#574216"/><polyline points="1357.3,179.8 1362.6,183.3" stroke="#695321"/><polyline points="1361.3,182.4 1364.5,184.7" stroke="#7d652d"/><polyline points="1363.3,183.8 1366.5,186.1" stroke="#917839"/><polyline points="1365.3,185.2 1368.4,187.6" stroke="#a78c46"/><polyline points="1367.2,186.7 1372.2,190.7" stroke="#bda153"/><polyline points="1371.0,189.7 1378.4,196.3 1385.3,203.3 1391.7,210.8 1397.5,218.6 1402.8,226.8 1408.5,236.9 1412.8,245.7 1417.2,256.6 1421.1,267.7 1424.4,279.1 1429.3,302.3 1432.6,327.8 1434.1,356.8" stroke="#d4b55f"/><polyline points="1017.4,387.6 1043.5,374.5 1108.8,345.5 1125.3,337.0 1139.5,328.8 1154.6,318.4 1168.7,306.6 1181.3,293.1 1191.0,279.7" stroke="#291d05"/><polyline points="1190.1,281.2 1192.4,277.5" stroke="#2c2007"/><polyline points="1191.5,278.9 1197.7,268.4" stroke="#52462e"/><polyline points="1196.9,269.9 1198.9,266.1" stroke="#55492f"/><polyline points="1198.1,267.6 1203.6,256.9" stroke="#796f55"/><polyline points="1202.8,258.4 1204.7,254.6" stroke="#7c7156"/><polyline points="1204.0,256.1 1208.0,247.8" stroke="#9f957c"/><polyline points="1207.3,249.2 1211.2,240.9" stroke="#c1b9a1"/><polyline points="1210.5,242.4 1215.4,231.9" stroke="#e1dbc5"/><polyline points="1214.8,233.3 1223.1,216.5" stroke="#fdf9e7"/><polyline points="1222.4,217.9 1227.9,208.1" stroke="#fcf7e3"/><polyline points="1227.1,209.4 1229.2,206.1" stroke="#f6eccc"/><polyline points="1228.4,207.4 1230.4,204.1" stroke="#f0e2b7"/><polyline points="1229.6,205.4 1233.1,200.2" stroke="#ead7a1"/><polyline points="1232.2,201.4 1234.5,198.3" stroke="#e4cc8b"/><polyline points="1233.6,199.5 1235.9,196.5" stroke="#dec276"/><polyline points="1235.0,197.6 1240.4,191.1 1246.5,185.1 1253.3,179.9 1259.8,175.9" stroke="#d9b962"/><polyline points="1258.6,176.6 1265.5,173.1 1272.1,170.5 1279.0,168.4 1287.9,166.6 1302.6,165.4 1310.0,165.6 1318.5,166.6" stroke="#ddbd65"/><polyline points="1317.0,166.4 1327.6,168.6" stroke="#d7b65f"/><polyline points="1326.2,168.2 1329.8,169.2" stroke="#dbbe71"/><polyline points="1328.4,168.8 1332.1,169.9" stroke="#cbaf67"/><polyline points="1330.7,169.5 1334.3,170.7" stroke="#baa05c"/><polyline points="1332.9,170.2 1336.5,171.5" stroke="#a89052"/><polyline points="1335.1,170.9 1338.7,172.3" stroke="#967f47"/><polyline points="1337.3,171.8 1340.9,173.2" stroke="#836e3d"/><polyline points="1339.5,172.6 1343.0,174.2" stroke="#69511d"/><polyline points="1341.7,173.6 1347.3,176.2" stroke="#785f27"/><polyline points="1346.0,175.5 1349.4,177.3" stroke="#886e31"/><polyline points="1348.1,176.6 1351.5,178.4" stroke="#9a7f3c"/><polyline points="1350.2,177.7 1353.5,179.6" stroke="#ac9047"/><polyline points="1352.2,178.9 1355.6,180.8" stroke="#c0a253"/><polyline points="1354.3,180.1 1362.2,185.2 1371.4,192.4 1380.0,200.3 1387.8,208.9 1394.9,218.1 1401.3,227.7 1406.9,237.8 1411.9,248.2 1416.2,259.0 1420.5,272.0 1423.6,283.4 1426.5,296.8 1428.8,310.4 1430.6,326.0 1432.3,356.8" stroke="#d2b35d"/><polyline points="1018.3,389.2 1044.3,376.2 1107.7,348.0 1122.5,340.6 1135.2,333.5 1150.7,323.5 1163.8,313.5 1175.8,302.1 1186.4,289.6" stroke="#d3b35d"/><polyline points="1185.4,291.0 1191.5,282.3 1198.0,271.6" stroke="#b79a4e"/><polyline points="1197.2,273.1 1204.1,260.1" stroke="#9e8441"/><polyline points="1203.3,261.5 1208.5,250.8" stroke="#877035"/><polyline points="1207.8,252.3 1211.8,244.0" stroke="#735d29"/><polyline points="1211.1,245.4 1212.8,241.7" stroke="#765f2a"/><polyline points="1212.2,243.1 1216.0,234.9" stroke="#624d1e"/><polyline points="1215.3,236.3 1218.1,230.4" stroke="#513e14"/><polyline points="1217.5,231.8 1220.3,226.0" stroke="#564116"/><polyline points="1219.6,227.4 1222.5,221.6" stroke="#76643b"/><polyline points="1221.8,223.0 1225.9,215.3" stroke="#95855f"/><polyline points="1225.2,216.6 1229.5,209.1" stroke="#b3a583"/><polyline points="1228.7,210.4 1233.3,203.2" stroke="#cec3a5"/><polyline points="1232.4,204.4 1238.7,195.8" stroke="#e7dfc5"/><polyline points="1237.8,196.9 1240.2,194.1" stroke="#fcf8e4"/><polyline points="1239.3,195.2 1241.7,192.4" stroke="#f6edce"/><polyline points="1240.7,193.5 1244.8,189.2" stroke="#f0e1b7"/><polyline points="1243.8,190.2 1246.4,187.7" stroke="#e9d6a0"/><polyline points="1245.3,188.6 1249.7,184.8" stroke="#e2cb8a"/><polyline points="1248.6,185.7 1253.2,182.2" stroke="#dcc073"/><polyline points="1252.0,183.0 1258.6,178.7 1264.7,175.5 1277.8,170.6 1284.7,169.0 1293.6,167.7 1300.8,167.2 1309.0,167.4" stroke="#d7b65f"/><polyline points="1307.6,167.3 1313.6,167.8" stroke="#c8a753"/><polyline points="1312.2,167.7 1315.9,168.1" stroke="#ba9a4a"/><polyline points="1314.5,167.9 1318.2,168.4" stroke="#c0a45f"/><polyline points="1316.7,168.2 1320.4,168.8" stroke="#b19756"/><polyline points="1319.0,168.6 1322.7,169.3" stroke="#a2894c"/><polyline points="1321.3,169.0 1324.9,169.8" stroke="#8b6f2d"/><polyline points="1323.5,169.5 1327.1,170.4" stroke="#7b6023"/><polyline points="1325.7,170.0 1331.5,171.6" stroke="#876b2c"/><polyline points="1330.1,171.2 1333.7,172.4" stroke="#947835"/><polyline points="1332.3,171.9 1335.9,173.2" stroke="#a3863f"/><polyline points="1334.5,172.7 1338.0,174.0" stroke="#b29449"/><polyline points="1336.7,173.5 1340.2,174.9" stroke="#c2a453"/><polyline points="1338.8,174.3 1348.3,178.8 1358.0,184.6 1367.2,191.3 1377.3,200.3 1385.2,208.6 1393.4,219.1 1399.7,228.7 1406.2,240.3 1411.7,252.5 1416.4,265.1 1420.4,278.1 1424.0,293.3 1426.7,308.7 1428.6,324.2 1429.8,339.7 1430.5,356.9" stroke="#d1b25c"/><polyline points="1019.2,390.8 1043.2,378.7 1097.2,354.9 1119.7,344.1 1132.5,337.2 1143.2,330.8 1153.5,323.8 1161.7,317.5 1171.2,309.3 1178.6,301.8 1185.5,293.8 1191.8,285.1 1197.5,276.0 1203.7,264.8 1220.9,229.0" stroke="#d1b15a"/><polyline points="1220.2,230.4 1225.2,220.3" stroke="#bea050"/><polyline points="1224.5,221.7 1228.6,214.1" stroke="#ad9046"/><polyline points="1227.9,215.4 1232.2,208.0" stroke="#9e823c"/><polyline points="1231.5,209.3 1236.1,202.3" stroke="#917634"/><polyline points="1235.2,203.5 1240.1,197.0" stroke="#866b2b"/><polyline points="1239.3,198.1 1241.6,195.3" stroke="#8a6e2d"/><polyline points="1240.7,196.3 1244.5,192.0" stroke="#7e6324"/><polyline points="1243.6,193.0 1249.2,187.6" stroke="#987f47"/><polyline points="1248.2,188.5 1250.8,186.2" stroke="#9a8147"/><polyline points="1249.8,187.1 1257.8,181.3" stroke="#b19b68"/><polyline points="1256.7,182.0 1259.7,180.2" stroke="#ac9151"/><polyline points="1258.5,180.9 1261.6,179.1" stroke="#bfa971"/><polyline points="1260.4,179.8 1267.5,176.2" stroke="#b99e5a"/><polyline points="1266.2,176.8 1275.7,173.2" stroke="#b49343"/><polyline points="1274.3,173.6 1277.8,172.5" stroke="#c6aa62"/><polyline points="1276.5,172.9 1286.5,170.5" stroke="#bf9e4b"/><polyline points="1285.1,170.8 1295.4,169.3" stroke="#b49343"/><polyline points="1294.0,169.5 1299.9,169.1" stroke="#a8883b"/><polyline points="1298.5,169.1 1302.2,169.0" stroke="#ad9251"/><polyline points="1300.7,169.1 1304.4,169.0" stroke="#9a7b32"/><polyline points="1303.0,169.0 1306.7,169.1" stroke="#a08548"/><polyline points="1305.3,169.1 1311.2,169.4" stroke="#977831"/><polyline points="1309.8,169.3 1315.6,169.9" stroke="#a08239"/><polyline points="1314.2,169.7 1317.9,170.2" stroke="#ab8d41"/><polyline points="1316.5,170.0 1322.3,171.1" stroke="#b7994a"/><polyline points="1320.9,170.8 1324.5,171.6" stroke="#c4a553"/><polyline points="1323.1,171.2 1334.1,174.5 1345.8,179.5 1355.4,185.1 1366.1,192.7 1376.0,201.6 1385.0,211.3 1393.0,221.7 1400.1,232.8 1406.2,244.5 1412.1,258.5 1417.0,273.0 1420.9,288.0 1424.0,303.2 1426.4,320.6 1427.9,337.9 1428.7,356.9" stroke="#d0b05a"/><polyline points="1020.0,392.4 1044.0,380.3 1099.9,355.7 1124.2,343.8 1137.0,336.7 1147.7,330.0 1157.9,322.8 1167.7,314.9 1175.5,307.7 1182.8,299.9 1189.6,291.5 1195.7,282.5 1206.3,263.7 1222.4,230.0 1229.5,216.2 1237.1,204.0 1244.4,194.9" stroke="#cfaf58"/><polyline points="1243.5,195.9 1248.8,190.4" stroke="#d1b15b"/><polyline points="1247.8,191.3 1257.0,184.0" stroke="#c5a552"/><polyline points="1255.9,184.7 1261.9,181.0 1268.2,177.9" stroke="#bb9c4b"/><polyline points="1266.9,178.5 1278.8,174.1 1291.2,171.6" stroke="#b39344"/><polyline points="1289.8,171.8 1297.8,171.0" stroke="#bd9d4b"/><polyline points="1296.4,171.1 1302.2,170.9" stroke="#c6a653"/><polyline points="1300.8,170.9 1311.4,171.2 1321.7,172.8 1330.2,175.0 1340.1,178.8 1349.8,183.7 1359.0,189.7 1367.8,196.5 1375.9,204.0" stroke="#cfaf59"/><polyline points="1374.9,203.0 1386.0,215.3 1396.6,230.5 1405.4,247.0 1413.0,266.3 1418.7,286.5 1422.8,307.4 1425.5,330.4 1426.9,357.0" stroke="#cdad57"/><polyline points="1020.9,394.0 1044.8,381.9 1100.6,357.3 1125.1,345.4 1137.9,338.2 1150.4,330.4 1160.7,323.0 1170.5,314.8 1178.3,307.4 1185.6,299.4 1191.0,292.6 1197.3,283.5 1207.9,264.5 1224.9,229.0 1232.0,215.5 1240.6,202.3 1248.6,193.1" stroke="#cdac55"/><polyline points="1247.6,194.0 1253.7,188.6 1260.0,184.2 1267.0,180.4 1274.5,177.4 1282.5,175.1 1290.7,173.5 1299.2,172.7 1307.8,172.8 1316.3,173.7 1324.7,175.4 1332.9,177.9 1341.0,181.2 1348.9,185.3 1356.5,190.1 1363.8,195.6 1370.8,201.6 1377.4,208.1 1383.4,215.0 1394.1,229.9 1402.9,246.1 1410.7,265.1 1416.5,285.1 1421.0,307.6 1423.7,330.5 1425.0,357.0" stroke="#cdad57"/><polyline points="1021.8,395.6 1045.5,383.6 1101.4,359.0 1125.9,347.0 1138.9,339.8 1151.4,331.9 1161.8,324.4 1171.7,316.2 1179.6,308.7 1185.5,302.3 1192.5,293.6 1197.6,286.3 1208.6,267.3 1227.4,228.1 1235.4,213.3 1240.1,206.0 1245.1,199.6 1250.3,193.9 1255.8,189.3" stroke="#cba952"/><polyline points="1254.8,190.0 1261.0,185.7 1267.8,182.1 1275.1,179.1 1282.9,176.8 1291.0,175.3 1299.3,174.6 1307.7,174.6 1314.4,175.2 1322.6,176.7 1329.1,178.5 1337.1,181.5 1344.9,185.2 1358.4,193.7 1365.5,199.3 1372.2,205.4 1383.2,217.6 1393.5,232.4 1402.1,248.5 1409.5,267.4 1415.2,287.4 1419.2,307.9 1421.9,330.7 1423.2,357.0" stroke="#cbaa54"/><polyline points="1022.7,397.2 1046.3,385.2 1102.1,360.6 1126.8,348.6 1139.8,341.4 1150.7,334.6 1161.2,327.1 1171.3,319.0 1179.3,311.5 1186.9,303.5 1193.9,294.7 1200.3,285.4 1211.2,266.2 1231.6,223.8 1237.0,214.2 1241.6,207.1 1247.5,199.6 1252.6,194.3 1259.4,188.9 1266.8,184.6" stroke="#c8a64f"/><polyline points="1265.7,185.2 1271.4,182.5 1278.7,179.8 1286.4,177.9 1292.8,176.9 1301.0,176.3 1307.6,176.4 1315.8,177.3 1322.2,178.5 1328.5,180.2 1336.4,183.1 1350.0,190.3 1362.9,199.5 1369.6,205.5 1375.9,211.9 1386.1,224.4 1394.7,238.0 1402.6,254.3 1409.0,271.5 1414.3,291.4 1418.0,312.0 1420.4,334.6 1421.4,357.1" stroke="#c9a751"/><line x1="1455.9" y1="355.6" x2="1456.0" y2="360.5" stroke="#4a3e22"/><line x1="1454.1" y1="355.6" x2="1454.3" y2="364.8" stroke="#f7e9b8"/><line x1="1452.3" y1="355.7" x2="1452.5" y2="367.3" stroke="#f8ecbe"/><line x1="1450.5" y1="355.7" x2="1450.7" y2="369.0" stroke="#f9eec4"/><line x1="1448.7" y1="355.7" x2="1448.9" y2="370.3" stroke="#faf0cb"/><line x1="1446.8" y1="355.8" x2="1447.1" y2="371.3" stroke="#fbf2d1"/><line x1="1445.0" y1="355.8" x2="1445.3" y2="371.9" stroke="#fcf4d7"/><line x1="1443.2" y1="355.8" x2="1443.5" y2="372.4" stroke="#fdf6dd"/><line x1="1441.4" y1="355.9" x2="1441.7" y2="372.6" stroke="#fef8e4"/><line x1="1439.6" y1="355.9" x2="1439.9" y2="372.7" stroke="#b2a787"/><line x1="1437.8" y1="355.9" x2="1438.1" y2="372.5" stroke="#4b3a16"/><line x1="1435.9" y1="356.0" x2="1436.2" y2="372.1" stroke="#d5b761"/><line x1="1434.1" y1="356.0" x2="1434.4" y2="371.5" stroke="#d3b55f"/><line x1="1432.3" y1="356.0" x2="1432.6" y2="370.6" stroke="#d2b35d"/><line x1="1430.5" y1="356.1" x2="1430.7" y2="369.4" stroke="#d0b15b"/><line x1="1428.7" y1="356.1" x2="1428.9" y2="367.7" stroke="#cfaf59"/><line x1="1426.9" y1="356.2" x2="1427.0" y2="365.3" stroke="#cdad57"/><line x1="1425.0" y1="356.2" x2="1425.1" y2="361.1" stroke="#ccab55"/><path d="M1424.5,357.0 A16.0,16.0 0 0 0 1456.5,356.4" stroke="#8a6a20" stroke-width="2.2" fill="none"/><path d="M1421.8,357.0 A18.7,18.7 0 0 0 1459.2,356.3" stroke="(214, 182, 96)" stroke-width="2.6" fill="none"/></g><g fill="none" stroke-linecap="butt" stroke-linejoin="round" stroke-width="2.81"><circle cx="1444.0" cy="866.0" r="21.0" fill="#d6b660"/><polyline points="1006.7,875.8 1021.6,867.6 1036.9,860.4 1096.2,836.5 1117.3,827.0 1136.2,816.5 1144.7,810.7 1152.4,804.5 1158.2,799.0 1163.4,793.1 1168.3,786.6 1173.9,777.8 1182.6,761.1 1203.2,716.6 1209.7,704.7 1215.9,695.0 1224.5,683.9 1232.9,675.4 1242.3,668.0 1252.4,662.0 1258.7,659.0 1267.4,655.7 1276.3,653.2 1285.4,651.4 1301.5,649.9 1310.8,649.9 1320.1,650.6 1329.3,651.9 1338.5,653.8 1356.4,659.3 1365.1,663.0 1373.5,667.1 1389.0,676.8" stroke="#d1b25a"/><polyline points="1387.5,675.7 1395.2,681.5 1402.4,687.8 1409.0,694.6 1416.5,703.6 1421.9,711.2 1428.0,721.1 1433.3,731.3 1437.9,741.8 1442.0,752.5 1446.2,765.4 1452.7,791.5 1457.7,819.2 1463.8,863.2" stroke="#d6b661"/><polyline points="1007.7,877.4 1022.4,869.3 1039.6,861.3 1095.1,839.0 1114.7,830.4 1132.7,820.9 1141.6,815.3 1148.5,810.2 1156.1,803.8 1162.8,796.8 1167.9,790.4 1173.7,781.8 1183.5,763.7 1200.2,727.2" stroke="#d9ba64"/><polyline points="1199.5,728.7 1207.0,713.5 1213.7,701.8 1220.1,692.3 1227.5,683.4 1234.2,676.8 1243.4,669.6 1253.3,663.7 1263.7,659.0 1274.6,655.6 1287.9,652.9 1301.6,651.8 1315.3,652.1 1329.0,653.8 1342.5,656.8 1355.7,661.1 1367.8,666.4" stroke="#d6b760"/><polyline points="1366.2,665.6 1380.7,673.5 1394.9,683.7" stroke="#dbbd67"/><polyline points="1393.4,682.5 1405.8,693.9" stroke="#ddbf6a"/><polyline points="1404.5,692.5 1415.0,704.7 1425.2,720.0 1434.4,738.3 1441.6,757.4 1447.3,776.8 1452.5,800.5 1456.4,823.6 1462.0,863.5" stroke="#c1a55b"/><polyline points="1008.7,879.1 1021.4,872.0 1036.5,864.7 1053.8,857.4 1103.1,837.7 1117.3,831.3 1130.5,824.4 1144.1,815.8 1156.2,806.3 1165.4,796.8 1174.1,784.7" stroke="#291d06"/><polyline points="1173.3,785.9 1177.6,778.9" stroke="#2e2108"/><polyline points="1176.9,780.2 1178.8,776.9" stroke="#312309"/><polyline points="1178.1,778.2 1182.1,770.7" stroke="#51401a"/><polyline points="1181.4,772.0 1185.3,764.3" stroke="#56441c"/><polyline points="1184.6,765.7 1187.4,760.0" stroke="#5b481f"/><polyline points="1186.7,761.4 1190.5,753.3" stroke="#79642f"/><polyline points="1189.8,754.7 1193.5,746.6" stroke="#7e6832"/><polyline points="1192.9,748.0 1196.6,739.7" stroke="#9a8241"/><polyline points="1195.9,741.1 1198.7,735.0" stroke="#9e8543"/><polyline points="1198.0,736.5 1203.1,725.6" stroke="#b69b51"/><polyline points="1202.3,727.1 1204.2,723.2" stroke="#b99d52"/><polyline points="1203.5,724.7 1210.3,711.3" stroke="#ccaf5d"/><polyline points="1209.5,712.9 1215.3,702.8 1220.3,695.3 1225.9,688.1 1232.1,681.4 1239.0,675.3 1246.3,669.9 1254.2,665.4 1262.3,661.7 1270.7,658.7 1281.6,655.9 1290.4,654.5 1301.6,653.7 1310.6,653.7 1321.9,654.7 1333.1,656.5 1342.9,658.9" stroke="#dabc66"/><polyline points="1341.2,658.4 1353.8,662.4" stroke="#cfb160"/><polyline points="1352.1,661.8 1364.4,666.8" stroke="#bb9f54"/><polyline points="1362.7,666.1 1372.1,670.7" stroke="#a38946"/><polyline points="1370.5,669.8 1374.6,672.1" stroke="#a08645"/><polyline points="1373.0,671.2 1379.6,675.0" stroke="#876f36"/><polyline points="1378.0,674.1 1382.0,676.6" stroke="#836c35"/><polyline points="1380.5,675.6 1386.8,679.9" stroke="#685325"/><polyline points="1385.3,678.8 1391.4,683.4" stroke="#624f22"/><polyline points="1390.0,682.2 1393.7,685.2" stroke="#5e4b21"/><polyline points="1392.2,684.0 1398.1,689.0" stroke="#40300f"/><polyline points="1396.7,687.8 1402.3,693.1" stroke="#3a2b0d"/><polyline points="1401.0,691.8 1406.4,697.3" stroke="#35270b"/><polyline points="1405.1,696.0 1412.0,704.0" stroke="#302308"/><polyline points="1410.9,702.5 1415.5,708.6" stroke="#2c1f07"/><polyline points="1414.4,707.1 1422.4,719.0 1429.8,732.9 1436.8,749.5 1442.5,766.5 1447.0,783.7 1451.5,805.1 1455.2,828.0 1460.1,863.7" stroke="#4b3f23"/><polyline points="1009.6,880.7 1024.2,872.7 1039.2,865.6 1102.1,840.2 1126.6,828.7 1139.3,821.4 1150.9,813.2 1159.9,805.4 1167.9,796.7" stroke="#d9b963"/><polyline points="1167.0,797.8 1169.3,795.0" stroke="#dfc479"/><polyline points="1168.4,796.1 1173.2,789.6" stroke="#bb9f53"/><polyline points="1172.4,790.7 1175.7,785.8" stroke="#c1a863"/><polyline points="1174.9,787.0 1178.1,781.8" stroke="#c7b175"/><polyline points="1177.4,783.1 1179.3,779.8" stroke="#cdbb86"/><polyline points="1178.5,781.1 1180.4,777.8" stroke="#d3c496"/><polyline points="1179.7,779.1 1181.6,775.8" stroke="#d4c59b"/><polyline points="1180.9,777.1 1183.8,771.6" stroke="#b8ac89"/><polyline points="1183.1,772.9 1186.0,767.3" stroke="#baaf90"/><polyline points="1185.3,768.7 1187.0,765.2" stroke="#bcb193"/><polyline points="1186.3,766.5 1190.1,758.6" stroke="#9e9273"/><polyline points="1189.5,760.0 1192.2,754.1" stroke="#a19576"/><polyline points="1191.5,755.5 1195.3,747.3" stroke="#877856"/><polyline points="1194.6,748.8 1196.3,745.0" stroke="#8b7c58"/><polyline points="1195.6,746.5 1198.3,740.4" stroke="#726038"/><polyline points="1197.7,741.9 1199.4,738.1" stroke="#75633a"/><polyline points="1198.7,739.6 1201.5,733.5" stroke="#5f491b"/><polyline points="1200.8,735.0 1203.7,728.8" stroke="#654f1e"/><polyline points="1203.0,730.3 1205.9,724.1" stroke="#6c5521"/><polyline points="1205.2,725.6 1208.3,719.4" stroke="#735a25"/><polyline points="1207.5,720.9 1210.7,714.6" stroke="#7a6028"/><polyline points="1209.9,716.1 1213.3,709.9" stroke="#80662b"/><polyline points="1212.5,711.4 1216.1,705.2" stroke="#876c2e"/><polyline points="1215.2,706.7 1219.1,700.5" stroke="#8e7232"/><polyline points="1218.1,702.0 1222.3,695.9" stroke="#a0833d"/><polyline points="1221.2,697.3 1225.7,691.3" stroke="#a58740"/><polyline points="1224.6,692.7 1229.5,686.9" stroke="#ab8c42"/><polyline points="1228.3,688.3 1235.8,680.5" stroke="#b9994c"/><polyline points="1234.4,681.8 1242.7,674.8" stroke="#be9e4e"/><polyline points="1241.2,675.9 1247.7,671.4" stroke="#c2a150"/><polyline points="1246.1,672.4 1255.0,667.1 1263.5,663.2" stroke="#ccab57"/><polyline points="1261.7,664.0 1271.3,660.5 1282.0,657.8 1292.9,656.2 1303.1,655.6" stroke="#cdad58"/><polyline points="1301.3,655.6 1311.7,655.7" stroke="#c1a050"/><polyline points="1309.9,655.6 1317.4,656.1" stroke="#bc9c4d"/><polyline points="1315.6,655.9 1320.2,656.4" stroke="#b99a4c"/><polyline points="1318.4,656.2 1325.8,657.1" stroke="#ad8d43"/><polyline points="1324.1,656.9 1331.4,658.1" stroke="#a78840"/><polyline points="1329.7,657.8 1336.9,659.3" stroke="#957835"/><polyline points="1335.2,658.9 1339.7,660.0" stroke="#8f7232"/><polyline points="1338.0,659.6 1342.4,660.7" stroke="#8b6f30"/><polyline points="1340.7,660.3 1345.1,661.5" stroke="#876c2e"/><polyline points="1343.4,661.0 1347.8,662.4" stroke="#83682c"/><polyline points="1346.1,661.8 1350.5,663.3" stroke="#7f642a"/><polyline points="1348.8,662.7 1353.1,664.2" stroke="#7b6128"/><polyline points="1351.5,663.6 1355.8,665.2" stroke="#765d26"/><polyline points="1354.1,664.6 1358.4,666.3" stroke="#725a24"/><polyline points="1356.8,665.6 1361.0,667.4" stroke="#6e5622"/><polyline points="1359.4,666.7 1366.1,669.8" stroke="#68511f"/><polyline points="1364.5,669.0 1371.2,672.4" stroke="#7a6637"/><polyline points="1369.6,671.5 1373.7,673.7" stroke="#756235"/><polyline points="1372.1,672.9 1378.5,676.7" stroke="#8c7a4f"/><polyline points="1377.0,675.7 1380.9,678.2" stroke="#88774d"/><polyline points="1379.4,677.2 1388.0,683.1" stroke="#a19167"/><polyline points="1386.5,682.0 1394.6,688.5" stroke="#bbac81"/><polyline points="1393.3,687.3 1403.0,696.5" stroke="#d7ca9c"/><polyline points="1401.7,695.2 1412.0,707.1 1421.9,721.9 1430.9,739.8 1438.0,758.6 1443.6,777.7 1448.8,801.2 1453.0,826.2 1458.2,864.0" stroke="#f7e9b8"/><polyline points="1010.6,882.4 1025.0,874.4 1041.9,866.6 1095.4,845.1 1111.9,838.0 1125.8,831.3 1138.8,823.9 1153.4,813.7 1164.9,803.1 1174.6,790.9 1184.4,774.6" stroke="#daba65"/><polyline points="1183.7,775.9 1185.5,772.5" stroke="#dec171"/><polyline points="1184.8,773.8 1186.6,770.3" stroke="#e3c97f"/><polyline points="1185.9,771.7 1187.7,768.2" stroke="#e8d18d"/><polyline points="1187.0,769.5 1188.7,766.0" stroke="#eeda9d"/><polyline points="1188.1,767.4 1189.8,763.8" stroke="#f3e2ac"/><polyline points="1189.1,765.2 1190.8,761.6" stroke="#f8ebbd"/><polyline points="1190.2,763.0 1192.9,757.2" stroke="#f9edc3"/><polyline points="1192.3,758.6 1195.0,752.7" stroke="#faefc9"/><polyline points="1194.3,754.1 1198.0,745.8" stroke="#fbf1ce"/><polyline points="1197.4,747.3 1204.3,731.9" stroke="#fcf3d3"/><polyline points="1203.6,733.4 1205.4,729.6" stroke="#fcf3d5"/><polyline points="1204.7,731.1 1208.8,722.6" stroke="#e3d8b7"/><polyline points="1208.0,724.1 1213.7,713.2" stroke="#cec099"/><polyline points="1212.9,714.7 1217.7,706.2" stroke="#bcab7d"/><polyline points="1216.8,707.7 1219.2,703.9" stroke="#c0ad7f"/><polyline points="1218.2,705.3 1222.2,699.3" stroke="#ae9863"/><polyline points="1221.2,700.7 1225.5,694.7" stroke="#b29c65"/><polyline points="1224.4,696.2 1229.0,690.3" stroke="#a4894b"/><polyline points="1227.9,691.7 1232.9,686.0" stroke="#a98d4d"/><polyline points="1231.6,687.4 1237.1,681.9" stroke="#9d7d34"/><polyline points="1235.7,683.2 1241.5,678.1" stroke="#a28137"/><polyline points="1240.1,679.3 1246.3,674.6" stroke="#a68539"/><polyline points="1244.7,675.7 1253.7,670.0" stroke="#ab893b"/><polyline points="1252.1,670.9 1264.2,665.0" stroke="#b18e3e"/><polyline points="1262.5,665.7 1271.9,662.3 1280.2,660.1 1288.7,658.6 1297.5,657.7" stroke="#b4913f"/><polyline points="1295.8,657.8 1303.2,657.5" stroke="#ad8b3c"/><polyline points="1301.4,657.5 1308.8,657.5" stroke="#a8873a"/><polyline points="1307.0,657.5 1314.4,657.8" stroke="#a38237"/><polyline points="1312.7,657.6 1317.2,658.0" stroke="#9f7f35"/><polyline points="1315.5,657.8 1322.8,658.6" stroke="#ab8f4d"/><polyline points="1321.0,658.4 1328.3,659.5" stroke="#a58a4a"/><polyline points="1326.6,659.2 1333.8,660.6" stroke="#b29b61"/><polyline points="1332.1,660.2 1336.5,661.2" stroke="#ae975f"/><polyline points="1334.8,660.8 1344.6,663.4" stroke="#beaa77"/><polyline points="1342.9,662.9 1352.5,666.0" stroke="#cdbd8e"/><polyline points="1350.8,665.4 1357.7,668.1" stroke="#e1d3a7"/><polyline points="1356.0,667.4 1368.0,672.8 1377.7,678.4 1386.9,684.7 1395.5,691.8 1403.4,699.7 1411.8,710.0 1418.0,719.1 1424.4,730.6 1430.0,742.6 1434.8,755.0 1438.8,767.6 1442.8,782.5 1449.2,814.2 1456.3,864.3" stroke="#f8ebbe"/><polyline points="1011.6,884.0 1025.9,876.1 1042.7,868.3 1096.1,846.8 1114.5,838.9 1130.0,831.2 1144.4,822.6 1151.8,817.3 1158.7,811.7 1165.0,805.7 1170.9,799.1 1176.2,792.0 1181.2,784.2 1186.8,774.1 1192.6,762.4" stroke="#dbbc67"/><polyline points="1191.9,763.8 1193.6,760.2" stroke="#dfc271"/><polyline points="1192.9,761.6 1194.6,758.0" stroke="#e8d08a"/><polyline points="1194.0,759.4 1195.7,755.7" stroke="#edd898"/><polyline points="1195.0,757.1 1196.7,753.4" stroke="#f2e0a7"/><polyline points="1196.0,754.9 1198.7,748.9" stroke="#f7e8b8"/><polyline points="1198.1,750.3 1200.8,744.3" stroke="#f8ebbe"/><polyline points="1200.1,745.8 1203.9,737.4" stroke="#f9edc3"/><polyline points="1203.2,738.9 1208.2,728.1" stroke="#faefc8"/><polyline points="1207.5,729.6 1216.9,711.4 1225.0,698.6 1234.6,687.0 1245.0,677.8" stroke="#faf0cd"/><polyline points="1243.6,678.9 1253.1,672.5 1264.9,666.8" stroke="#ecdeb3"/><polyline points="1263.2,667.5 1276.5,663.0 1289.3,660.4" stroke="#dfcd9a"/><polyline points="1287.6,660.7 1297.5,659.6 1306.0,659.4" stroke="#ecddb2"/><polyline points="1304.2,659.4 1316.9,659.9 1330.7,661.9" stroke="#f9eec8"/><polyline points="1329.0,661.5 1338.4,663.6 1346.8,666.1 1355.1,669.1 1364.5,673.2" stroke="#f8edc3"/><polyline points="1362.9,672.5 1372.9,677.7 1382.2,683.6 1390.9,690.3 1398.9,697.8 1406.2,705.9 1412.8,714.7 1418.6,723.9 1424.7,735.4 1429.9,747.4 1434.4,759.8 1438.2,772.3 1442.0,787.1 1447.9,818.6 1454.4,864.5" stroke="#f8edc2"/><polyline points="1012.6,885.6 1026.8,877.8 1043.4,870.0 1096.8,848.6 1115.3,840.7 1130.9,832.9 1145.5,824.2 1153.0,818.9 1160.0,813.1 1166.4,807.0 1172.3,800.3 1177.8,793.1 1182.8,785.2 1188.5,775.0 1194.3,763.2" stroke="#dcbe69"/><polyline points="1193.6,764.7 1199.5,752.0" stroke="#dbbc66"/><polyline points="1198.8,753.4 1200.5,749.7" stroke="#e4c97d"/><polyline points="1199.8,751.1 1201.5,747.4" stroke="#e9d18a"/><polyline points="1200.9,748.8 1202.5,745.1" stroke="#f1dea2"/><polyline points="1201.9,746.6 1204.6,740.5" stroke="#f6e6b2"/><polyline points="1203.9,741.9 1206.7,735.9" stroke="#f7e8b8"/><polyline points="1206.0,737.3 1209.9,728.9" stroke="#f8eabd"/><polyline points="1209.2,730.4 1214.5,719.6" stroke="#f9ecc1"/><polyline points="1213.8,721.1 1220.7,708.6 1228.5,697.0" stroke="#f9eec6"/><polyline points="1227.5,698.4 1236.0,688.3 1245.4,679.9 1255.8,673.2 1269.1,667.3 1281.0,663.8 1295.5,661.7 1310.3,661.4 1325.0,662.8" stroke="#f9eec7"/><polyline points="1323.3,662.5 1333.7,664.4 1344.1,667.2 1354.4,670.8 1364.3,675.2 1373.8,680.5 1382.8,686.4 1391.3,693.2 1398.8,700.4" stroke="#f9edc4"/><polyline points="1397.6,699.2 1403.4,705.5 1408.7,712.2 1418.0,726.7 1425.6,742.1 1432.6,760.4 1438.1,779.2 1443.2,802.3 1447.3,827.1 1452.5,864.8" stroke="#faefca"/><polyline points="1013.6,887.3 1027.6,879.6 1044.2,871.8 1097.6,850.4 1116.0,842.4 1131.9,834.6 1146.5,825.8 1154.1,820.4 1161.2,814.6 1167.8,808.3 1173.8,801.5 1183.5,787.8 1193.9,768.5" stroke="#dec06b"/><polyline points="1193.2,769.9 1205.3,743.6" stroke="#dcbd67"/><polyline points="1204.7,745.0 1206.3,741.3" stroke="#e1c472"/><polyline points="1205.7,742.7 1207.4,739.0" stroke="#e9d189"/><polyline points="1206.7,740.4 1208.4,736.6" stroke="#edd796"/><polyline points="1207.8,738.1 1210.6,732.0" stroke="#f6e5af"/><polyline points="1209.9,733.5 1213.9,725.1" stroke="#f7e7b5"/><polyline points="1213.2,726.6 1218.7,715.9" stroke="#f7e9ba"/><polyline points="1217.9,717.4 1226.9,702.5" stroke="#f8ebbf"/><polyline points="1226.0,703.9 1231.9,695.9 1237.3,689.6 1243.3,684.0 1251.5,678.0 1258.5,673.9 1267.8,669.8 1277.5,666.7 1287.5,664.6 1297.8,663.4 1308.2,663.2 1318.6,663.9 1329.1,665.4 1339.5,667.9 1349.6,671.1 1359.6,675.1 1369.9,680.4" stroke="#f9ecc3"/><polyline points="1368.4,679.6 1376.4,684.4 1385.5,690.9" stroke="#f9eec7"/><polyline points="1384.2,689.8 1391.6,696.0 1399.3,703.7" stroke="#faf0cc"/><polyline points="1398.1,702.5 1408.4,715.1 1417.3,729.5 1424.7,744.9 1431.4,763.0 1436.7,781.7 1441.7,804.7 1445.4,827.3 1450.6,865.1" stroke="#fbf2d0"/><polyline points="1014.5,888.9 1028.5,881.3 1044.9,873.5 1098.3,852.1 1116.8,844.1 1132.8,836.2 1146.0,828.4 1153.8,823.0 1161.1,817.2 1167.9,811.0 1174.1,804.2 1184.1,790.4 1194.5,771.6" stroke="#dfc26e"/><polyline points="1193.8,773.0 1211.2,735.1" stroke="#ddbe69"/><polyline points="1210.6,736.6 1212.3,732.8" stroke="#e1c472"/><polyline points="1211.6,734.3 1213.4,730.5" stroke="#e9d189"/><polyline points="1212.7,732.0 1214.5,728.2" stroke="#edd795"/><polyline points="1213.8,729.7 1216.8,723.7" stroke="#f5e4ad"/><polyline points="1216.0,725.1 1220.4,716.9" stroke="#f6e6b2"/><polyline points="1219.6,718.3 1225.6,707.9" stroke="#f7e7b6"/><polyline points="1224.7,709.3 1230.8,700.3 1236.6,693.2" stroke="#f7e9bb"/><polyline points="1235.5,694.5 1244.6,685.5 1256.0,677.5 1268.5,671.5 1281.9,667.6 1295.8,665.5 1312.2,665.3 1326.7,666.9 1342.3,670.7" stroke="#f8eabf"/><polyline points="1340.8,670.2 1351.0,673.6 1362.0,678.4" stroke="#f9ecc3"/><polyline points="1360.5,677.6 1368.2,681.6 1375.7,686.2" stroke="#f9eec7"/><polyline points="1374.3,685.3 1386.4,694.0" stroke="#faf0cc"/><polyline points="1385.1,693.0 1396.1,703.1" stroke="#fbf2d0"/><polyline points="1394.9,701.9 1401.8,709.6 1409.2,719.6" stroke="#fcf3d5"/><polyline points="1408.3,718.2 1415.7,730.4 1422.1,743.7 1427.6,757.5 1432.7,773.9 1436.8,790.5 1440.9,811.3 1448.7,865.3" stroke="#fcf4d7"/><polyline points="1015.5,890.5 1029.3,883.0 1045.7,875.3 1099.0,853.9 1117.6,845.9 1131.9,838.8 1145.4,831.0 1153.4,825.7 1160.9,819.9 1167.9,813.6 1173.1,808.2 1178.0,802.5 1183.6,794.7 1194.0,776.9" stroke="#e1c470"/><polyline points="1193.2,778.3 1203.7,756.6" stroke="#dec06c"/><polyline points="1203.0,758.0 1217.3,726.8" stroke="#ddbe68"/><polyline points="1216.6,728.3 1218.5,724.5" stroke="#e2c573"/><polyline points="1217.7,726.0 1219.6,722.3" stroke="#e6cb7e"/><polyline points="1218.9,723.7 1220.8,720.0" stroke="#eed794"/><polyline points="1220.1,721.5 1222.0,717.8" stroke="#f1dda0"/><polyline points="1221.3,719.2 1225.9,711.1" stroke="#f5e4ae"/><polyline points="1225.0,712.5 1231.5,702.6" stroke="#f6e6b2"/><polyline points="1230.6,703.9 1237.4,695.2 1245.5,687.2" stroke="#f7e7b7"/><polyline points="1244.2,688.3 1252.0,682.2 1260.3,677.3 1269.2,673.3 1280.4,669.9 1290.1,668.0 1302.0,667.0 1312.1,667.2 1324.1,668.5" stroke="#f7e9bb"/><polyline points="1322.5,668.2 1332.4,670.0 1344.3,673.3" stroke="#f8eabf"/><polyline points="1342.7,672.8 1358.8,679.0" stroke="#f9ecc3"/><polyline points="1357.3,678.3 1368.0,683.7" stroke="#f9eec7"/><polyline points="1366.6,682.9 1376.8,689.2" stroke="#faf0cc"/><polyline points="1375.5,688.3 1385.1,695.5" stroke="#fbf1d0"/><polyline points="1383.9,694.5 1392.9,702.5" stroke="#fcf3d4"/><polyline points="1391.7,701.4 1401.5,712.3" stroke="#fcf5d9"/><polyline points="1400.5,711.0 1408.7,722.4 1416.9,736.8 1423.6,752.2 1429.1,768.3 1434.0,786.8 1438.3,807.5 1441.9,829.9 1446.8,865.6" stroke="#fdf6dd"/><polyline points="1016.5,892.2 1030.2,884.7 1046.5,877.0 1099.7,855.7 1118.4,847.6 1132.8,840.5 1146.5,832.6 1154.5,827.2 1162.1,821.4 1169.2,815.0 1174.5,809.5 1179.5,803.6 1185.1,795.8 1195.7,777.7" stroke="#e2c573"/><polyline points="1194.9,779.1 1204.4,759.7" stroke="#dfc26e"/><polyline points="1203.7,761.1 1216.5,732.8 1223.7,718.7" stroke="#ddbf69"/><polyline points="1222.9,720.1 1224.9,716.5" stroke="#e2c673"/><polyline points="1224.1,717.9 1226.2,714.3" stroke="#e6cc7e"/><polyline points="1225.4,715.7 1227.5,712.1" stroke="#eed794"/><polyline points="1226.7,713.5 1228.8,710.0" stroke="#f1dd9f"/><polyline points="1228.0,711.4 1234.6,701.7" stroke="#f5e3ac"/><polyline points="1233.6,703.0 1238.8,696.5 1244.8,690.4" stroke="#f6e5b1"/><polyline points="1243.6,691.5 1250.0,686.0 1256.2,681.8 1262.9,678.1 1269.8,675.1 1277.1,672.7 1284.6,670.9 1292.3,669.7 1300.8,669.0" stroke="#f7e7b6"/><polyline points="1299.2,669.1 1312.0,669.1 1326.3,670.8" stroke="#f7e8b9"/><polyline points="1324.7,670.5 1341.2,674.3" stroke="#f8eabd"/><polyline points="1339.7,673.9 1353.3,678.6" stroke="#f9ecc2"/><polyline points="1351.8,678.0 1362.6,682.9" stroke="#f9edc7"/><polyline points="1361.1,682.2 1371.5,688.0" stroke="#faefcc"/><polyline points="1370.1,687.1 1377.8,692.3" stroke="#fbf1d0"/><polyline points="1376.5,691.3 1383.9,697.0" stroke="#fcf3d4"/><polyline points="1382.7,695.9 1391.5,703.9" stroke="#fcf4d9"/><polyline points="1390.4,702.7 1398.4,711.4" stroke="#fdf6de"/><polyline points="1397.4,710.2 1406.0,721.7 1414.2,735.9 1421.0,751.0 1427.3,768.8 1432.2,787.2 1436.4,807.9 1440.1,830.2 1444.9,865.9" stroke="#fef8e2"/><polyline points="1017.5,893.8 1029.3,887.3 1043.6,880.4 1109.9,853.5 1124.7,846.7 1137.2,840.3 1150.8,832.1 1163.3,822.8 1173.3,813.6 1182.9,802.3" stroke="#f7edcc"/><polyline points="1181.9,803.6 1188.6,794.0" stroke="#f3e6bb"/><polyline points="1187.7,795.3 1192.5,787.5" stroke="#efdea9"/><polyline points="1191.7,788.9 1195.0,783.1" stroke="#ead597"/><polyline points="1194.2,784.5 1197.4,778.6" stroke="#e6cd84"/><polyline points="1196.6,780.0 1205.0,762.7" stroke="#e0c370"/><polyline points="1204.4,764.2 1213.3,744.4" stroke="#dec06b"/><polyline points="1212.6,745.9 1222.9,724.3 1231.8,708.9" stroke="#ddbe68"/><polyline points="1230.9,710.2 1233.2,706.8" stroke="#e7cc7e"/><polyline points="1232.3,708.2 1234.6,704.8" stroke="#ead289"/><polyline points="1233.7,706.1 1236.1,702.8" stroke="#eed794"/><polyline points="1235.2,704.1 1244.3,693.5" stroke="#f5e3ab"/><polyline points="1243.2,694.6 1252.6,686.4 1258.8,682.4 1264.6,679.4" stroke="#f6e4b0"/><polyline points="1263.2,680.1 1274.0,675.6 1286.8,672.4 1300.2,670.9 1313.5,671.1" stroke="#f6e5b3"/><polyline points="1311.9,671.0 1328.5,673.1" stroke="#f7e7b7"/><polyline points="1326.9,672.8 1340.7,676.2" stroke="#f8e9bc"/><polyline points="1339.2,675.7 1350.2,679.5" stroke="#f8ebc1"/><polyline points="1348.7,678.9 1357.2,682.4" stroke="#f9edc6"/><polyline points="1355.7,681.8 1363.9,685.8" stroke="#faefca"/><polyline points="1362.5,685.1 1370.5,689.6" stroke="#fbf0cf"/><polyline points="1369.1,688.8 1376.7,693.8" stroke="#fcf2d3"/><polyline points="1375.4,692.9 1380.8,696.8" stroke="#fcf4d7"/><polyline points="1379.5,695.9 1384.6,700.1" stroke="#f7ecc7"/><polyline points="1383.4,699.0 1393.6,708.9" stroke="#f1e1b4"/><polyline points="1392.6,707.7 1395.3,710.7" stroke="#f4e8c2"/><polyline points="1394.3,709.5 1396.9,712.7" stroke="#f4e7be"/><polyline points="1395.9,711.4 1398.5,714.6" stroke="#f2e4b7"/><polyline points="1397.5,713.4 1400.1,716.6" stroke="#d0c29a"/><polyline points="1399.1,715.4 1403.0,720.7" stroke="#d5caa9"/><polyline points="1402.1,719.4 1404.4,722.8" stroke="#b4aa8d"/><polyline points="1403.5,721.5 1405.8,724.9" stroke="#ad9d74"/><polyline points="1404.9,723.6 1411.6,734.9 1417.7,747.8 1422.9,761.4 1427.7,777.4 1431.7,793.8 1435.3,812.3 1443.1,866.1" stroke="#b2a787"/><polyline points="1018.5,895.5 1031.9,888.1 1048.0,880.5 1101.2,859.2 1120.0,851.1 1136.4,842.9 1151.8,833.7 1159.9,828.0 1167.5,821.7 1174.7,815.0 1180.0,809.1 1184.9,802.8 1190.5,794.5 1201.3,775.0" stroke="#fbf6e0"/><polyline points="1200.6,776.4 1203.6,770.4" stroke="#f6edcc"/><polyline points="1202.9,771.9 1204.7,768.1" stroke="#f2e4b9"/><polyline points="1204.0,769.6 1206.8,763.5" stroke="#eddca7"/><polyline points="1206.1,765.0 1207.8,761.2" stroke="#e9d394"/><polyline points="1207.2,762.7 1209.9,756.6" stroke="#e4ca80"/><polyline points="1209.3,758.1 1217.1,740.6" stroke="#debf6b"/><polyline points="1216.5,742.1 1222.7,728.9 1228.5,718.0 1233.7,709.6 1239.1,702.0" stroke="#ddbe68"/><polyline points="1238.2,703.3 1240.7,700.2" stroke="#e4c774"/><polyline points="1239.7,701.4 1242.3,698.3" stroke="#e7cd7f"/><polyline points="1241.3,699.5 1243.9,696.6" stroke="#ebd289"/><polyline points="1242.9,697.7 1245.6,694.8" stroke="#eed794"/><polyline points="1244.5,695.9 1247.4,693.2" stroke="#f2dd9e"/><polyline points="1246.3,694.2 1255.2,687.0 1265.4,681.1" stroke="#f5e3ab"/><polyline points="1264.0,681.8 1274.6,677.5 1285.3,674.6 1296.5,673.1 1308.4,672.8" stroke="#f5e4ae"/><polyline points="1306.8,672.7 1323.2,674.1" stroke="#f6e6b3"/><polyline points="1321.7,673.9 1332.9,676.0" stroke="#f7e7b8"/><polyline points="1331.4,675.7 1342.5,678.7" stroke="#f8e9bd"/><polyline points="1341.0,678.2 1349.5,681.2" stroke="#f9ebc1"/><polyline points="1348.1,680.7 1351.8,682.2" stroke="#f9ecc5"/><polyline points="1350.4,681.6 1356.4,684.2" stroke="#f5e6b8"/><polyline points="1354.9,683.5 1360.8,686.3" stroke="#f1dfaa"/><polyline points="1359.4,685.6 1365.2,688.7" stroke="#ecd79b"/><polyline points="1363.8,687.9 1369.4,691.2" stroke="#e6ce8a"/><polyline points="1368.1,690.4 1375.6,695.4" stroke="#dfc476"/><polyline points="1374.3,694.5 1377.6,696.8" stroke="#e3cb85"/><polyline points="1376.4,695.9 1379.6,698.3" stroke="#e7d192"/><polyline points="1378.3,697.4 1381.5,699.9" stroke="#c7af70"/><polyline points="1380.3,698.9 1383.4,701.5" stroke="#ad9964"/><polyline points="1382.2,700.5 1385.2,703.1" stroke="#928257"/><polyline points="1384.1,702.1 1387.0,704.8" stroke="#978966"/><polyline points="1385.9,703.8 1388.8,706.6" stroke="#766846"/><polyline points="1387.7,705.5 1392.2,710.1" stroke="#554625"/><polyline points="1391.2,709.0 1398.5,717.8" stroke="#322408"/><polyline points="1397.6,716.5 1406.0,728.9 1412.6,741.2 1419.0,756.2 1424.2,771.9 1428.9,790.1 1432.7,808.5 1436.3,830.7 1441.2,866.4" stroke="#4b3a16"/><polyline points="1019.5,897.1 1032.8,889.8 1048.8,882.3 1103.8,860.2 1122.7,851.9 1139.1,843.7 1154.6,834.2 1162.6,828.3 1170.3,821.8 1177.4,814.8 1184.0,807.2 1189.9,799.0 1195.3,790.3 1206.4,768.9" stroke="#fdf8e4"/><polyline points="1205.7,770.4 1212.7,755.1" stroke="#fbf6e0"/><polyline points="1212.0,756.6 1213.7,752.8" stroke="#f6edcc"/><polyline points="1213.1,754.3 1215.8,748.3" stroke="#f1e3b8"/><polyline points="1215.1,749.7 1216.8,746.0" stroke="#ecdaa4"/><polyline points="1216.1,747.4 1217.8,743.7" stroke="#e7d191"/><polyline points="1217.2,745.1 1218.8,741.4" stroke="#e2c77d"/><polyline points="1218.2,742.9 1226.3,726.0 1233.1,713.9 1240.8,703.0 1248.7,694.6" stroke="#dcbd67"/><polyline points="1247.6,695.6 1250.4,693.0" stroke="#e4c774"/><polyline points="1249.3,694.0 1254.1,690.1" stroke="#e8cd7f"/><polyline points="1252.9,691.0 1256.0,688.7" stroke="#ebd289"/><polyline points="1254.8,689.6 1258.0,687.4" stroke="#eed794"/><polyline points="1256.7,688.3 1260.0,686.2" stroke="#f1dc9d"/><polyline points="1258.7,687.0 1267.0,682.5 1276.9,678.7 1287.5,676.2 1298.6,674.8" stroke="#f5e2a9"/><polyline points="1297.1,674.9 1313.2,674.9" stroke="#f5e3ad"/><polyline points="1311.7,674.8 1320.5,675.7" stroke="#f6e5b1"/><polyline points="1319.0,675.5 1327.7,676.8" stroke="#f3e0a8"/><polyline points="1326.2,676.6 1332.5,677.9" stroke="#f0db9e"/><polyline points="1331.0,677.5 1337.2,679.1" stroke="#ecd592"/><polyline points="1335.7,678.7 1341.9,680.5" stroke="#e7ce85"/><polyline points="1340.4,680.1 1346.5,682.1" stroke="#e2c677"/><polyline points="1345.1,681.6 1353.3,684.9" stroke="#dcbd66"/><polyline points="1351.9,684.3 1359.9,688.0" stroke="#d8b962"/><polyline points="1358.6,687.3 1362.1,689.2" stroke="#dbbf71"/><polyline points="1360.7,688.5 1364.2,690.4" stroke="#c5aa64"/><polyline points="1362.9,689.6 1366.4,691.6" stroke="#ae9657"/><polyline points="1365.0,690.8 1368.4,692.8" stroke="#b29d65"/><polyline points="1367.1,692.0 1370.5,694.2" stroke="#9a8858"/><polyline points="1369.2,693.3 1372.5,695.5" stroke="#82724c"/><polyline points="1371.2,694.7 1374.5,696.9" stroke="#64522c"/><polyline points="1373.3,696.0 1378.4,699.8" stroke="#44330f"/><polyline points="1377.2,698.9 1380.3,701.4" stroke="#5a471c"/><polyline points="1379.1,700.4 1384.0,704.6" stroke="#715c29"/><polyline points="1382.8,703.5 1387.5,707.9" stroke="#897136"/><polyline points="1386.4,706.8 1389.2,709.6" stroke="#a28844"/><polyline points="1388.1,708.5 1392.4,713.2" stroke="#bb9f52"/><polyline points="1391.4,712.1 1400.2,723.3 1408.2,736.7 1415.0,751.2 1421.2,768.5 1426.1,786.5 1430.4,806.8 1434.1,829.0 1439.3,866.7" stroke="#d5b761"/><polyline points="1020.4,898.7 1033.6,891.5 1049.5,884.0 1104.5,862.0 1125.4,852.8 1143.6,843.3 1158.9,833.4 1167.0,827.2 1174.5,820.5 1181.5,813.1 1188.0,805.1 1193.7,796.5 1199.0,787.6 1211.3,762.8" stroke="#fefae9"/><polyline points="1210.6,764.3 1219.6,744.5" stroke="#fcf8e4"/><polyline points="1218.9,745.9 1222.7,737.7" stroke="#fbf6e0"/><polyline points="1222.0,739.1 1223.7,735.5" stroke="#f6eccb"/><polyline points="1223.1,736.9 1224.8,733.3" stroke="#f0e2b7"/><polyline points="1224.1,734.7 1225.9,731.0" stroke="#ebd9a3"/><polyline points="1225.2,732.4 1227.0,728.9" stroke="#e5cf8e"/><polyline points="1226.3,730.2 1229.2,724.5" stroke="#e0c479"/><polyline points="1228.5,725.9 1234.8,714.9 1241.1,705.7 1246.9,698.9 1253.4,693.0" stroke="#dbbb64"/><polyline points="1252.3,693.9 1258.8,689.2 1265.0,685.6" stroke="#e0c169"/><polyline points="1263.7,686.3 1269.2,683.6" stroke="#e5c875"/><polyline points="1267.8,684.2 1273.4,681.9" stroke="#e8cd7f"/><polyline points="1272.1,682.4 1284.3,678.7 1296.4,676.9" stroke="#ebd289"/><polyline points="1294.9,677.1 1305.9,676.5" stroke="#e8cd80"/><polyline points="1304.4,676.5 1313.1,676.8" stroke="#e4c876"/><polyline points="1311.6,676.7 1327.4,678.7" stroke="#dfc069"/><polyline points="1325.9,678.4 1336.7,681.0" stroke="#dbbc64"/><polyline points="1335.2,680.6 1343.6,683.1" stroke="#d8b860"/><polyline points="1342.2,682.6 1345.9,683.9" stroke="#dcc073"/><polyline points="1344.4,683.4 1348.1,684.8" stroke="#e1c984"/><polyline points="1346.7,684.2 1350.4,685.7" stroke="#ceb779"/><polyline points="1348.9,685.1 1352.6,686.6" stroke="#baa46d"/><polyline points="1351.2,686.0 1354.8,687.6" stroke="#a59261"/><polyline points="1353.4,687.0 1356.9,688.7" stroke="#897340"/><polyline points="1355.6,688.0 1359.1,689.7" stroke="#736034"/><polyline points="1357.7,689.1 1361.2,690.9" stroke="#574216"/><polyline points="1359.9,690.1 1365.4,693.2" stroke="#695321"/><polyline points="1364.1,692.5 1367.4,694.5" stroke="#7d652d"/><polyline points="1366.1,693.7 1369.4,695.8" stroke="#917839"/><polyline points="1368.2,694.9 1371.4,697.1" stroke="#a78c46"/><polyline points="1370.2,696.2 1375.3,699.9" stroke="#bda153"/><polyline points="1374.1,699.0 1381.2,704.7 1386.7,709.8 1391.7,715.4 1397.5,722.8 1402.7,730.8 1407.4,739.3 1415.4,757.5 1421.7,777.0 1427.4,801.1 1431.9,827.3 1437.4,866.9" stroke="#d4b55f"/><polyline points="1021.4,900.4 1034.5,893.2 1050.3,885.8 1103.3,864.5 1120.5,857.1 1135.5,849.9 1148.1,842.9 1163.4,832.5 1175.8,821.9 1187.0,809.5 1196.5,795.8" stroke="#291d05"/><polyline points="1195.6,797.2 1197.8,793.6" stroke="#2c2007"/><polyline points="1196.9,795.0 1202.9,784.4" stroke="#52462e"/><polyline points="1202.1,785.9 1204.1,782.1" stroke="#55492f"/><polyline points="1203.4,783.6 1208.7,772.9" stroke="#796f55"/><polyline points="1208.0,774.4 1209.8,770.6" stroke="#7c7156"/><polyline points="1209.1,772.0 1213.0,763.6" stroke="#9f957c"/><polyline points="1212.4,765.1 1216.2,756.7" stroke="#c1b9a1"/><polyline points="1215.5,758.2 1220.3,747.5" stroke="#e1dbc5"/><polyline points="1219.6,749.0 1227.6,731.9" stroke="#fdf9e7"/><polyline points="1226.9,733.3 1232.1,723.3" stroke="#fcf7e3"/><polyline points="1231.3,724.6 1233.2,721.2" stroke="#f6eccc"/><polyline points="1232.5,722.5 1234.4,719.1" stroke="#f0e2b7"/><polyline points="1233.7,720.5 1236.9,715.1" stroke="#ead7a1"/><polyline points="1236.1,716.4 1238.2,713.1" stroke="#e4cc8b"/><polyline points="1237.4,714.4 1239.5,711.2" stroke="#dec276"/><polyline points="1238.6,712.4 1243.8,705.4 1249.5,699.1 1255.8,693.6 1261.9,689.5" stroke="#d9b962"/><polyline points="1260.7,690.2 1267.1,686.7 1273.2,684.0 1279.7,681.9 1288.2,679.9 1295.2,678.9 1304.2,678.4 1320.0,679.4" stroke="#ddbd65"/><polyline points="1318.5,679.2 1329.3,681.1" stroke="#d7b65f"/><polyline points="1327.8,680.8 1331.6,681.6" stroke="#dbbe71"/><polyline points="1330.2,681.3 1333.9,682.2" stroke="#cbaf67"/><polyline points="1332.5,681.8 1336.2,682.8" stroke="#baa05c"/><polyline points="1334.8,682.4 1338.5,683.5" stroke="#a89052"/><polyline points="1337.0,683.0 1340.7,684.2" stroke="#967f47"/><polyline points="1339.3,683.7 1343.0,684.9" stroke="#836e3d"/><polyline points="1341.6,684.4 1345.2,685.7" stroke="#69511d"/><polyline points="1343.8,685.2 1349.6,687.5" stroke="#785f27"/><polyline points="1348.2,686.9 1351.8,688.4" stroke="#886e31"/><polyline points="1350.4,687.8 1354.0,689.4" stroke="#9a7f3c"/><polyline points="1352.6,688.7 1356.1,690.4" stroke="#ac9047"/><polyline points="1354.7,689.7 1358.2,691.4" stroke="#c0a253"/><polyline points="1356.9,690.8 1366.5,696.2 1374.2,701.4 1381.4,707.3 1387.8,713.8 1393.7,720.9 1399.1,728.6 1403.9,736.8 1409.1,747.2 1412.9,756.3 1416.9,767.7 1420.4,779.4 1423.8,793.4 1429.1,821.6 1435.5,867.2" stroke="#d2b35d"/><polyline points="1022.4,902.0 1033.7,895.7 1047.5,889.1 1113.7,862.2 1128.9,855.3 1143.7,847.7 1157.8,838.9 1171.0,828.8 1183.0,817.2 1192.1,805.8" stroke="#d3b35d"/><polyline points="1191.1,807.2 1197.0,798.6 1203.4,787.6" stroke="#b79a4e"/><polyline points="1202.6,789.1 1209.3,776.0" stroke="#9e8441"/><polyline points="1208.6,777.5 1213.7,766.7" stroke="#877035"/><polyline points="1213.0,768.2 1216.9,759.8" stroke="#735d29"/><polyline points="1216.2,761.3 1217.9,757.5" stroke="#765f2a"/><polyline points="1217.3,758.9 1221.0,750.6" stroke="#624d1e"/><polyline points="1220.3,752.0 1223.0,746.1" stroke="#513e14"/><polyline points="1222.4,747.5 1225.1,741.6" stroke="#564116"/><polyline points="1224.4,743.0 1227.2,737.1" stroke="#76643b"/><polyline points="1226.5,738.5 1230.4,730.6" stroke="#95855f"/><polyline points="1229.7,732.0 1233.7,724.2" stroke="#b3a583"/><polyline points="1233.0,725.6 1237.3,718.1" stroke="#cec3a5"/><polyline points="1236.5,719.4 1242.4,710.4" stroke="#e7dfc5"/><polyline points="1241.5,711.6 1243.7,708.6" stroke="#fcf8e4"/><polyline points="1242.9,709.7 1245.1,706.8" stroke="#f6edce"/><polyline points="1244.2,707.9 1248.0,703.4" stroke="#f0e1b7"/><polyline points="1247.0,704.5 1249.5,701.8" stroke="#e9d6a0"/><polyline points="1248.5,702.8 1252.5,698.8" stroke="#e2cb8a"/><polyline points="1251.5,699.7 1255.8,696.0" stroke="#dcc073"/><polyline points="1254.7,696.9 1260.9,692.4 1266.4,689.1 1272.4,686.4 1280.2,683.7 1286.8,682.1 1295.4,680.8 1310.5,680.5" stroke="#d7b65f"/><polyline points="1309.0,680.4 1315.1,680.8" stroke="#c8a753"/><polyline points="1313.7,680.7 1317.4,681.0" stroke="#ba9a4a"/><polyline points="1316.0,680.9 1319.7,681.3" stroke="#c0a45f"/><polyline points="1318.3,681.1 1322.0,681.7" stroke="#b19756"/><polyline points="1320.6,681.4 1324.3,682.0" stroke="#a2894c"/><polyline points="1322.9,681.8 1326.6,682.5" stroke="#8b6f2d"/><polyline points="1325.2,682.2 1328.9,682.9" stroke="#7b6023"/><polyline points="1327.5,682.6 1333.4,684.0" stroke="#876b2c"/><polyline points="1332.0,683.7 1335.7,684.6" stroke="#947835"/><polyline points="1334.3,684.2 1337.9,685.3" stroke="#a3863f"/><polyline points="1336.5,684.9 1340.1,686.0" stroke="#b29449"/><polyline points="1338.7,685.5 1342.4,686.7" stroke="#c2a453"/><polyline points="1341.0,686.3 1350.7,690.0 1360.7,694.9 1370.1,700.8 1378.7,707.6 1385.2,713.8 1392.2,722.1 1398.5,731.2 1404.0,741.1 1408.9,751.6 1413.2,762.6 1417.4,776.0 1421.0,789.8 1426.9,819.9 1433.6,867.5" stroke="#d1b25c"/><polyline points="1023.4,903.6 1036.2,896.6 1051.8,889.3 1108.6,866.4 1129.7,857.1 1150.0,846.1 1158.9,840.5 1167.3,834.3 1177.0,826.1 1184.4,818.5 1191.3,810.2 1197.4,801.4 1204.0,790.4 1210.0,779.0 1225.8,744.6" stroke="#d1b15a"/><polyline points="1225.1,746.0 1229.9,735.8" stroke="#bea050"/><polyline points="1229.3,737.1 1233.2,729.3" stroke="#ad9046"/><polyline points="1232.5,730.7 1236.6,723.1" stroke="#9e823c"/><polyline points="1235.8,724.4 1240.1,717.1" stroke="#917634"/><polyline points="1239.3,718.4 1243.9,711.5" stroke="#866b2b"/><polyline points="1243.1,712.7 1245.2,709.7" stroke="#8a6e2d"/><polyline points="1244.4,710.9 1248.0,706.3" stroke="#7e6324"/><polyline points="1247.1,707.4 1252.3,701.6" stroke="#987f47"/><polyline points="1251.4,702.6 1253.8,700.2" stroke="#9a8147"/><polyline points="1252.9,701.1 1260.4,695.0" stroke="#b19b68"/><polyline points="1259.3,695.8 1262.1,693.9" stroke="#ac9151"/><polyline points="1261.0,694.6 1263.9,692.7" stroke="#bfa971"/><polyline points="1262.8,693.4 1269.5,689.8" stroke="#b99e5a"/><polyline points="1268.3,690.4 1277.5,686.6" stroke="#b49343"/><polyline points="1276.2,687.0 1279.5,685.9" stroke="#c6aa62"/><polyline points="1278.2,686.3 1288.0,683.8" stroke="#bf9e4b"/><polyline points="1286.7,684.1 1296.9,682.6" stroke="#b49343"/><polyline points="1295.5,682.8 1301.4,682.3" stroke="#a8883b"/><polyline points="1299.9,682.4 1303.6,682.3" stroke="#ad9251"/><polyline points="1302.2,682.3 1305.9,682.3" stroke="#9a7b32"/><polyline points="1304.4,682.3 1308.1,682.3" stroke="#a08548"/><polyline points="1306.7,682.3 1312.7,682.5" stroke="#977831"/><polyline points="1311.2,682.4 1317.2,682.9" stroke="#a08239"/><polyline points="1315.8,682.8 1319.5,683.2" stroke="#ab8d41"/><polyline points="1318.0,683.0 1324.0,683.9" stroke="#b7994a"/><polyline points="1322.6,683.7 1326.2,684.3" stroke="#c4a553"/><polyline points="1324.8,684.1 1336.2,686.8 1348.3,691.0 1359.8,696.6 1369.0,702.4 1377.5,709.0 1385.0,716.4 1391.8,724.7 1398.8,735.4 1404.0,745.3 1409.3,757.7 1413.9,770.8 1418.2,786.3 1421.8,802.2 1424.7,818.2 1431.7,867.7" stroke="#d0b05a"/><polyline points="1024.4,905.3 1037.1,898.3 1052.6,891.0 1109.4,868.2 1134.3,856.9 1145.5,851.0 1156.4,844.4 1166.8,837.1 1175.1,830.3 1182.9,822.9 1190.1,814.8 1196.6,806.0 1202.5,796.9 1212.7,777.9 1234.7,730.4 1241.2,718.9 1248.1,709.2" stroke="#cfaf58"/><polyline points="1247.2,710.3 1252.2,704.5" stroke="#d1b15b"/><polyline points="1251.3,705.4 1259.8,697.8" stroke="#c5a552"/><polyline points="1258.8,698.5 1264.2,694.8 1270.3,691.5" stroke="#bb9c4b"/><polyline points="1269.1,692.1 1279.7,687.8 1292.7,685.0" stroke="#b39344"/><polyline points="1291.3,685.2 1299.2,684.4" stroke="#bd9d4b"/><polyline points="1297.8,684.5 1303.6,684.2" stroke="#c6a653"/><polyline points="1302.2,684.2 1312.9,684.4 1323.4,685.8 1333.9,688.1 1344.2,691.5 1354.1,695.8 1363.5,701.0 1372.2,707.1 1379.1,713.1" stroke="#cfaf59"/><polyline points="1378.1,712.2 1388.1,723.0 1397.1,736.3 1404.6,751.3 1410.8,767.6 1416.4,786.8 1420.7,806.6 1424.7,830.4 1429.8,868.0" stroke="#cdad57"/><polyline points="1025.3,906.9 1037.9,900.0 1053.4,892.8 1110.1,870.0 1135.2,858.6 1146.5,852.6 1157.4,846.0 1168.0,838.6 1176.4,831.8 1184.3,824.2 1190.2,817.7 1196.9,808.9 1203.0,799.8 1214.4,778.7 1231.2,742.1 1237.3,729.6 1244.8,717.0 1252.2,707.3" stroke="#cdac55"/><polyline points="1251.4,708.2 1257.0,702.5 1262.8,698.0 1269.1,694.2 1275.9,691.2 1283.3,688.8 1291.1,687.2 1299.2,686.3 1309.3,686.2 1317.9,686.9 1328.3,688.7 1336.8,690.9 1345.2,693.9 1354.8,698.3 1362.5,702.6 1369.6,707.5 1376.2,713.0 1385.5,722.9 1394.5,735.7 1402.1,750.3 1409.0,768.2 1414.5,787.2 1418.8,806.9 1422.8,830.7 1427.9,868.3" stroke="#cdad57"/><polyline points="1026.3,908.6 1038.8,901.7 1054.1,894.5 1110.8,871.7 1136.1,860.3 1147.4,854.3 1158.5,847.6 1169.1,840.1 1177.6,833.2 1185.6,825.6 1191.6,818.9 1197.2,811.9 1203.4,802.7 1209.0,793.2 1215.1,781.5 1233.8,741.0 1240.8,727.2 1245.4,719.5 1250.2,712.7 1254.2,708.0 1259.1,703.2" stroke="#cba952"/><polyline points="1258.2,704.0 1263.8,699.6 1270.0,695.9 1276.6,692.9 1283.8,690.7 1291.4,689.1 1299.4,688.2 1307.6,688.0 1316.0,688.6 1324.5,689.8 1332.9,691.8 1341.2,694.4 1349.3,697.7 1357.0,701.6 1364.3,706.1 1371.1,711.1 1377.3,716.7 1386.1,726.7 1394.7,739.8 1401.9,754.5 1407.8,770.6 1413.1,789.6 1417.3,809.3 1420.9,831.0 1426.0,868.5" stroke="#cbaa54"/><polyline points="1027.3,910.2 1039.7,903.4 1054.9,896.3 1111.6,873.5 1136.9,862.0 1148.4,856.0 1159.5,849.2 1170.3,841.7 1178.9,834.6 1187.0,826.9 1194.6,818.4 1201.3,809.3 1207.4,799.9 1217.8,780.4 1238.1,736.5 1243.4,726.5 1248.0,719.1 1252.7,712.6 1257.5,707.2 1262.7,702.7 1269.4,698.4" stroke="#c8a64f"/><polyline points="1268.4,699.0 1273.4,696.4 1280.0,693.8 1287.2,691.8 1294.8,690.5 1302.7,689.9 1310.8,690.1 1325.8,692.0 1334.0,694.1 1342.2,696.8 1356.1,703.3 1368.6,711.6 1374.8,716.9 1379.4,721.5 1387.6,731.9 1394.7,743.8 1401.5,758.7 1407.2,774.9 1411.7,792.0 1415.8,811.6 1419.3,833.2 1424.1,868.8" stroke="#c9a751"/><line x1="1460.0" y1="862.9" x2="1460.8" y2="868.7" stroke="#4a3e22"/><line x1="1458.1" y1="863.2" x2="1459.5" y2="873.1" stroke="#f7e9b8"/><line x1="1456.2" y1="863.5" x2="1457.9" y2="875.8" stroke="#f8ecbe"/><line x1="1454.3" y1="863.7" x2="1456.3" y2="877.8" stroke="#f9eec4"/><line x1="1452.4" y1="864.0" x2="1454.6" y2="879.3" stroke="#faf0cb"/><line x1="1450.5" y1="864.3" x2="1452.8" y2="880.5" stroke="#fbf2d1"/><line x1="1448.6" y1="864.5" x2="1451.0" y2="881.5" stroke="#fcf4d7"/><line x1="1446.7" y1="864.8" x2="1449.2" y2="882.2" stroke="#fdf6dd"/><line x1="1444.8" y1="865.1" x2="1447.3" y2="882.7" stroke="#fef8e4"/><line x1="1442.9" y1="865.3" x2="1445.4" y2="882.9" stroke="#b2a787"/><line x1="1441.0" y1="865.6" x2="1443.5" y2="883.0" stroke="#4b3a16"/><line x1="1439.2" y1="865.9" x2="1441.5" y2="882.8" stroke="#d5b761"/><line x1="1437.3" y1="866.1" x2="1439.6" y2="882.4" stroke="#d3b55f"/><line x1="1435.4" y1="866.4" x2="1437.5" y2="881.7" stroke="#d2b35d"/><line x1="1433.5" y1="866.7" x2="1435.5" y2="880.7" stroke="#d0b15b"/><line x1="1431.6" y1="866.9" x2="1433.3" y2="879.2" stroke="#cfaf59"/><line x1="1429.7" y1="867.2" x2="1431.1" y2="877.1" stroke="#cdad57"/><line x1="1427.8" y1="867.5" x2="1428.6" y2="873.3" stroke="#ccab55"/><path d="M1427.2,868.4 A17.0,17.0 0 0 0 1460.8,863.6" stroke="#8a6a20" stroke-width="2.2" fill="none"/><path d="M1424.5,868.7 A19.7,19.7 0 0 0 1463.5,863.2" stroke="(214, 182, 96)" stroke-width="2.6" fill="none"/></g><g fill="none" stroke-linecap="butt" stroke-linejoin="round" stroke-width="2.72"><circle cx="1427.0" cy="1409.0" r="20.0" fill="#d6b660"/><polyline points="1010.3,1405.1 1058.7,1385.1 1088.7,1370.9 1102.0,1363.6 1114.5,1355.9 1126.2,1347.6 1135.7,1339.8 1143.2,1332.7 1150.1,1325.2 1156.4,1317.2 1161.1,1310.2 1168.7,1296.1 1186.4,1257.9 1193.4,1245.8 1200.2,1236.0 1209.4,1225.1 1219.8,1215.3 1231.3,1206.8 1241.7,1201.0 1248.4,1198.1 1257.4,1195.1 1264.3,1193.5 1273.6,1192.0 1290.0,1191.5 1299.3,1192.2 1308.5,1193.6 1317.6,1195.7 1326.6,1198.4 1344.0,1205.5 1360.4,1214.6 1375.4,1225.5" stroke="#d1b25a"/><polyline points="1374.0,1224.3 1382.6,1231.8 1389.2,1238.4 1396.9,1247.0 1403.7,1256.2 1409.9,1265.6 1415.4,1275.4 1420.2,1285.5 1424.5,1295.7 1432.2,1318.8 1438.2,1344.2 1442.8,1373.6 1446.0,1407.6" stroke="#d6b661"/><polyline points="1011.0,1406.8 1059.4,1386.7 1087.8,1373.4 1101.3,1366.1 1114.0,1358.4 1124.5,1351.2 1134.3,1343.5 1143.3,1335.2 1150.4,1327.7 1156.8,1319.7 1162.7,1311.1 1169.5,1298.6 1184.0,1266.8 1190.7,1253.8" stroke="#d9ba63"/><polyline points="1189.8,1255.4 1196.2,1244.8 1204.5,1233.4 1212.3,1224.6 1220.9,1216.7 1230.3,1209.6 1240.4,1203.7 1249.0,1199.8 1260.1,1196.3 1271.5,1194.1 1283.0,1193.2 1294.5,1193.6 1308.1,1195.4 1319.4,1198.1 1332.5,1202.5 1345.3,1208.1 1355.6,1213.8" stroke="#d6b760"/><polyline points="1354.0,1212.8 1367.1,1221.4 1380.7,1232.5" stroke="#dbbc67"/><polyline points="1379.4,1231.3 1386.3,1238.0 1392.7,1244.9" stroke="#debf6a"/><polyline points="1391.5,1243.5 1402.2,1257.2 1412.7,1274.3 1421.2,1292.3 1427.9,1310.9 1433.7,1331.9 1438.3,1355.1 1441.7,1380.0 1444.2,1407.7" stroke="#c1a55b"/><polyline points="1011.7,1408.5 1050.9,1392.4 1074.6,1381.9 1095.5,1371.4 1113.4,1360.9 1129.9,1349.4 1143.3,1337.7 1155.1,1324.9 1164.8,1311.1" stroke="#291d06"/><polyline points="1164.1,1312.3 1168.2,1305.2" stroke="#2e2108"/><polyline points="1167.5,1306.5 1169.2,1303.2" stroke="#322409"/><polyline points="1168.6,1304.5 1172.4,1296.9" stroke="#51411b"/><polyline points="1171.7,1298.2 1175.4,1290.3" stroke="#57451d"/><polyline points="1174.8,1291.7 1176.4,1288.0" stroke="#5b491f"/><polyline points="1175.8,1289.4 1179.5,1281.1" stroke="#79632f"/><polyline points="1178.8,1282.6 1181.6,1276.4" stroke="#7d6731"/><polyline points="1180.9,1277.9 1182.6,1274.0" stroke="#816a33"/><polyline points="1182.0,1275.6 1186.0,1266.9" stroke="#9b8241"/><polyline points="1185.3,1268.4 1188.4,1262.0" stroke="#9f8543"/><polyline points="1187.6,1263.5 1193.6,1252.3" stroke="#b79b51"/><polyline points="1192.8,1253.8 1195.1,1249.9" stroke="#b99d52"/><polyline points="1194.2,1251.4 1201.4,1240.4" stroke="#ccaf5d"/><polyline points="1200.4,1241.9 1207.4,1232.8 1213.6,1225.9 1220.4,1219.6 1227.5,1213.8 1235.2,1208.7 1243.3,1204.3 1249.7,1201.5 1258.4,1198.6 1267.3,1196.6 1276.3,1195.4 1285.3,1195.0 1294.3,1195.4 1303.3,1196.4 1314.5,1198.7 1325.4,1201.8 1334.5,1205.2" stroke="#dabc66"/><polyline points="1332.8,1204.5 1344.7,1209.9" stroke="#cfb160"/><polyline points="1343.1,1209.1 1354.6,1215.3" stroke="#bb9f54"/><polyline points="1353.1,1214.4 1361.8,1219.9" stroke="#a38946"/><polyline points="1360.3,1218.9 1366.4,1223.1" stroke="#897137"/><polyline points="1364.9,1222.1 1370.9,1226.5" stroke="#846d35"/><polyline points="1369.5,1225.4 1375.2,1230.1" stroke="#675324"/><polyline points="1373.9,1228.9 1379.5,1233.8" stroke="#614e22"/><polyline points="1378.2,1232.6 1383.6,1237.8" stroke="#413110"/><polyline points="1382.3,1236.5 1387.5,1241.8" stroke="#3b2c0d"/><polyline points="1386.3,1240.5 1391.3,1246.1" stroke="#36280b"/><polyline points="1390.1,1244.7 1396.6,1252.7" stroke="#312309"/><polyline points="1395.6,1251.3 1400.0,1257.2" stroke="#2c2007"/><polyline points="1398.9,1255.7 1407.9,1269.4 1416.0,1285.0 1422.7,1301.1 1428.7,1319.8 1433.3,1338.6 1437.2,1359.6 1440.1,1382.2 1442.4,1407.9" stroke="#4b3f23"/><polyline points="1012.4,1410.2 1049.8,1394.8 1071.8,1385.2 1091.2,1375.7 1108.0,1366.4 1123.7,1356.2 1136.6,1346.2 1148.3,1335.3 1158.6,1323.4" stroke="#d9b963"/><polyline points="1157.7,1324.5 1160.0,1321.5" stroke="#dfc479"/><polyline points="1159.1,1322.7 1163.9,1315.9" stroke="#bb9f53"/><polyline points="1163.1,1317.1 1166.4,1312.0" stroke="#c1a863"/><polyline points="1165.6,1313.3 1167.5,1310.1" stroke="#c7b174"/><polyline points="1166.8,1311.3 1168.7,1308.1" stroke="#ccba83"/><polyline points="1168.0,1309.4 1169.8,1306.1" stroke="#cdbb88"/><polyline points="1169.1,1307.4 1170.9,1304.0" stroke="#d3c499"/><polyline points="1170.2,1305.3 1171.9,1301.9" stroke="#b7aa85"/><polyline points="1171.3,1303.3 1174.0,1297.7" stroke="#b9ad8b"/><polyline points="1173.4,1299.0 1176.1,1293.3" stroke="#bbb091"/><polyline points="1175.4,1294.7 1177.1,1291.0" stroke="#bdb294"/><polyline points="1176.4,1292.4 1180.1,1284.2" stroke="#9f9374"/><polyline points="1179.5,1285.6 1181.1,1281.9" stroke="#a29677"/><polyline points="1180.5,1283.3 1183.2,1277.2" stroke="#867856"/><polyline points="1182.6,1278.7 1185.4,1272.4" stroke="#8a7b58"/><polyline points="1184.7,1273.9 1187.6,1267.6" stroke="#726039"/><polyline points="1186.9,1269.2 1188.8,1265.2" stroke="#76643a"/><polyline points="1188.0,1266.8 1191.2,1260.4" stroke="#5f4a1c"/><polyline points="1190.4,1261.9 1193.8,1255.6" stroke="#66501f"/><polyline points="1193.0,1257.1 1196.6,1250.8" stroke="#6d5622"/><polyline points="1195.7,1252.3 1199.7,1246.1" stroke="#755c25"/><polyline points="1198.7,1247.6 1202.9,1241.5" stroke="#7c6229"/><polyline points="1201.8,1242.9 1206.3,1237.0" stroke="#83682c"/><polyline points="1205.2,1238.4 1209.9,1232.6" stroke="#8a6e30"/><polyline points="1208.8,1234.0 1211.8,1230.5" stroke="#8f7332"/><polyline points="1210.6,1231.9 1215.7,1226.4" stroke="#a0833d"/><polyline points="1214.5,1227.7 1219.9,1222.4" stroke="#a68740"/><polyline points="1218.5,1223.7 1224.2,1218.7" stroke="#ab8c42"/><polyline points="1222.8,1219.8 1231.2,1213.4" stroke="#b99a4c"/><polyline points="1229.7,1214.5 1238.7,1208.7" stroke="#bf9e4e"/><polyline points="1237.1,1209.7 1241.3,1207.3" stroke="#c2a150"/><polyline points="1239.6,1208.2 1248.2,1204.0 1257.9,1200.7" stroke="#cbab57"/><polyline points="1256.1,1201.2 1265.4,1198.8 1274.2,1197.4 1285.3,1196.8 1295.5,1197.3" stroke="#cead58"/><polyline points="1293.7,1197.2 1304.0,1198.4" stroke="#c2a150"/><polyline points="1302.2,1198.1 1309.6,1199.4" stroke="#be9d4e"/><polyline points="1307.9,1199.1 1312.4,1200.0" stroke="#ba9b4d"/><polyline points="1310.6,1199.6 1317.9,1201.4" stroke="#ae8f44"/><polyline points="1316.1,1201.0 1323.2,1203.0" stroke="#a88941"/><polyline points="1321.6,1202.5 1325.9,1203.9" stroke="#a3853e"/><polyline points="1324.2,1203.4 1328.6,1204.9" stroke="#947734"/><polyline points="1326.9,1204.3 1331.2,1205.8" stroke="#907332"/><polyline points="1329.5,1205.2 1333.8,1206.9" stroke="#8c7030"/><polyline points="1332.1,1206.2 1336.3,1208.0" stroke="#886c2e"/><polyline points="1334.7,1207.3 1338.9,1209.1" stroke="#83692c"/><polyline points="1337.3,1208.4 1341.4,1210.3" stroke="#7f652a"/><polyline points="1339.8,1209.5 1343.9,1211.5" stroke="#7b6128"/><polyline points="1342.4,1210.7 1346.4,1212.8" stroke="#775e26"/><polyline points="1344.8,1212.0 1348.9,1214.1" stroke="#725a24"/><polyline points="1347.3,1213.3 1351.3,1215.5" stroke="#6e5622"/><polyline points="1349.8,1214.6 1353.7,1216.9" stroke="#6a5320"/><polyline points="1352.2,1216.0 1356.1,1218.3" stroke="#664f1e"/><polyline points="1354.6,1217.4 1360.7,1221.4" stroke="#7a6637"/><polyline points="1359.3,1220.4 1363.0,1222.9" stroke="#756135"/><polyline points="1361.6,1221.9 1367.5,1226.2" stroke="#8b7a4e"/><polyline points="1366.1,1225.2 1374.1,1231.5" stroke="#a29268"/><polyline points="1372.7,1230.3 1382.3,1239.1" stroke="#bbac81"/><polyline points="1381.0,1237.8 1388.1,1245.2" stroke="#d7ca9c"/><polyline points="1386.9,1243.8 1398.0,1257.5 1408.5,1274.1 1417.0,1291.7 1423.8,1309.9 1429.7,1330.7 1434.4,1353.6 1437.9,1378.4 1440.6,1408.0" stroke="#f7e9b8"/><polyline points="1013.1,1411.9 1054.2,1394.9 1079.7,1383.5 1102.3,1371.8 1121.6,1359.9 1137.8,1347.6 1145.8,1340.3 1152.1,1333.9 1159.0,1325.8 1164.3,1318.5 1169.2,1310.9 1173.6,1302.8" stroke="#daba65"/><polyline points="1172.9,1304.1 1174.6,1300.6" stroke="#dec170"/><polyline points="1173.9,1302.0 1175.7,1298.4" stroke="#e3c97e"/><polyline points="1175.0,1299.8 1176.7,1296.2" stroke="#e8d18c"/><polyline points="1176.0,1297.6 1177.7,1294.0" stroke="#edd99b"/><polyline points="1177.1,1295.4 1178.7,1291.8" stroke="#f3e2ab"/><polyline points="1178.1,1293.2 1179.8,1289.5" stroke="#f8eabc"/><polyline points="1179.1,1290.9 1181.8,1284.9" stroke="#f9edc2"/><polyline points="1181.1,1286.4 1183.8,1280.3" stroke="#faefc9"/><polyline points="1183.2,1281.7 1187.0,1273.2" stroke="#fbf1ce"/><polyline points="1186.3,1274.7 1194.1,1258.9" stroke="#fcf3d3"/><polyline points="1193.3,1260.4 1195.4,1256.5" stroke="#fcf4d6"/><polyline points="1194.6,1258.0 1199.7,1249.4" stroke="#e3d9b7"/><polyline points="1198.7,1250.9 1204.4,1242.5" stroke="#cec099"/><polyline points="1203.3,1244.0 1209.5,1236.0" stroke="#bcaa7d"/><polyline points="1208.4,1237.3 1211.3,1233.8" stroke="#bfad7f"/><polyline points="1210.1,1235.2 1215.1,1229.7" stroke="#ae9863"/><polyline points="1213.8,1231.0 1219.0,1225.7" stroke="#b29c65"/><polyline points="1217.8,1226.9 1223.2,1221.9" stroke="#a48a4b"/><polyline points="1221.9,1223.1 1227.6,1218.3" stroke="#a98e4d"/><polyline points="1226.2,1219.4 1232.2,1214.9" stroke="#9d7e35"/><polyline points="1230.7,1216.0 1237.1,1211.8" stroke="#a38237"/><polyline points="1235.5,1212.7 1242.1,1208.9" stroke="#a78639"/><polyline points="1240.5,1209.8 1250.1,1205.3" stroke="#ac8a3c"/><polyline points="1248.4,1206.0 1261.2,1201.6" stroke="#b28f3e"/><polyline points="1259.4,1202.1 1265.8,1200.6 1274.4,1199.3 1289.7,1198.7" stroke="#b49140"/><polyline points="1287.9,1198.7 1295.3,1199.1" stroke="#ae8c3d"/><polyline points="1293.6,1199.0 1301.0,1199.8" stroke="#aa883b"/><polyline points="1299.2,1199.5 1306.5,1200.7" stroke="#a58438"/><polyline points="1304.8,1200.3 1312.0,1201.8" stroke="#9f7f35"/><polyline points="1310.2,1201.4 1317.4,1203.2" stroke="#aa8e4c"/><polyline points="1315.7,1202.7 1320.0,1203.9" stroke="#a58a4a"/><polyline points="1318.4,1203.4 1325.3,1205.6" stroke="#b39b62"/><polyline points="1323.7,1205.1 1327.9,1206.6" stroke="#af985f"/><polyline points="1326.3,1206.0 1333.1,1208.6" stroke="#bfab78"/><polyline points="1331.5,1207.9 1335.6,1209.6" stroke="#bca976"/><polyline points="1334.0,1209.0 1343.1,1213.1" stroke="#cebd8e"/><polyline points="1341.6,1212.4 1348.0,1215.7" stroke="#e1d3a7"/><polyline points="1346.5,1214.9 1356.5,1220.7 1365.7,1227.1 1376.0,1235.6 1384.0,1243.4 1391.2,1251.6 1399.0,1262.1 1405.8,1273.1 1411.8,1284.6 1417.0,1296.4 1421.4,1308.5 1425.8,1322.8 1429.3,1337.3 1432.6,1353.9 1435.1,1370.4 1438.8,1408.1" stroke="#f8ebbe"/><polyline points="1013.8,1413.6 1058.6,1395.0 1085.9,1382.5 1109.9,1369.5 1128.8,1357.0 1137.5,1350.2 1145.8,1342.9 1153.4,1335.2 1160.5,1326.9 1166.8,1318.1 1171.6,1310.2 1181.4,1290.2" stroke="#dbbc67"/><polyline points="1180.8,1291.7 1182.4,1287.9" stroke="#dfc271"/><polyline points="1181.8,1289.4 1183.4,1285.6" stroke="#e8d08a"/><polyline points="1182.8,1287.1 1184.5,1283.3" stroke="#edd898"/><polyline points="1183.8,1284.8 1185.5,1281.0" stroke="#f2e0a7"/><polyline points="1184.8,1282.5 1187.6,1276.3" stroke="#f7e9b8"/><polyline points="1186.9,1277.8 1189.8,1271.6" stroke="#f8ebbe"/><polyline points="1189.1,1273.1 1193.2,1264.5" stroke="#f9edc4"/><polyline points="1192.5,1266.0 1198.4,1255.0" stroke="#faefc9"/><polyline points="1197.5,1256.5 1207.4,1241.5 1217.5,1229.7 1229.0,1219.5 1240.5,1211.9" stroke="#faf0ce"/><polyline points="1238.9,1212.8 1249.6,1207.4 1258.9,1204.1" stroke="#ecdeb3"/><polyline points="1257.2,1204.7 1270.3,1201.6 1284.0,1200.5" stroke="#dfcd9a"/><polyline points="1282.3,1200.5 1291.8,1200.7 1300.7,1201.6" stroke="#ecddb2"/><polyline points="1299.0,1201.3 1311.0,1203.4 1322.1,1206.5" stroke="#f9eec8"/><polyline points="1320.5,1206.0 1336.0,1211.8 1351.8,1220.0" stroke="#f8edc3"/><polyline points="1350.4,1219.1 1361.0,1226.0 1369.8,1232.6 1378.0,1240.0 1385.6,1247.8 1392.5,1256.2 1399.8,1266.7 1405.3,1275.9 1411.0,1287.3 1416.0,1299.0 1420.3,1311.1 1424.6,1325.3 1428.0,1339.8 1430.8,1354.2 1433.3,1370.7 1437.0,1408.3" stroke="#f8edc2"/><polyline points="1014.5,1415.2 1059.3,1396.7 1086.7,1384.1 1110.8,1371.1 1122.1,1363.9 1131.4,1357.4 1140.1,1350.4 1148.4,1343.0 1156.0,1335.0 1163.0,1326.6 1168.4,1319.1 1173.2,1311.1 1178.5,1300.9 1184.1,1288.7" stroke="#dcbe69"/><polyline points="1183.4,1290.1 1187.2,1281.7" stroke="#dbbc66"/><polyline points="1186.5,1283.2 1188.2,1279.4" stroke="#e0c371"/><polyline points="1187.5,1280.9 1189.3,1277.0" stroke="#e4c97d"/><polyline points="1188.6,1278.5 1190.3,1274.7" stroke="#e9d18a"/><polyline points="1189.6,1276.2 1191.4,1272.3" stroke="#f1dea3"/><polyline points="1190.7,1273.8 1193.7,1267.6" stroke="#f6e7b3"/><polyline points="1193.0,1269.1 1196.1,1262.9" stroke="#f7e9b8"/><polyline points="1195.3,1264.4 1199.9,1256.0" stroke="#f8eabd"/><polyline points="1199.1,1257.4 1205.7,1246.9" stroke="#f9ecc2"/><polyline points="1204.8,1248.3 1213.0,1237.5 1221.9,1228.0 1231.9,1219.7 1242.7,1212.8 1252.3,1208.3 1264.4,1204.6 1274.8,1202.9 1287.4,1202.3 1300.1,1203.3 1314.8,1206.2 1327.2,1210.2 1341.2,1216.2 1354.5,1223.8 1367.0,1232.7 1378.3,1242.8 1387.5,1252.9" stroke="#f9edc6"/><polyline points="1386.4,1251.6 1397.1,1265.9 1405.7,1280.5 1413.6,1297.7 1419.9,1315.7 1425.3,1336.0 1429.3,1356.6 1432.7,1381.0 1435.2,1408.4" stroke="#faf0ca"/><polyline points="1015.2,1416.9 1058.2,1399.1 1085.7,1386.7 1110.1,1373.7 1129.4,1361.1 1138.4,1354.2 1146.9,1346.8 1154.8,1339.0 1161.0,1332.0 1167.8,1323.2 1172.9,1315.3 1177.6,1306.9 1182.7,1296.3" stroke="#dec06b"/><polyline points="1182.0,1297.7 1194.2,1270.8" stroke="#dcbd67"/><polyline points="1193.5,1272.3 1195.3,1268.4" stroke="#e5ca7d"/><polyline points="1194.6,1269.9 1196.5,1266.1" stroke="#e9d189"/><polyline points="1195.7,1267.6 1197.7,1263.8" stroke="#f1dea1"/><polyline points="1196.9,1265.3 1200.2,1259.2" stroke="#f6e5b0"/><polyline points="1199.4,1260.6 1204.3,1252.3" stroke="#f7e7b5"/><polyline points="1203.4,1253.8 1210.4,1243.6" stroke="#f8e9bb"/><polyline points="1209.3,1245.0 1215.8,1237.0 1222.8,1229.7" stroke="#f8ebc0"/><polyline points="1221.6,1230.8 1229.6,1223.7 1236.4,1218.7 1243.5,1214.4 1251.0,1210.8 1258.8,1207.9 1266.8,1205.9 1275.0,1204.7 1285.3,1204.1 1293.6,1204.4 1304.0,1205.7 1314.4,1208.0 1324.6,1211.1 1334.5,1215.1 1344.2,1219.9 1353.5,1225.3 1361.0,1230.4" stroke="#f9ecc3"/><polyline points="1359.7,1229.5 1367.5,1235.5 1375.3,1242.4" stroke="#f9efc8"/><polyline points="1374.0,1241.2 1381.5,1248.7 1387.8,1256.1" stroke="#faf0cd"/><polyline points="1386.7,1254.8 1396.8,1268.7 1405.0,1283.2 1412.7,1300.4 1418.8,1318.2 1424.0,1338.5 1427.9,1358.9 1430.9,1381.2 1433.4,1408.5" stroke="#fbf2d0"/><polyline points="1015.9,1418.6 1058.9,1400.8 1086.5,1388.3 1109.3,1376.2 1128.9,1363.7 1138.1,1356.8 1146.7,1349.4 1154.9,1341.6 1161.2,1334.6 1168.2,1325.7 1173.5,1317.9 1178.3,1309.5 1183.3,1299.3" stroke="#dfc26e"/><polyline points="1182.6,1300.7 1194.6,1274.2 1200.5,1262.3" stroke="#ddbe69"/><polyline points="1199.7,1263.8 1201.8,1260.1" stroke="#e5ca7d"/><polyline points="1201.0,1261.5 1203.1,1257.8" stroke="#e9d189"/><polyline points="1202.2,1259.2 1204.4,1255.5" stroke="#f1dda0"/><polyline points="1203.5,1257.0 1208.7,1249.0" stroke="#f6e5af"/><polyline points="1207.8,1250.3 1213.4,1242.6" stroke="#f6e7b4"/><polyline points="1212.4,1244.0 1222.2,1232.8" stroke="#f7e8b9"/><polyline points="1221.0,1234.0 1230.7,1225.1 1240.8,1218.0 1251.7,1212.4 1263.0,1208.7" stroke="#f8eabe"/><polyline points="1261.4,1209.1 1271.2,1207.0 1281.2,1206.0 1291.4,1206.1 1301.7,1207.2 1311.9,1209.2 1323.9,1212.9 1333.8,1216.8 1344.5,1222.1" stroke="#f8ebc0"/><polyline points="1343.0,1221.3 1357.8,1230.4" stroke="#f9edc5"/><polyline points="1356.5,1229.4 1368.2,1238.4" stroke="#faefca"/><polyline points="1366.9,1237.3 1377.7,1247.4" stroke="#fbf1ce"/><polyline points="1376.6,1246.2 1388.0,1259.3" stroke="#fbf2d3"/><polyline points="1387.0,1258.0 1396.3,1271.4 1404.3,1285.8 1411.0,1301.0 1417.0,1318.7 1422.2,1338.9 1426.1,1359.2 1429.1,1381.4 1431.5,1408.7" stroke="#fcf4d6"/><polyline points="1016.6,1420.3 1059.6,1402.5 1087.3,1389.9 1110.2,1377.8 1130.0,1365.1 1139.2,1358.2 1148.0,1350.8 1156.2,1342.9 1162.6,1335.8 1168.5,1328.4 1174.0,1320.5 1178.9,1312.1 1183.9,1302.3" stroke="#e1c370"/><polyline points="1183.2,1303.8 1193.2,1281.6" stroke="#dec06c"/><polyline points="1192.5,1283.1 1199.9,1267.4 1207.3,1254.3" stroke="#ddbe68"/><polyline points="1206.5,1255.7 1208.7,1252.1" stroke="#e6cb7e"/><polyline points="1207.8,1253.5 1210.2,1250.0" stroke="#ead189"/><polyline points="1209.3,1251.3 1211.7,1247.9" stroke="#f1dda0"/><polyline points="1210.7,1249.2 1216.5,1241.8" stroke="#f5e4ad"/><polyline points="1215.4,1243.0 1223.5,1234.1" stroke="#f6e6b2"/><polyline points="1222.3,1235.3 1230.3,1227.8 1237.4,1222.4" stroke="#f7e7b7"/><polyline points="1236.0,1223.4 1243.5,1218.5 1252.4,1214.1 1261.8,1210.9 1271.4,1208.8 1281.3,1207.8 1293.3,1208.1 1303.4,1209.3 1314.9,1211.9" stroke="#f7e9bb"/><polyline points="1313.4,1211.5 1323.3,1214.6 1334.4,1219.0" stroke="#f8eabe"/><polyline points="1332.9,1218.4 1345.9,1224.9" stroke="#f9ecc3"/><polyline points="1344.4,1224.1 1354.6,1230.4" stroke="#f9eec7"/><polyline points="1353.3,1229.5 1363.0,1236.5" stroke="#faefcb"/><polyline points="1361.7,1235.5 1370.9,1243.2" stroke="#fbf1cf"/><polyline points="1369.7,1242.1 1378.2,1250.5" stroke="#fcf3d4"/><polyline points="1377.1,1249.3 1386.5,1260.4" stroke="#fcf4d8"/><polyline points="1385.5,1259.1 1394.8,1272.3 1402.7,1286.6 1409.3,1301.7 1415.3,1319.2 1420.5,1339.3 1424.3,1359.5 1427.3,1381.6 1429.7,1408.8" stroke="#fdf6dc"/><polyline points="1017.2,1422.0 1060.3,1404.2 1086.3,1392.4 1109.4,1380.3 1129.4,1367.8 1138.8,1360.8 1147.7,1353.4 1156.1,1345.5 1162.7,1338.4 1168.8,1331.0 1174.4,1323.1 1179.6,1314.7 1184.4,1305.4" stroke="#e2c573"/><polyline points="1183.7,1306.8 1192.8,1287.0" stroke="#dfc26e"/><polyline points="1192.1,1288.5 1203.5,1264.5 1208.7,1255.5 1214.7,1246.9" stroke="#ddbf69"/><polyline points="1213.7,1248.2 1216.3,1244.9" stroke="#e6cc7e"/><polyline points="1215.3,1246.2 1217.9,1242.9" stroke="#ead289"/><polyline points="1216.9,1244.2 1219.5,1241.0" stroke="#f1dd9f"/><polyline points="1218.5,1242.2 1226.6,1233.6" stroke="#f5e3ac"/><polyline points="1225.4,1234.7 1231.5,1229.2 1238.4,1223.9" stroke="#f6e5b1"/><polyline points="1237.1,1224.8 1242.7,1221.1 1249.6,1217.4 1256.8,1214.4 1264.1,1212.1 1271.7,1210.6 1279.4,1209.8 1287.3,1209.6 1296.9,1210.2" stroke="#f7e7b6"/><polyline points="1295.3,1210.1 1307.1,1211.9 1319.3,1215.1" stroke="#f7e8b9"/><polyline points="1317.8,1214.7 1333.6,1220.7" stroke="#f8eabe"/><polyline points="1332.1,1220.0 1342.7,1225.3" stroke="#f9ecc2"/><polyline points="1341.3,1224.5 1351.5,1230.5" stroke="#f9edc7"/><polyline points="1350.1,1229.6 1357.8,1234.8" stroke="#faefcb"/><polyline points="1356.5,1233.9 1363.9,1239.5" stroke="#fbf1cf"/><polyline points="1362.6,1238.5 1369.6,1244.5" stroke="#fcf2d4"/><polyline points="1368.4,1243.5 1376.9,1251.7" stroke="#fcf4d8"/><polyline points="1375.8,1250.6 1383.5,1259.5" stroke="#fdf6dd"/><polyline points="1382.5,1258.2 1392.2,1271.6 1400.1,1285.6 1407.6,1302.3 1413.5,1319.8 1418.7,1339.7 1422.5,1359.8 1425.5,1381.8 1427.9,1408.9" stroke="#fef8e2"/><polyline points="1017.9,1423.6 1057.3,1407.4 1079.7,1397.6 1101.5,1386.8 1118.9,1376.8 1135.3,1365.8 1150.4,1353.5 1162.8,1341.1 1173.2,1328.1" stroke="#f7edcc"/><polyline points="1172.2,1329.4 1178.8,1319.6" stroke="#f3e6bb"/><polyline points="1177.9,1321.0 1182.6,1313.0" stroke="#efdea9"/><polyline points="1181.8,1314.4 1184.9,1308.5" stroke="#ead596"/><polyline points="1184.2,1309.9 1187.2,1303.9" stroke="#e6cd84"/><polyline points="1186.5,1305.4 1194.5,1287.7" stroke="#e0c370"/><polyline points="1193.8,1289.2 1203.0,1269.4" stroke="#debf6b"/><polyline points="1202.2,1270.8 1211.4,1254.8 1217.3,1246.5 1222.6,1240.3" stroke="#ddbe68"/><polyline points="1221.5,1241.5 1224.3,1238.5" stroke="#e7cc7e"/><polyline points="1223.2,1239.6 1226.0,1236.7" stroke="#ead289"/><polyline points="1224.9,1237.8 1227.8,1234.9" stroke="#eed794"/><polyline points="1226.7,1236.0 1237.4,1226.8" stroke="#f5e3ab"/><polyline points="1236.1,1227.8 1247.0,1220.8 1253.9,1217.5 1259.5,1215.4" stroke="#f6e4b0"/><polyline points="1258.0,1215.9 1270.1,1212.7 1281.5,1211.5 1293.1,1211.7 1306.6,1213.6" stroke="#f6e6b3"/><polyline points="1305.1,1213.3 1321.2,1217.7" stroke="#f7e8b8"/><polyline points="1319.7,1217.2 1330.6,1221.3" stroke="#f8e9bc"/><polyline points="1329.1,1220.7 1339.6,1225.7" stroke="#f8ebc1"/><polyline points="1338.2,1224.9 1346.2,1229.4" stroke="#f9edc6"/><polyline points="1344.9,1228.6 1352.6,1233.4" stroke="#faefca"/><polyline points="1351.3,1232.5 1358.7,1237.8" stroke="#fbf0cf"/><polyline points="1357.5,1236.9 1364.6,1242.5" stroke="#fcf2d4"/><polyline points="1363.4,1241.5 1366.5,1244.2" stroke="#fcf4d7"/><polyline points="1365.3,1243.2 1372.0,1249.4" stroke="#f7ecc7"/><polyline points="1370.9,1248.3 1378.9,1256.7" stroke="#f1e2b5"/><polyline points="1377.9,1255.5 1380.5,1258.7" stroke="#f5e9c3"/><polyline points="1379.5,1257.4 1382.1,1260.6" stroke="#f3e6be"/><polyline points="1381.1,1259.4 1383.7,1262.6" stroke="#f3e5b9"/><polyline points="1382.7,1261.3 1385.2,1264.6" stroke="#d1c39b"/><polyline points="1384.2,1263.3 1386.6,1266.7" stroke="#d6ccac"/><polyline points="1385.7,1265.4 1388.1,1268.7" stroke="#d5caa8"/><polyline points="1387.2,1267.4 1389.5,1270.8" stroke="#b4aa8d"/><polyline points="1388.6,1269.5 1390.9,1272.9" stroke="#ad9e75"/><polyline points="1390.0,1271.6 1397.6,1284.7 1403.6,1297.4 1409.3,1312.5 1414.0,1328.1 1418.2,1346.0 1421.3,1364.1 1424.1,1385.9 1426.1,1409.1" stroke="#b2a787"/><polyline points="1018.6,1425.3 1061.8,1407.5 1089.7,1394.8 1114.7,1381.5 1134.7,1368.4 1144.1,1361.2 1153.1,1353.5 1161.5,1345.2 1168.0,1337.8 1174.1,1330.0 1179.6,1321.7 1184.7,1312.9 1189.9,1302.4" stroke="#fbf6e0"/><polyline points="1189.2,1303.8 1192.0,1297.7" stroke="#f6edcc"/><polyline points="1191.3,1299.2 1194.1,1293.1" stroke="#f2e4b9"/><polyline points="1193.4,1294.6 1195.1,1290.8" stroke="#eddca6"/><polyline points="1194.4,1292.2 1196.1,1288.5" stroke="#e9d394"/><polyline points="1195.5,1289.9 1198.2,1283.8" stroke="#e4ca80"/><polyline points="1197.5,1285.3 1205.7,1268.0" stroke="#debf6b"/><polyline points="1205.0,1269.4 1210.7,1259.2 1216.3,1250.8 1223.9,1241.5 1230.9,1234.5" stroke="#ddbe68"/><polyline points="1229.7,1235.6 1232.7,1232.9" stroke="#e4c774"/><polyline points="1231.6,1233.9 1234.6,1231.3" stroke="#e7cd7f"/><polyline points="1233.4,1232.3 1236.5,1229.8" stroke="#eed793"/><polyline points="1235.3,1230.8 1238.5,1228.3" stroke="#f1dc9e"/><polyline points="1237.2,1229.2 1244.6,1224.2 1253.3,1219.7" stroke="#f5e2aa"/><polyline points="1251.9,1220.3 1261.5,1216.6 1272.3,1214.2 1283.4,1213.2 1296.5,1213.9" stroke="#f5e4ae"/><polyline points="1295.0,1213.7 1302.5,1214.7 1311.1,1216.6" stroke="#f6e5b2"/><polyline points="1309.6,1216.2 1320.6,1219.4" stroke="#f7e7b6"/><polyline points="1319.1,1218.9 1329.8,1223.0" stroke="#f8e9bb"/><polyline points="1328.4,1222.4 1336.6,1226.1" stroke="#f8eac0"/><polyline points="1335.2,1225.4 1341.0,1228.5" stroke="#f9ecc4"/><polyline points="1339.6,1227.7 1345.3,1230.9" stroke="#f5e6b8"/><polyline points="1343.9,1230.1 1349.5,1233.6" stroke="#f1dfaa"/><polyline points="1348.2,1232.7 1353.6,1236.3" stroke="#ecd79b"/><polyline points="1352.3,1235.4 1357.6,1239.3" stroke="#e6ce8a"/><polyline points="1356.4,1238.3 1363.5,1243.9" stroke="#dec375"/><polyline points="1362.3,1242.9 1365.3,1245.6" stroke="#e2c982"/><polyline points="1364.2,1244.5 1367.2,1247.2" stroke="#c8b275"/><polyline points="1366.0,1246.2 1369.0,1248.9" stroke="#ae9b68"/><polyline points="1367.8,1247.8 1370.8,1250.7" stroke="#b2a275"/><polyline points="1369.6,1249.6 1372.5,1252.4" stroke="#918054"/><polyline points="1371.4,1251.3 1374.2,1254.2" stroke="#776948"/><polyline points="1373.1,1253.1 1375.9,1256.1" stroke="#756642"/><polyline points="1374.8,1254.9 1379.1,1259.8" stroke="#544424"/><polyline points="1378.1,1258.6 1383.7,1265.7" stroke="#322408"/><polyline points="1382.8,1264.4 1391.2,1276.9 1398.7,1290.8 1404.9,1305.5 1410.6,1322.7 1415.6,1342.4 1419.2,1362.4 1422.1,1384.2 1424.3,1409.2" stroke="#4b3a16"/><polyline points="1019.3,1427.0 1066.3,1407.6 1094.1,1394.6 1119.1,1381.0 1139.0,1367.6 1148.4,1360.1 1157.2,1352.1 1165.5,1343.5 1171.9,1335.9 1179.0,1326.1 1184.3,1317.4 1194.7,1296.2" stroke="#fdf8e5"/><polyline points="1194.0,1297.6 1200.9,1282.3" stroke="#fbf6e0"/><polyline points="1200.2,1283.7 1201.9,1280.0" stroke="#f6edcc"/><polyline points="1201.2,1281.5 1202.9,1277.8" stroke="#f1e4b8"/><polyline points="1202.3,1279.2 1205.1,1273.3" stroke="#ecdaa4"/><polyline points="1204.4,1274.7 1206.2,1271.0" stroke="#e7d190"/><polyline points="1205.5,1272.4 1207.3,1268.8" stroke="#e2c77d"/><polyline points="1206.6,1270.2 1213.3,1258.4 1221.4,1247.2 1230.7,1237.2 1239.6,1229.8" stroke="#dcbd67"/><polyline points="1238.3,1230.7 1241.5,1228.4" stroke="#e0c26a"/><polyline points="1240.3,1229.3 1243.5,1227.1" stroke="#e4c774"/><polyline points="1242.3,1227.9 1245.5,1225.8" stroke="#e8cd7f"/><polyline points="1244.3,1226.6 1247.6,1224.6" stroke="#ebd289"/><polyline points="1246.3,1225.3 1249.7,1223.4" stroke="#eed793"/><polyline points="1248.4,1224.1 1254.0,1221.4" stroke="#f1dc9e"/><polyline points="1252.6,1222.0 1262.0,1218.4 1272.6,1216.0 1283.5,1215.0 1293.9,1215.4" stroke="#f5e2a9"/><polyline points="1292.4,1215.3 1305.9,1217.2" stroke="#f5e3ae"/><polyline points="1304.4,1216.9 1313.0,1218.9" stroke="#f6e5b1"/><polyline points="1311.5,1218.5 1317.7,1220.3" stroke="#f3e0a8"/><polyline points="1316.2,1219.9 1322.3,1221.9" stroke="#f0db9e"/><polyline points="1320.8,1221.4 1326.9,1223.7" stroke="#ecd592"/><polyline points="1325.4,1223.1 1331.4,1225.7" stroke="#e7ce85"/><polyline points="1329.9,1225.0 1335.8,1227.8" stroke="#e2c777"/><polyline points="1334.4,1227.1 1342.2,1231.2" stroke="#dcbd66"/><polyline points="1340.9,1230.5 1346.5,1233.8" stroke="#d9b962"/><polyline points="1345.1,1233.0 1348.5,1235.1" stroke="#ddc275"/><polyline points="1347.2,1234.2 1350.6,1236.4" stroke="#e2ca85"/><polyline points="1349.3,1235.6 1352.6,1237.8" stroke="#cbb578"/><polyline points="1351.3,1236.9 1354.6,1239.3" stroke="#ad9556"/><polyline points="1353.3,1238.3 1356.5,1240.7" stroke="#968049"/><polyline points="1355.3,1239.8 1358.5,1242.2" stroke="#7e6a3c"/><polyline points="1357.3,1241.3 1360.4,1243.7" stroke="#82714a"/><polyline points="1359.2,1242.8 1362.3,1245.3" stroke="#63522b"/><polyline points="1361.1,1244.3 1365.9,1248.6" stroke="#44320f"/><polyline points="1364.8,1247.5 1367.7,1250.2" stroke="#5a461c"/><polyline points="1366.6,1249.2 1369.5,1251.9" stroke="#715c29"/><polyline points="1368.4,1250.9 1372.9,1255.5" stroke="#897236"/><polyline points="1371.8,1254.3 1376.1,1259.1" stroke="#a28844"/><polyline points="1375.1,1257.9 1379.3,1262.9" stroke="#bb9f52"/><polyline points="1378.3,1261.7 1387.6,1274.5 1395.3,1288.1 1402.5,1304.3 1408.3,1321.3 1413.3,1340.8 1417.1,1360.7 1420.0,1382.4 1422.5,1409.3" stroke="#d5b761"/><polyline points="1020.0,1428.7 1067.0,1409.2 1096.8,1395.4 1109.4,1388.7 1121.7,1381.5 1133.6,1373.7 1143.3,1366.6 1152.6,1358.9 1161.3,1350.6 1169.5,1341.7 1177.0,1332.1 1182.7,1323.6 1187.9,1314.6 1199.4,1289.9" stroke="#fefae9"/><polyline points="1198.8,1291.4 1206.7,1274.1" stroke="#fdf8e4"/><polyline points="1206.0,1275.5 1210.1,1267.5" stroke="#fbf6e1"/><polyline points="1209.4,1268.9 1211.3,1265.4" stroke="#f6eccc"/><polyline points="1210.5,1266.8 1213.7,1261.2" stroke="#f0e2b7"/><polyline points="1212.9,1262.5 1215.0,1259.2" stroke="#ebd8a2"/><polyline points="1214.2,1260.5 1216.3,1257.2" stroke="#e5ce8e"/><polyline points="1215.5,1258.5 1217.7,1255.2" stroke="#e0c479"/><polyline points="1216.8,1256.5 1222.8,1248.3 1229.2,1241.2 1236.1,1234.8 1244.5,1228.6" stroke="#dbbb64"/><polyline points="1243.3,1229.4 1249.6,1225.5 1256.9,1222.1" stroke="#dfc169"/><polyline points="1255.5,1222.7 1261.2,1220.5" stroke="#e5c875"/><polyline points="1259.8,1221.0 1265.7,1219.2" stroke="#e8cd7f"/><polyline points="1264.3,1219.6 1276.4,1217.3 1289.0,1216.9" stroke="#ebd289"/><polyline points="1287.5,1216.9 1298.5,1217.8" stroke="#e8cd80"/><polyline points="1297.0,1217.6 1305.5,1219.0" stroke="#e4c875"/><polyline points="1304.0,1218.7 1319.4,1222.8" stroke="#dfc068"/><polyline points="1318.0,1222.3 1328.4,1226.3" stroke="#dbbb64"/><polyline points="1327.0,1225.7 1332.8,1228.3" stroke="#d7b760"/><polyline points="1331.4,1227.7 1335.0,1229.4" stroke="#dcc074"/><polyline points="1333.6,1228.7 1337.1,1230.5" stroke="#e1c985"/><polyline points="1335.7,1229.8 1339.2,1231.6" stroke="#ceb779"/><polyline points="1337.9,1230.9 1341.3,1232.8" stroke="#baa46d"/><polyline points="1340.0,1232.1 1343.4,1234.0" stroke="#a59161"/><polyline points="1342.1,1233.3 1345.5,1235.3" stroke="#8f7e55"/><polyline points="1344.2,1234.5 1347.5,1236.6" stroke="#735f34"/><polyline points="1346.2,1235.8 1349.6,1237.9" stroke="#564216"/><polyline points="1348.3,1237.1 1351.5,1239.3" stroke="#6a5321"/><polyline points="1350.3,1238.4 1355.4,1242.2" stroke="#7d652d"/><polyline points="1354.2,1241.2 1357.4,1243.6" stroke="#917839"/><polyline points="1356.2,1242.7 1359.2,1245.2" stroke="#a78c46"/><polyline points="1358.1,1244.2 1361.1,1246.7" stroke="#bda153"/><polyline points="1359.9,1245.7 1366.7,1251.8 1373.4,1258.7 1383.9,1272.3 1389.0,1280.4 1393.7,1288.9 1397.8,1297.7 1402.2,1308.7 1408.7,1329.5 1413.9,1353.0 1417.8,1378.7 1420.7,1409.5" stroke="#d4b55f"/><polyline points="1020.7,1430.4 1062.0,1413.3 1088.4,1401.5 1110.3,1390.3 1129.6,1378.6 1147.6,1365.5 1162.6,1351.9 1169.5,1344.4 1176.0,1336.5 1186.4,1321.1" stroke="#291d06"/><polyline points="1185.5,1322.6 1187.7,1318.8" stroke="#2d2007"/><polyline points="1186.9,1320.3 1192.6,1309.4" stroke="#52472e"/><polyline points="1191.9,1310.9 1193.7,1307.0" stroke="#55492f"/><polyline points="1193.0,1308.5 1198.0,1297.6" stroke="#7a6f56"/><polyline points="1197.4,1299.1 1201.1,1290.7" stroke="#9f957c"/><polyline points="1200.5,1292.1 1204.2,1283.8" stroke="#c1b9a1"/><polyline points="1203.5,1285.2 1207.3,1277.1" stroke="#e0dac6"/><polyline points="1206.6,1278.5 1215.3,1262.2" stroke="#fefae7"/><polyline points="1214.5,1263.5 1220.5,1254.3" stroke="#fcf8e3"/><polyline points="1219.6,1255.5 1221.9,1252.4" stroke="#f6eccc"/><polyline points="1221.0,1253.6 1224.9,1248.7" stroke="#f0e2b6"/><polyline points="1223.9,1249.9 1226.4,1247.0" stroke="#ead7a1"/><polyline points="1225.4,1248.1 1227.9,1245.2" stroke="#e4cc8b"/><polyline points="1227.0,1246.3 1229.5,1243.5" stroke="#dec276"/><polyline points="1228.5,1244.6 1234.5,1238.6 1240.1,1233.9 1246.0,1229.8 1253.4,1225.6" stroke="#d9b962"/><polyline points="1252.1,1226.3 1258.2,1223.5 1264.7,1221.4 1271.4,1219.9 1280.0,1218.8 1287.1,1218.7 1296.1,1219.3 1303.4,1220.4 1312.0,1222.4" stroke="#ddbd65"/><polyline points="1310.6,1222.1 1318.8,1224.6" stroke="#d7b65f"/><polyline points="1317.4,1224.1 1321.0,1225.3" stroke="#dbbf72"/><polyline points="1319.6,1224.8 1323.3,1226.2" stroke="#cbb068"/><polyline points="1321.9,1225.6 1325.5,1227.1" stroke="#baa05d"/><polyline points="1324.1,1226.5 1327.7,1228.0" stroke="#a99053"/><polyline points="1326.3,1227.4 1329.8,1229.0" stroke="#967f48"/><polyline points="1328.5,1228.3 1332.0,1230.0" stroke="#9b885a"/><polyline points="1330.6,1229.3 1334.1,1231.0" stroke="#816b3a"/><polyline points="1332.8,1230.4 1336.3,1232.1" stroke="#67501c"/><polyline points="1334.9,1231.4 1338.4,1233.2" stroke="#775f26"/><polyline points="1337.0,1232.5 1340.4,1234.4" stroke="#886e31"/><polyline points="1339.1,1233.7 1342.5,1235.6" stroke="#9a7f3c"/><polyline points="1341.2,1234.8 1344.5,1236.9" stroke="#ac9047"/><polyline points="1343.2,1236.1 1346.5,1238.1" stroke="#c0a253"/><polyline points="1345.3,1237.3 1353.7,1243.1 1361.2,1249.2 1368.1,1255.7 1375.7,1264.2 1381.3,1271.8 1387.5,1281.4 1392.0,1289.7 1396.9,1300.2 1401.2,1311.1 1404.8,1322.4 1411.0,1347.5 1415.5,1375.0 1418.8,1409.6" stroke="#d2b35d"/><polyline points="1021.4,1432.0 1060.8,1415.8 1085.4,1404.9 1107.6,1393.8 1125.4,1383.5 1142.3,1371.9 1158.0,1358.9 1170.9,1345.6 1182.1,1331.2" stroke="#d3b35d"/><polyline points="1181.1,1332.6 1186.9,1323.7 1193.0,1312.6" stroke="#b79a4e"/><polyline points="1192.3,1314.1 1197.6,1303.1" stroke="#9e8441"/><polyline points="1196.9,1304.6 1201.7,1293.7" stroke="#876f34"/><polyline points="1201.1,1295.2 1204.8,1286.8" stroke="#735d29"/><polyline points="1204.2,1288.3 1205.8,1284.5" stroke="#765f2a"/><polyline points="1205.2,1286.0 1208.9,1277.9" stroke="#624e1f"/><polyline points="1208.3,1279.3 1211.1,1273.5" stroke="#523e14"/><polyline points="1210.4,1274.9 1212.2,1271.4" stroke="#554115"/><polyline points="1211.5,1272.7 1214.4,1267.2" stroke="#75633a"/><polyline points="1213.7,1268.5 1215.6,1265.1" stroke="#78653b"/><polyline points="1214.9,1266.4 1219.3,1259.2" stroke="#96865f"/><polyline points="1218.5,1260.4 1223.4,1253.5" stroke="#b3a683"/><polyline points="1222.5,1254.7 1227.8,1248.1" stroke="#cec3a5"/><polyline points="1226.8,1249.3 1232.5,1243.1" stroke="#e7dfc5"/><polyline points="1231.4,1244.1 1234.1,1241.5" stroke="#fcf8e4"/><polyline points="1233.1,1242.5 1235.8,1239.9" stroke="#f6edce"/><polyline points="1234.7,1240.9 1239.2,1237.0" stroke="#efe1b7"/><polyline points="1238.1,1237.9 1241.0,1235.5" stroke="#e9d6a0"/><polyline points="1239.9,1236.4 1244.6,1232.9" stroke="#e2cb89"/><polyline points="1243.5,1233.7 1246.5,1231.6" stroke="#dcc073"/><polyline points="1245.3,1232.4 1251.3,1228.7 1257.4,1225.8 1263.6,1223.6 1271.7,1221.7 1278.4,1220.8 1287.1,1220.5 1294.1,1220.9 1302.5,1222.1" stroke="#d7b65f"/><polyline points="1301.1,1221.8 1304.8,1222.5" stroke="#c8a753"/><polyline points="1303.3,1222.3 1307.0,1223.0" stroke="#ceb269"/><polyline points="1305.6,1222.7 1309.3,1223.6" stroke="#c0a55f"/><polyline points="1307.9,1223.2 1311.5,1224.2" stroke="#ab8c40"/><polyline points="1310.1,1223.8 1313.8,1224.8" stroke="#9c7e37"/><polyline points="1312.4,1224.4 1316.0,1225.5" stroke="#a1884b"/><polyline points="1314.6,1225.1 1318.2,1226.3" stroke="#917942"/><polyline points="1316.8,1225.8 1320.4,1227.1" stroke="#7a5f23"/><polyline points="1319.0,1226.6 1322.6,1227.9" stroke="#876b2c"/><polyline points="1321.2,1227.4 1324.8,1228.7" stroke="#947835"/><polyline points="1323.4,1228.2 1326.9,1229.7" stroke="#a3863f"/><polyline points="1325.6,1229.1 1329.1,1230.6" stroke="#b29549"/><polyline points="1327.7,1230.0 1331.2,1231.6" stroke="#c2a453"/><polyline points="1329.9,1231.0 1339.8,1236.1 1349.5,1242.3 1358.6,1249.3 1365.5,1255.7 1373.1,1263.9 1379.9,1272.8 1385.9,1282.3 1391.3,1292.3 1396.0,1302.7 1400.7,1315.4 1404.7,1328.6 1408.0,1342.0 1411.1,1357.6 1413.4,1373.3 1417.0,1409.7" stroke="#d1b25c"/><polyline points="1022.1,1433.7 1071.0,1413.4 1102.9,1398.3 1117.5,1390.4 1129.8,1382.8 1141.7,1374.6 1153.1,1365.7 1162.2,1357.3 1170.9,1348.4 1178.9,1338.7 1186.2,1328.3 1195.6,1311.4 1213.8,1272.2" stroke="#d1b15a"/><polyline points="1213.1,1273.6 1217.2,1266.1" stroke="#bea050"/><polyline points="1216.4,1267.3 1220.8,1260.2" stroke="#ad9046"/><polyline points="1220.0,1261.4 1224.8,1254.6" stroke="#9d823c"/><polyline points="1224.0,1255.8 1229.1,1249.3" stroke="#917533"/><polyline points="1228.2,1250.4 1230.6,1247.6" stroke="#947835"/><polyline points="1229.7,1248.7 1235.4,1242.8" stroke="#886c2c"/><polyline points="1234.3,1243.8 1238.7,1239.8" stroke="#7e6324"/><polyline points="1237.6,1240.7 1243.9,1235.6" stroke="#987f47"/><polyline points="1242.7,1236.5 1245.7,1234.4" stroke="#9b8247"/><polyline points="1244.5,1235.2 1251.2,1230.9" stroke="#b19b68"/><polyline points="1250.0,1231.6 1253.1,1229.9" stroke="#ac9151"/><polyline points="1251.9,1230.5 1255.0,1228.9" stroke="#bfa971"/><polyline points="1253.8,1229.5 1260.9,1226.4" stroke="#b99e5a"/><polyline points="1259.6,1226.9 1269.1,1224.0" stroke="#b49343"/><polyline points="1267.8,1224.3 1271.3,1223.6" stroke="#c6aa62"/><polyline points="1269.9,1223.9 1279.9,1222.5" stroke="#bf9e4b"/><polyline points="1278.5,1222.6 1288.8,1222.4" stroke="#b49343"/><polyline points="1287.4,1222.3 1293.2,1222.7" stroke="#a7873b"/><polyline points="1291.8,1222.5 1297.7,1223.2" stroke="#9a7b32"/><polyline points="1296.3,1223.0 1299.9,1223.5" stroke="#8d6e2a"/><polyline points="1298.5,1223.3 1304.4,1224.3" stroke="#967831"/><polyline points="1303.0,1224.0 1306.6,1224.8" stroke="#a08239"/><polyline points="1305.2,1224.5 1311.1,1225.9" stroke="#ab8d41"/><polyline points="1309.7,1225.6 1313.3,1226.6" stroke="#b7984a"/><polyline points="1311.9,1226.2 1315.4,1227.3" stroke="#c4a553"/><polyline points="1314.1,1226.8 1325.4,1231.0 1335.6,1235.9 1346.9,1242.7 1355.9,1249.5 1364.2,1257.0 1372.8,1266.5 1379.4,1275.4 1386.2,1286.4 1392.0,1298.2 1397.1,1310.6 1401.3,1323.4 1405.4,1338.6 1408.6,1354.0 1411.4,1371.6 1413.4,1389.0 1415.2,1409.9" stroke="#d0b05a"/><polyline points="1022.8,1435.4 1075.6,1413.4 1092.6,1405.5 1107.5,1398.0 1122.0,1389.8 1136.0,1380.9 1147.8,1372.3 1158.9,1362.9 1166.5,1355.7 1173.6,1348.0 1180.3,1339.8 1186.6,1331.1 1196.3,1314.2 1211.9,1280.1 1219.0,1266.5 1224.1,1258.7 1228.5,1252.9 1238.2,1242.6" stroke="#cfaf58"/><polyline points="1237.2,1243.6 1243.2,1238.4" stroke="#d1b15b"/><polyline points="1242.1,1239.3 1250.3,1233.6" stroke="#c5a552"/><polyline points="1249.1,1234.3 1255.9,1230.5 1263.5,1227.5" stroke="#bb9c4b"/><polyline points="1262.2,1227.9 1272.4,1225.2 1284.4,1224.1" stroke="#b39344"/><polyline points="1283.0,1224.2 1290.9,1224.3" stroke="#bd9d4b"/><polyline points="1289.5,1224.2 1295.3,1224.7" stroke="#c6a653"/><polyline points="1293.9,1224.5 1304.1,1226.1 1312.7,1228.3 1323.0,1232.0 1333.1,1236.6 1341.2,1241.2 1350.4,1247.5 1359.0,1254.5 1366.2,1261.6" stroke="#cfaf59"/><polyline points="1365.2,1260.6 1374.8,1271.9 1383.7,1285.7 1391.1,1300.6 1397.9,1318.4 1403.1,1337.1 1407.5,1358.2 1410.8,1381.5 1413.4,1410.0" stroke="#cdad57"/><polyline points="1023.5,1437.1 1076.3,1415.1 1093.4,1407.2 1108.3,1399.6 1122.9,1391.4 1137.0,1382.4 1148.9,1373.7 1160.2,1364.3 1167.8,1357.0 1175.0,1349.2 1181.8,1340.9 1188.1,1332.1 1192.7,1324.7 1197.9,1315.0 1213.5,1280.9 1220.6,1267.4 1225.5,1259.8 1231.0,1252.7 1236.9,1246.3 1242.7,1241.2" stroke="#cdac55"/><polyline points="1241.6,1242.0 1247.2,1237.7 1253.9,1233.5 1260.9,1230.3 1268.1,1228.0 1274.2,1226.8 1282.1,1226.0 1290.3,1226.1 1298.6,1227.0 1307.1,1228.7 1315.6,1231.1 1324.0,1234.3 1332.3,1238.2 1340.2,1242.7 1347.9,1247.8 1355.0,1253.5 1361.7,1259.6 1372.2,1271.6 1381.2,1285.0 1389.5,1301.4 1396.2,1319.0 1401.4,1337.5 1405.7,1358.5 1409.0,1381.7 1411.6,1410.1" stroke="#cdad57"/><polyline points="1024.2,1438.8 1077.0,1416.7 1094.2,1408.8 1109.2,1401.2 1123.9,1393.0 1136.3,1385.1 1148.3,1376.5 1159.8,1367.0 1169.1,1358.3 1176.4,1350.4 1184.5,1340.3 1190.8,1331.3 1200.5,1313.8 1217.7,1276.5 1222.2,1268.3 1227.0,1260.8 1232.4,1253.9 1238.2,1247.6 1244.4,1242.1 1250.4,1237.7" stroke="#cba952"/><polyline points="1249.4,1238.4 1254.8,1235.1 1261.5,1232.0 1267.1,1230.1 1274.5,1228.6 1280.6,1227.9 1288.5,1227.8 1296.7,1228.5 1305.0,1230.0 1320.0,1234.7 1328.2,1238.2 1336.2,1242.4 1343.8,1247.2 1351.1,1252.6 1362.8,1263.4 1372.9,1275.5 1381.4,1289.1 1388.5,1303.8 1395.0,1321.3 1400.1,1339.8 1404.2,1360.8 1407.4,1383.8 1409.8,1410.3" stroke="#cbaa54"/><polyline points="1024.9,1440.4 1075.9,1419.2 1093.1,1411.4 1108.2,1403.8 1123.0,1395.6 1135.6,1387.7 1147.7,1379.2 1159.4,1369.8 1168.8,1361.1 1177.7,1351.6 1186.0,1341.4 1192.3,1332.2 1202.2,1314.6 1220.2,1275.6 1225.6,1266.3 1230.6,1259.1 1238.3,1250.1 1245.5,1243.5 1253.1,1238.2 1261.6,1233.9" stroke="#c8a64f"/><polyline points="1260.5,1234.4 1266.2,1232.3 1271.9,1230.9 1277.7,1230.0 1285.3,1229.6 1291.6,1229.8 1299.7,1230.8 1314.4,1234.6 1329.0,1240.6 1342.8,1248.7 1355.3,1258.6 1366.1,1269.8 1374.4,1280.9 1382.3,1294.7 1388.9,1309.6 1394.4,1325.5 1399.1,1344.0 1402.7,1363.0 1405.6,1384.0 1408.0,1410.4" stroke="#c9a751"/><line x1="1442.4" y1="1407.1" x2="1442.7" y2="1412.0" stroke="#4a3e22"/><line x1="1440.5" y1="1407.2" x2="1441.2" y2="1416.4" stroke="#f7e9b8"/><line x1="1438.7" y1="1407.3" x2="1439.6" y2="1418.9" stroke="#f8ecbe"/><line x1="1436.9" y1="1407.5" x2="1437.9" y2="1420.7" stroke="#f9eec4"/><line x1="1435.1" y1="1407.6" x2="1436.2" y2="1422.1" stroke="#faf0cb"/><line x1="1433.3" y1="1407.7" x2="1434.4" y2="1423.2" stroke="#fbf2d1"/><line x1="1431.5" y1="1407.9" x2="1432.7" y2="1424.0" stroke="#fcf4d7"/><line x1="1429.7" y1="1408.0" x2="1430.9" y2="1424.5" stroke="#fdf6dd"/><line x1="1427.9" y1="1408.1" x2="1429.1" y2="1424.9" stroke="#fef8e4"/><line x1="1426.0" y1="1408.3" x2="1427.3" y2="1425.0" stroke="#b2a787"/><line x1="1424.2" y1="1408.4" x2="1425.4" y2="1424.9" stroke="#4b3a16"/><line x1="1422.4" y1="1408.5" x2="1423.6" y2="1424.6" stroke="#d5b761"/><line x1="1420.6" y1="1408.7" x2="1421.7" y2="1424.1" stroke="#d3b55f"/><line x1="1418.8" y1="1408.8" x2="1419.8" y2="1423.3" stroke="#d2b35d"/><line x1="1417.0" y1="1408.9" x2="1417.9" y2="1422.2" stroke="#d0b15b"/><line x1="1415.2" y1="1409.1" x2="1416.0" y2="1420.6" stroke="#cfaf59"/><line x1="1413.3" y1="1409.2" x2="1414.0" y2="1418.3" stroke="#cdad57"/><line x1="1411.5" y1="1409.3" x2="1411.9" y2="1414.2" stroke="#ccab55"/><path d="M1411.0,1410.2 A16.0,16.0 0 0 0 1443.0,1407.8" stroke="#8a6a20" stroke-width="2.2" fill="none"/><path d="M1408.4,1410.4 A18.7,18.7 0 0 0 1445.7,1407.6" stroke="(214, 182, 96)" stroke-width="2.6" fill="none"/></g><g transform="translate(305.0,385.5) rotate(-8.0) scale(0.5100,0.5650)"><g clip-path="url(#gclip)"><circle cx="0" cy="0" r="100" fill="#4c62d8"/><path d="M-4.4,4.2 L101.9,20.7 L93.1,46.3 Z" fill="#8c9cf2"/><path d="M-4.4,4.2 L93.1,46.3 L77.9,68.9 Z" fill="#0e1c88"/><path d="M-4.4,4.2 L77.9,68.9 L57.5,86.7 Z" fill="#1a2a9c"/><path d="M-4.4,4.2 L57.5,86.7 L33.1,98.6 Z" fill="#a7b4fb"/><path d="M-4.4,4.2 L33.1,98.6 L6.4,103.8 Z" fill="#0e1c88"/><path d="M-4.4,4.2 L6.4,103.8 L-20.7,101.9 Z" fill="#5a70e0"/><path d="M-4.4,4.2 L-20.7,101.9 L-46.3,93.1 Z" fill="#0e1c88"/><path d="M-4.4,4.2 L-46.3,93.1 L-68.9,77.9 Z" fill="#1a2a9c"/><path d="M-4.4,4.2 L-68.9,77.9 L-86.7,57.5 Z" fill="#5a70e0"/><path d="M-4.4,4.2 L-86.7,57.5 L-98.6,33.1 Z" fill="#1a2a9c"/><path d="M-4.4,4.2 L-98.6,33.1 L-103.8,6.4 Z" fill="#a7b4fb"/><path d="M-4.4,4.2 L-103.8,6.4 L-101.9,-20.7 Z" fill="#0e1c88"/><path d="M-4.4,4.2 L-101.9,-20.7 L-93.1,-46.3 Z" fill="#0e1c88"/><path d="M-4.4,4.2 L-93.1,-46.3 L-77.9,-68.9 Z" fill="#2236b0"/><path d="M-4.4,4.2 L-77.9,-68.9 L-57.5,-86.7 Z" fill="#8c9cf2"/><path d="M-4.4,4.2 L-57.5,-86.7 L-33.1,-98.6 Z" fill="#2236b0"/><path d="M-4.4,4.2 L-33.1,-98.6 L-6.4,-103.8 Z" fill="#b4befc"/><path d="M-4.4,4.2 L-6.4,-103.8 L20.7,-101.9 Z" fill="#0e1c88"/><path d="M-4.4,4.2 L20.7,-101.9 L46.3,-93.1 Z" fill="#1a2a9c"/><path d="M-4.4,4.2 L46.3,-93.1 L68.9,-77.9 Z" fill="#6a7ee6"/><path d="M-4.4,4.2 L68.9,-77.9 L86.7,-57.5 Z" fill="#1a2a9c"/><path d="M-4.4,4.2 L86.7,-57.5 L98.6,-33.1 Z" fill="#96a6f6"/><path d="M-4.4,4.2 L98.6,-33.1 L103.8,-6.4 Z" fill="#96a6f6"/><path d="M-4.4,4.2 L103.8,-6.4 L101.9,20.7 Z" fill="#2236b0"/><path d="M103.9,-5.2 L55.1,8.7 L97.7,35.7 Z" fill="#1a2a9c"/><path d="M98.0,34.9 L44.3,32.1 L76.6,70.3 Z" fill="#2236b0"/><path d="M77.1,69.8 L27.7,43.9 L43.9,94.3 Z" fill="#0e1c88"/><path d="M44.6,94.0 L18.5,53.9 L4.4,103.9 Z" fill="#2236b0"/><path d="M5.2,103.9 L-1.6,62.2 L-35.7,97.7 Z" fill="#b4befc"/><path d="M-34.9,98.0 L-28.4,49.8 L-70.3,76.6 Z" fill="#a7b4fb"/><path d="M-69.8,77.1 L-45.5,29.8 L-94.3,43.9 Z" fill="#6a7ee6"/><path d="M-94.0,44.6 L-47.8,4.8 L-103.9,4.4 Z" fill="#2236b0"/><path d="M-103.9,5.2 L-67.1,-8.2 L-97.7,-35.7 Z" fill="#6a7ee6"/><path d="M-98.0,-34.9 L-42.3,-30.0 L-76.6,-70.3 Z" fill="#6a7ee6"/><path d="M-77.1,-69.8 L-23.6,-38.7 L-43.9,-94.3 Z" fill="#2236b0"/><path d="M-44.6,-94.0 L-20.0,-57.1 L-4.4,-103.9 Z" fill="#a7b4fb"/><path d="M-5.2,-103.9 L6.2,-56.2 L35.7,-97.7 Z" fill="#0e1c88"/><path d="M34.9,-98.0 L27.4,-50.2 L70.3,-76.6 Z" fill="#6a7ee6"/><path d="M69.8,-77.1 L50.0,-36.8 L94.3,-43.9 Z" fill="#2236b0"/><path d="M94.0,-44.6 L48.3,-6.6 L103.9,-4.4 Z" fill="#0e1c88"/><path d="M55.7,11.5 L74.2,0.5 L68.3,29.0 Z" fill="#0e1c88"/><path d="M0.0,11.0 L8.3,74.3 L-7.9,74.3 Z" fill="#1a2a9c"/><path d="M-1.9,57.3 L11.8,92.4 L-17.9,91.4 Z" fill="#2236b0"/><path d="M-13.6,27.9 L-15.7,44.8 L-25.5,40.0 Z" fill="#1a2a9c"/><path d="M-1.0,18.9 L13.8,84.0 L-22.6,82.0 Z" fill="#8c9cf2"/><path d="M2.5,-5.6 L7.7,-21.3 L10.8,-19.9 Z" fill="#b4befc"/><path d="M-31.0,11.0 L-61.9,36.5 L-71.0,10.7 Z" fill="#8c9cf2"/><path d="M6.8,40.1 L23.3,71.0 L1.5,74.7 Z" fill="#2236b0"/><path d="M-40.8,20.4 L-56.3,34.5 L-61.4,24.3 Z" fill="#1a2a9c"/><path d="M13.9,-17.1 L48.4,-87.4 L75.6,-65.3 Z" fill="#0e1c88"/><path d="M24.5,26.2 L75.4,59.6 L54.3,79.2 Z" fill="#2236b0"/><path d="M-49.0,12.3 L-90.0,41.1 L-98.8,6.3 Z" fill="#a7b4fb"/><path d="M-17.3,16.7 L-31.3,42.1 L-43.2,29.7 Z" fill="#1a2a9c"/><path d="M-56.5,2.7 L-82.8,15.4 L-83.9,-7.4 Z" fill="#2236b0"/><path d="M37.7,-39.3 L44.1,-54.5 L52.6,-46.4 Z" fill="#2236b0"/><path d="M4.8,-23.2 L2.1,-52.5 L19.0,-49.0 Z" fill="#96a6f6"/><path d="M43.9,-26.2 L65.0,-56.8 L80.9,-30.2 Z" fill="#1a2a9c"/><path d="M-1.5,-9.5 L-13.4,-35.7 L1.9,-38.1 Z" fill="#0e1c88"/><path d="M-41.4,-30.2 L-69.5,-40.0 L-59.3,-53.9 Z" fill="#2236b0"/><path d="M8.2,-43.6 L3.0,-81.1 L26.6,-76.7 Z" fill="#96a6f6"/><path d="M8.8,2.2 L93.1,5.8 L84.8,38.9 Z" fill="#96a6f6"/><path d="M28.0,24.6 L79.3,61.2 L71.0,70.7 Z" fill="#a7b4fb"/><path d="M23.9,-7.4 L53.3,-25.2 L58.2,-9.3 Z" fill="#0e1c88"/><path d="M5.9,4.7 L40.4,23.3 L31.4,34.4 Z" fill="#0e1c88"/><path d="M40.2,35.5 L56.5,41.4 L48.1,51.0 Z" fill="#8c9cf2"/><path d="M15.6,25.4 L50.1,68.8 L39.0,75.7 Z" fill="#8c9cf2"/><path d="M-4.4,4.2 L84.0,3.4 L83.5,10.4 Z" fill="#c0c8ff"/><path d="M-4.4,4.2 L49.0,38.9 L45.8,42.6 Z" fill="#0c1a80"/><path d="M-4.4,4.2 L25.7,70.0 L21.0,71.5 Z" fill="#c0c8ff"/><path d="M-4.4,4.2 L-16.1,82.9 L-21.1,81.8 Z" fill="#0c1a80"/><path d="M-4.4,4.2 L-51.6,45.0 L-55.7,39.9 Z" fill="#c0c8ff"/><path d="M-4.4,4.2 L-82.2,5.7 L-82.4,0.4 Z" fill="#0c1a80"/><path d="M-4.4,4.2 L-46.0,-35.9 L-41.4,-41.1 Z" fill="#c0c8ff"/><path d="M-4.4,4.2 L-34.4,-77.1 L-26.8,-80.0 Z" fill="#0c1a80"/><path d="M-4.4,4.2 L20.1,-72.1 L27.3,-69.7 Z" fill="#c0c8ff"/><path d="M-4.4,4.2 L48.2,-42.5 L51.9,-37.8 Z" fill="#0c1a80"/><circle cx="0" cy="0" r="99.5" fill="none" stroke="#3446c4" stroke-width="1.2"/></g></g><g transform="translate(303.5,352.9) rotate(-141.6)"><path d="M-9.2,0 L-9.2,24.8 Q-9.2,31.2 -2.8,31.2 L2.8,31.2 Q9.2,31.2 9.2,24.8 L9.2,0 Z" fill="url(#pg)" stroke="#9a7818" stroke-width="1.0"/><ellipse cx="0" cy="0.5" rx="7.3" ry="4.4" fill="#f7eec6" stroke="#b08c26" stroke-width="0.9"/></g><g transform="translate(258.1,373.8) rotate(-204.4)"><path d="M-7.6,0 L-7.6,13.1 Q-7.6,18.5 -2.3,18.5 L2.3,18.5 Q7.6,18.5 7.6,13.1 L7.6,0 Z" fill="url(#pg)" stroke="#9a7818" stroke-width="1.0"/><ellipse cx="0" cy="0.5" rx="6.1" ry="3.7" fill="#f7eec6" stroke="#b08c26" stroke-width="0.9"/></g><g transform="translate(331.5,403.4) rotate(-95.7)"><path d="M-8.2,0 L-8.2,25.0 Q-8.2,30.8 -2.4,30.8 L2.4,30.8 Q8.2,30.8 8.2,25.0 L8.2,0 Z" fill="url(#pg)" stroke="#9a7818" stroke-width="1.0"/><ellipse cx="0" cy="0.5" rx="6.5" ry="3.9" fill="#f7eec6" stroke="#b08c26" stroke-width="0.9"/></g><g transform="translate(282.1,426.8) rotate(-36.0)"><path d="M-8.7,0 L-8.7,14.7 Q-8.7,20.8 -2.6,20.8 L2.6,20.8 Q8.7,20.8 8.7,14.7 L8.7,0 Z" fill="url(#pg)" stroke="#9a7818" stroke-width="1.0"/><ellipse cx="0" cy="0.5" rx="6.9" ry="4.2" fill="#f7eec6" stroke="#b08c26" stroke-width="0.9"/></g><g transform="translate(300.5,902.7) rotate(-8.0) scale(0.6060,0.6700)"><g clip-path="url(#gclip)"><circle cx="0" cy="0" r="100" fill="#4c62d8"/><path d="M5.5,5.4 L104.0,1.5 L100.0,28.4 Z" fill="#b4befc"/><path d="M5.5,5.4 L100.0,28.4 L89.3,53.3 Z" fill="#2236b0"/><path d="M5.5,5.4 L89.3,53.3 L72.4,74.6 Z" fill="#0e1c88"/><path d="M5.5,5.4 L72.4,74.6 L50.7,90.8 Z" fill="#6a7ee6"/><path d="M5.5,5.4 L50.7,90.8 L25.4,100.8 Z" fill="#b4befc"/><path d="M5.5,5.4 L25.4,100.8 L-1.5,104.0 Z" fill="#2236b0"/><path d="M5.5,5.4 L-1.5,104.0 L-28.4,100.0 Z" fill="#6a7ee6"/><path d="M5.5,5.4 L-28.4,100.0 L-53.3,89.3 Z" fill="#2236b0"/><path d="M5.5,5.4 L-53.3,89.3 L-74.6,72.4 Z" fill="#2236b0"/><path d="M5.5,5.4 L-74.6,72.4 L-90.8,50.7 Z" fill="#2236b0"/><path d="M5.5,5.4 L-90.8,50.7 L-100.8,25.4 Z" fill="#a7b4fb"/><path d="M5.5,5.4 L-100.8,25.4 L-104.0,-1.5 Z" fill="#0e1c88"/><path d="M5.5,5.4 L-104.0,-1.5 L-100.0,-28.4 Z" fill="#4c63d8"/><path d="M5.5,5.4 L-100.0,-28.4 L-89.3,-53.3 Z" fill="#0e1c88"/><path d="M5.5,5.4 L-89.3,-53.3 L-72.4,-74.6 Z" fill="#2236b0"/><path d="M5.5,5.4 L-72.4,-74.6 L-50.7,-90.8 Z" fill="#b4befc"/><path d="M5.5,5.4 L-50.7,-90.8 L-25.4,-100.8 Z" fill="#a7b4fb"/><path d="M5.5,5.4 L-25.4,-100.8 L1.5,-104.0 Z" fill="#b4befc"/><path d="M5.5,5.4 L1.5,-104.0 L28.4,-100.0 Z" fill="#96a6f6"/><path d="M5.5,5.4 L28.4,-100.0 L53.3,-89.3 Z" fill="#2236b0"/><path d="M5.5,5.4 L53.3,-89.3 L74.6,-72.4 Z" fill="#4c63d8"/><path d="M5.5,5.4 L74.6,-72.4 L90.8,-50.7 Z" fill="#2236b0"/><path d="M5.5,5.4 L90.8,-50.7 L100.8,-25.4 Z" fill="#4c63d8"/><path d="M5.5,5.4 L100.8,-25.4 L104.0,1.5 Z" fill="#0e1c88"/><path d="M102.2,-19.5 L53.7,-0.3 L101.7,21.8 Z" fill="#0e1c88"/><path d="M101.8,21.0 L58.1,25.2 L85.6,59.0 Z" fill="#4c63d8"/><path d="M86.0,58.4 L35.9,39.3 L56.5,87.3 Z" fill="#0e1c88"/><path d="M57.1,86.9 L16.6,50.2 L18.8,102.3 Z" fill="#6a7ee6"/><path d="M19.5,102.2 L2.1,50.4 L-21.8,101.7 Z" fill="#96a6f6"/><path d="M-21.0,101.8 L-24.9,60.5 L-59.0,85.6 Z" fill="#2236b0"/><path d="M-58.4,86.0 L-42.3,39.8 L-87.3,56.5 Z" fill="#6a7ee6"/><path d="M-86.9,57.1 L-46.7,12.5 L-102.3,18.8 Z" fill="#1a2a9c"/><path d="M-102.2,19.5 L-64.6,8.8 L-101.7,-21.8 Z" fill="#2236b0"/><path d="M-101.8,-21.0 L-43.4,-12.6 L-85.6,-59.0 Z" fill="#6a7ee6"/><path d="M-86.0,-58.4 L-52.1,-48.1 L-56.5,-87.3 Z" fill="#1a2a9c"/><path d="M-57.1,-86.9 L-16.1,-57.2 L-18.8,-102.3 Z" fill="#1a2a9c"/><path d="M-19.5,-102.2 L-1.4,-46.3 L21.8,-101.7 Z" fill="#a7b4fb"/><path d="M21.0,-101.8 L17.8,-61.3 L59.0,-85.6 Z" fill="#96a6f6"/><path d="M58.4,-86.0 L38.6,-31.2 L87.3,-56.5 Z" fill="#5a70e0"/><path d="M86.9,-57.1 L47.5,-12.7 L102.3,-18.8 Z" fill="#a7b4fb"/><path d="M56.6,1.5 L90.9,-13.8 L90.0,18.6 Z" fill="#0e1c88"/><path d="M29.1,5.7 L90.1,1.6 L84.0,32.5 Z" fill="#8c9cf2"/><path d="M28.4,-33.3 L46.5,-65.3 L57.2,-56.1 Z" fill="#96a6f6"/><path d="M3.3,-5.4 L29.2,-81.4 L60.0,-62.3 Z" fill="#0e1c88"/><path d="M-23.0,1.9 L-94.0,18.1 L-95.7,-2.5 Z" fill="#0e1c88"/><path d="M-24.8,-35.7 L-71.2,-73.2 L-43.8,-92.3 Z" fill="#1a2a9c"/><path d="M5.4,8.7 L48.2,57.8 L30.8,68.7 Z" fill="#a7b4fb"/><path d="M17.8,-0.6 L63.9,-8.2 L64.3,3.8 Z" fill="#96a6f6"/><path d="M-1.2,28.2 L0.7,75.2 L-6.9,74.9 Z" fill="#0e1c88"/><path d="M17.7,28.0 L31.3,42.8 L25.3,46.7 Z" fill="#1a2a9c"/><path d="M5.0,3.9 L66.0,39.0 L54.1,54.4 Z" fill="#0e1c88"/><path d="M12.8,53.3 L40.9,94.2 L6.4,102.5 Z" fill="#2236b0"/><path d="M37.2,5.0 L97.6,-7.2 L92.2,32.8 Z" fill="#a7b4fb"/><path d="M-16.3,-26.8 L-32.7,-34.5 L-15.5,-44.9 Z" fill="#0e1c88"/><path d="M-14.5,57.3 L-16.6,83.6 L-25.3,81.4 Z" fill="#a7b4fb"/><path d="M12.6,9.8 L78.1,39.6 L57.8,65.8 Z" fill="#a7b4fb"/><path d="M-26.9,16.9 L-44.4,38.3 L-53.8,23.4 Z" fill="#0e1c88"/><path d="M21.6,3.3 L85.3,5.5 L83.0,20.2 Z" fill="#1a2a9c"/><path d="M-23.9,-11.5 L-67.9,-18.9 L-57.0,-41.4 Z" fill="#1a2a9c"/><path d="M-0.3,11.8 L6.0,74.1 L-9.9,73.7 Z" fill="#1a2a9c"/><path d="M-2.2,-5.9 L-39.1,-64.9 L-13.4,-74.6 Z" fill="#8c9cf2"/><path d="M-14.6,55.9 L-10.9,76.4 L-27.9,72.0 Z" fill="#0e1c88"/><path d="M-8.6,-44.2 L-25.1,-74.3 L-4.5,-78.3 Z" fill="#8c9cf2"/><path d="M3.7,31.7 L14.6,60.0 L-0.4,61.7 Z" fill="#a7b4fb"/><path d="M-42.9,-25.7 L-62.5,-28.6 L-54.7,-41.6 Z" fill="#b4befc"/><path d="M18.8,-51.0 L14.4,-96.0 L51.4,-82.3 Z" fill="#a7b4fb"/><path d="M5.5,5.4 L61.6,-7.0 L61.9,-2.2 Z" fill="#c0c8ff"/><path d="M5.5,5.4 L55.8,39.2 L51.6,44.6 Z" fill="#0c1a80"/><path d="M5.5,5.4 L23.9,67.1 L19.4,68.5 Z" fill="#c0c8ff"/><path d="M5.5,5.4 L-19.9,54.3 L-25.5,51.9 Z" fill="#0c1a80"/><path d="M5.5,5.4 L-48.9,39.3 L-52.7,34.0 Z" fill="#c0c8ff"/><path d="M5.5,5.4 L-76.0,-2.7 L-75.5,-9.3 Z" fill="#0c1a80"/><path d="M5.5,5.4 L-66.9,-41.0 L-61.6,-48.7 Z" fill="#c0c8ff"/><path d="M5.5,5.4 L-22.4,-64.5 L-17.9,-65.9 Z" fill="#0c1a80"/><path d="M5.5,5.4 L14.0,-80.3 L21.6,-78.5 Z" fill="#c0c8ff"/><path d="M5.5,5.4 L51.4,-46.7 L55.4,-41.9 Z" fill="#0c1a80"/><circle cx="0" cy="0" r="99.5" fill="none" stroke="#3446c4" stroke-width="1.2"/></g></g><g transform="translate(298.7,863.9) rotate(-141.6)"><path d="M-10.9,0 L-10.9,29.5 Q-10.9,37.1 -3.3,37.1 L3.3,37.1 Q10.9,37.1 10.9,29.5 L10.9,0 Z" fill="url(#pg)" stroke="#9a7818" stroke-width="1.0"/><ellipse cx="0" cy="0.5" rx="8.7" ry="5.2" fill="#f7eec6" stroke="#b08c26" stroke-width="0.9"/></g><g transform="translate(244.7,888.8) rotate(-204.4)"><path d="M-9.1,0 L-9.1,15.6 Q-9.1,22.0 -2.7,22.0 L2.7,22.0 Q9.1,22.0 9.1,15.6 L9.1,0 Z" fill="url(#pg)" stroke="#9a7818" stroke-width="1.0"/><ellipse cx="0" cy="0.5" rx="7.3" ry="4.4" fill="#f7eec6" stroke="#b08c26" stroke-width="0.9"/></g><g transform="translate(332.0,923.9) rotate(-95.7)"><path d="M-9.7,0 L-9.7,29.8 Q-9.7,36.5 -2.9,36.5 L2.9,36.5 Q9.7,36.5 9.7,29.8 L9.7,0 Z" fill="url(#pg)" stroke="#9a7818" stroke-width="1.0"/><ellipse cx="0" cy="0.5" rx="7.8" ry="4.7" fill="#f7eec6" stroke="#b08c26" stroke-width="0.9"/></g><g transform="translate(273.2,951.8) rotate(-36.0)"><path d="M-10.3,0 L-10.3,17.5 Q-10.3,24.7 -3.1,24.7 L3.1,24.7 Q10.3,24.7 10.3,17.5 L10.3,0 Z" fill="url(#pg)" stroke="#9a7818" stroke-width="1.0"/><ellipse cx="0" cy="0.5" rx="8.2" ry="4.9" fill="#f7eec6" stroke="#b08c26" stroke-width="0.9"/></g><g transform="translate(306.3,1428.0) rotate(-8.0) scale(0.7000,0.7600)"><g clip-path="url(#gclip)"><circle cx="0" cy="0" r="100" fill="#4c62d8"/><path d="M-3.1,0.5 L103.5,10.1 L97.4,36.5 Z" fill="#6a7ee6"/><path d="M-3.1,0.5 L97.4,36.5 L84.6,60.5 Z" fill="#6a7ee6"/><path d="M-3.1,0.5 L84.6,60.5 L66.1,80.3 Z" fill="#8c9cf2"/><path d="M-3.1,0.5 L66.1,80.3 L43.0,94.7 Z" fill="#b4befc"/><path d="M-3.1,0.5 L43.0,94.7 L17.1,102.6 Z" fill="#8c9cf2"/><path d="M-3.1,0.5 L17.1,102.6 L-10.1,103.5 Z" fill="#6a7ee6"/><path d="M-3.1,0.5 L-10.1,103.5 L-36.5,97.4 Z" fill="#6a7ee6"/><path d="M-3.1,0.5 L-36.5,97.4 L-60.5,84.6 Z" fill="#1a2a9c"/><path d="M-3.1,0.5 L-60.5,84.6 L-80.3,66.1 Z" fill="#2236b0"/><path d="M-3.1,0.5 L-80.3,66.1 L-94.7,43.0 Z" fill="#5a70e0"/><path d="M-3.1,0.5 L-94.7,43.0 L-102.6,17.1 Z" fill="#1a2a9c"/><path d="M-3.1,0.5 L-102.6,17.1 L-103.5,-10.1 Z" fill="#a7b4fb"/><path d="M-3.1,0.5 L-103.5,-10.1 L-97.4,-36.5 Z" fill="#a7b4fb"/><path d="M-3.1,0.5 L-97.4,-36.5 L-84.6,-60.5 Z" fill="#0e1c88"/><path d="M-3.1,0.5 L-84.6,-60.5 L-66.1,-80.3 Z" fill="#6a7ee6"/><path d="M-3.1,0.5 L-66.1,-80.3 L-43.0,-94.7 Z" fill="#0e1c88"/><path d="M-3.1,0.5 L-43.0,-94.7 L-17.1,-102.6 Z" fill="#0e1c88"/><path d="M-3.1,0.5 L-17.1,-102.6 L10.1,-103.5 Z" fill="#6a7ee6"/><path d="M-3.1,0.5 L10.1,-103.5 L36.5,-97.4 Z" fill="#5a70e0"/><path d="M-3.1,0.5 L36.5,-97.4 L60.5,-84.6 Z" fill="#1a2a9c"/><path d="M-3.1,0.5 L60.5,-84.6 L80.3,-66.1 Z" fill="#8c9cf2"/><path d="M-3.1,0.5 L80.3,-66.1 L94.7,-43.0 Z" fill="#8c9cf2"/><path d="M-3.1,0.5 L94.7,-43.0 L102.6,-17.1 Z" fill="#0e1c88"/><path d="M-3.1,0.5 L102.6,-17.1 L103.5,10.1 Z" fill="#4c63d8"/><path d="M103.2,-13.2 L59.1,2.7 L100.2,28.0 Z" fill="#96a6f6"/><path d="M100.4,27.3 L51.4,33.6 L81.8,64.2 Z" fill="#2236b0"/><path d="M82.3,63.6 L37.9,45.0 L51.0,90.6 Z" fill="#6a7ee6"/><path d="M51.7,90.3 L15.0,54.4 L12.5,103.3 Z" fill="#2236b0"/><path d="M13.2,103.2 L2.1,51.6 L-28.0,100.2 Z" fill="#0e1c88"/><path d="M-27.3,100.4 L-24.9,42.7 L-64.2,81.8 Z" fill="#96a6f6"/><path d="M-63.6,82.3 L-41.2,41.0 L-90.6,51.0 Z" fill="#5a70e0"/><path d="M-90.3,51.7 L-52.1,16.3 L-103.3,12.5 Z" fill="#0e1c88"/><path d="M-103.2,13.2 L-56.2,-0.9 L-100.2,-28.0 Z" fill="#a7b4fb"/><path d="M-100.4,-27.3 L-56.5,-26.9 L-81.8,-64.2 Z" fill="#a7b4fb"/><path d="M-82.3,-63.6 L-47.9,-50.6 L-51.0,-90.6 Z" fill="#8c9cf2"/><path d="M-51.7,-90.3 L-11.3,-51.0 L-12.5,-103.3 Z" fill="#2236b0"/><path d="M-13.2,-103.2 L6.4,-57.7 L28.0,-100.2 Z" fill="#4c63d8"/><path d="M27.3,-100.4 L30.8,-50.4 L64.2,-81.8 Z" fill="#4c63d8"/><path d="M63.6,-82.3 L44.4,-44.0 L90.6,-51.0 Z" fill="#6a7ee6"/><path d="M90.3,-51.7 L49.5,-15.3 L103.3,-12.5 Z" fill="#96a6f6"/><path d="M-41.4,8.9 L-68.5,27.5 L-73.7,3.1 Z" fill="#a7b4fb"/><path d="M-48.7,-30.6 L-65.9,-31.8 L-57.2,-45.7 Z" fill="#96a6f6"/><path d="M-18.9,-12.4 L-54.8,-28.5 L-47.8,-39.1 Z" fill="#2236b0"/><path d="M-4.3,48.1 L6.7,67.2 L-18.5,65.0 Z" fill="#b4befc"/><path d="M-6.3,16.0 L-25.4,86.3 L-40.5,80.3 Z" fill="#0e1c88"/><path d="M-6.1,-8.3 L-54.2,-48.3 L-29.6,-66.3 Z" fill="#b4befc"/><path d="M-48.2,19.6 L-64.5,34.8 L-70.5,20.2 Z" fill="#8c9cf2"/><path d="M-6.2,47.9 L5.4,64.4 L-21.7,60.9 Z" fill="#2236b0"/><path d="M8.2,18.6 L49.5,76.1 L23.2,87.8 Z" fill="#96a6f6"/><path d="M-23.8,-15.0 L-69.7,-26.9 L-54.3,-51.3 Z" fill="#2236b0"/><path d="M-24.3,14.0 L-50.8,45.3 L-64.7,21.1 Z" fill="#1a2a9c"/><path d="M-50.3,7.2 L-86.1,24.7 L-89.6,0.5 Z" fill="#b4befc"/><path d="M29.5,6.1 L89.4,2.3 L83.1,33.2 Z" fill="#96a6f6"/><path d="M40.3,-33.5 L60.8,-77.9 L87.7,-45.4 Z" fill="#1a2a9c"/><path d="M52.5,15.3 L93.2,7.1 L82.5,44.0 Z" fill="#8c9cf2"/><path d="M-5.1,-2.7 L-76.1,-32.6 L-70.0,-44.2 Z" fill="#2236b0"/><path d="M34.3,4.3 L52.3,-4.2 L49.6,17.0 Z" fill="#1a2a9c"/><path d="M-0.8,52.4 L14.1,83.7 L-16.7,83.2 Z" fill="#1a2a9c"/><path d="M38.7,37.4 L56.9,45.8 L47.7,55.3 Z" fill="#1a2a9c"/><path d="M2.4,-4.8 L19.1,-70.4 L44.6,-57.7 Z" fill="#0e1c88"/><path d="M0.4,39.0 L5.6,79.8 L-3.8,79.9 Z" fill="#1a2a9c"/><path d="M29.7,-37.3 L37.2,-52.8 L43.1,-48.1 Z" fill="#1a2a9c"/><path d="M5.9,-7.7 L33.9,-54.9 L44.5,-46.8 Z" fill="#0e1c88"/><path d="M-19.9,17.4 L-41.6,43.9 L-49.1,35.3 Z" fill="#8c9cf2"/><path d="M25.3,24.9 L70.0,54.7 L55.8,69.1 Z" fill="#1a2a9c"/><path d="M29.2,8.1 L82.8,10.6 L76.5,33.4 Z" fill="#a7b4fb"/><path d="M-3.1,0.5 L66.2,-1.2 L66.0,4.5 Z" fill="#c0c8ff"/><path d="M-3.1,0.5 L56.7,36.9 L52.6,42.4 Z" fill="#0c1a80"/><path d="M-3.1,0.5 L19.6,59.2 L14.3,60.7 Z" fill="#c0c8ff"/><path d="M-3.1,0.5 L-15.3,55.1 L-20.8,53.2 Z" fill="#0c1a80"/><path d="M-3.1,0.5 L-63.0,51.6 L-67.1,46.0 Z" fill="#c0c8ff"/><path d="M-3.1,0.5 L-81.8,-3.8 L-81.3,-10.5 Z" fill="#0c1a80"/><path d="M-3.1,0.5 L-54.9,-41.6 L-51.6,-45.7 Z" fill="#c0c8ff"/><path d="M-3.1,0.5 L-32.2,-67.6 L-24.6,-70.7 Z" fill="#0c1a80"/><path d="M-3.1,0.5 L24.9,-70.8 L32.3,-67.7 Z" fill="#c0c8ff"/><path d="M-3.1,0.5 L47.0,-34.2 L50.0,-29.6 Z" fill="#0c1a80"/><circle cx="0" cy="0" r="99.5" fill="none" stroke="#3446c4" stroke-width="1.2"/></g></g><g transform="translate(304.2,1383.2) rotate(-141.6)"><path d="M-12.6,0 L-12.6,34.0 Q-12.6,42.9 -3.8,42.9 L3.8,42.9 Q12.6,42.9 12.6,34.0 L12.6,0 Z" fill="url(#pg)" stroke="#9a7818" stroke-width="1.0"/><ellipse cx="0" cy="0.5" rx="10.1" ry="6.0" fill="#f7eec6" stroke="#b08c26" stroke-width="0.9"/></g><g transform="translate(241.9,1411.9) rotate(-204.4)"><path d="M-10.5,0 L-10.5,18.0 Q-10.5,25.4 -3.2,25.4 L3.2,25.4 Q10.5,25.4 10.5,18.0 L10.5,0 Z" fill="url(#pg)" stroke="#9a7818" stroke-width="1.0"/><ellipse cx="0" cy="0.5" rx="8.4" ry="5.0" fill="#f7eec6" stroke="#b08c26" stroke-width="0.9"/></g><g transform="translate(342.7,1452.5) rotate(-95.7)"><path d="M-11.2,0 L-11.2,34.4 Q-11.2,42.2 -3.4,42.2 L3.4,42.2 Q11.2,42.2 11.2,34.4 L11.2,0 Z" fill="url(#pg)" stroke="#9a7818" stroke-width="1.0"/><ellipse cx="0" cy="0.5" rx="9.0" ry="5.4" fill="#f7eec6" stroke="#b08c26" stroke-width="0.9"/></g><g transform="translate(274.8,1484.7) rotate(-36.0)"><path d="M-11.9,0 L-11.9,20.2 Q-11.9,28.6 -3.6,28.6 L3.6,28.6 Q11.9,28.6 11.9,20.2 L11.9,0 Z" fill="url(#pg)" stroke="#9a7818" stroke-width="1.0"/><ellipse cx="0" cy="0.5" rx="9.5" ry="5.7" fill="#f7eec6" stroke="#b08c26" stroke-width="0.9"/></g><g transform="translate(1013.4,375.7) rotate(-8.0) scale(0.5700,0.6350)"><g clip-path="url(#gclip)"><circle cx="0" cy="0" r="100" fill="#4c62d8"/><path d="M-3.2,-4.8 L103.4,10.8 L97.1,37.2 Z" fill="#a7b4fb"/><path d="M-3.2,-4.8 L97.1,37.2 L84.2,61.0 Z" fill="#96a6f6"/><path d="M-3.2,-4.8 L84.2,61.0 L65.5,80.8 Z" fill="#1a2a9c"/><path d="M-3.2,-4.8 L65.5,80.8 L42.4,95.0 Z" fill="#96a6f6"/><path d="M-3.2,-4.8 L42.4,95.0 L16.4,102.7 Z" fill="#b4befc"/><path d="M-3.2,-4.8 L16.4,102.7 L-10.8,103.4 Z" fill="#0e1c88"/><path d="M-3.2,-4.8 L-10.8,103.4 L-37.2,97.1 Z" fill="#a7b4fb"/><path d="M-3.2,-4.8 L-37.2,97.1 L-61.0,84.2 Z" fill="#0e1c88"/><path d="M-3.2,-4.8 L-61.0,84.2 L-80.8,65.5 Z" fill="#1a2a9c"/><path d="M-3.2,-4.8 L-80.8,65.5 L-95.0,42.4 Z" fill="#96a6f6"/><path d="M-3.2,-4.8 L-95.0,42.4 L-102.7,16.4 Z" fill="#2236b0"/><path d="M-3.2,-4.8 L-102.7,16.4 L-103.4,-10.8 Z" fill="#0e1c88"/><path d="M-3.2,-4.8 L-103.4,-10.8 L-97.1,-37.2 Z" fill="#96a6f6"/><path d="M-3.2,-4.8 L-97.1,-37.2 L-84.2,-61.0 Z" fill="#2236b0"/><path d="M-3.2,-4.8 L-84.2,-61.0 L-65.5,-80.8 Z" fill="#b4befc"/><path d="M-3.2,-4.8 L-65.5,-80.8 L-42.4,-95.0 Z" fill="#5a70e0"/><path d="M-3.2,-4.8 L-42.4,-95.0 L-16.4,-102.7 Z" fill="#2236b0"/><path d="M-3.2,-4.8 L-16.4,-102.7 L10.8,-103.4 Z" fill="#1a2a9c"/><path d="M-3.2,-4.8 L10.8,-103.4 L37.2,-97.1 Z" fill="#2236b0"/><path d="M-3.2,-4.8 L37.2,-97.1 L61.0,-84.2 Z" fill="#0e1c88"/><path d="M-3.2,-4.8 L61.0,-84.2 L80.8,-65.5 Z" fill="#2236b0"/><path d="M-3.2,-4.8 L80.8,-65.5 L95.0,-42.4 Z" fill="#8c9cf2"/><path d="M-3.2,-4.8 L95.0,-42.4 L102.7,-16.4 Z" fill="#4c63d8"/><path d="M-3.2,-4.8 L102.7,-16.4 L103.4,10.8 Z" fill="#5a70e0"/><path d="M103.2,-12.7 L51.9,-3.1 L100.0,28.5 Z" fill="#96a6f6"/><path d="M100.2,27.8 L50.5,29.3 L81.5,64.6 Z" fill="#b4befc"/><path d="M82.0,64.0 L25.7,36.7 L50.6,90.9 Z" fill="#5a70e0"/><path d="M51.2,90.5 L12.9,50.3 L11.9,103.3 Z" fill="#4c63d8"/><path d="M12.7,103.2 L2.6,47.5 L-28.5,100.0 Z" fill="#2236b0"/><path d="M-27.8,100.2 L-23.3,54.9 L-64.6,81.5 Z" fill="#a7b4fb"/><path d="M-64.0,82.0 L-36.7,25.6 L-90.9,50.6 Z" fill="#2236b0"/><path d="M-90.5,51.2 L-57.8,22.3 L-103.3,11.9 Z" fill="#b4befc"/><path d="M-103.2,12.7 L-64.3,-13.5 L-100.0,-28.5 Z" fill="#1a2a9c"/><path d="M-100.2,-27.8 L-48.6,-22.9 L-81.5,-64.6 Z" fill="#8c9cf2"/><path d="M-82.0,-64.0 L-43.4,-46.4 L-50.6,-90.9 Z" fill="#4c63d8"/><path d="M-51.2,-90.5 L-11.2,-46.1 L-11.9,-103.3 Z" fill="#a7b4fb"/><path d="M-12.7,-103.2 L-0.6,-54.8 L28.5,-100.0 Z" fill="#a7b4fb"/><path d="M27.8,-100.2 L16.8,-40.2 L64.6,-81.5 Z" fill="#a7b4fb"/><path d="M64.0,-82.0 L45.5,-40.5 L90.9,-50.6 Z" fill="#96a6f6"/><path d="M90.5,-51.2 L60.6,-10.8 L103.3,-11.9 Z" fill="#5a70e0"/><path d="M-29.7,12.0 L-52.0,29.1 L-57.5,15.2 Z" fill="#8c9cf2"/><path d="M15.8,-28.3 L19.9,-45.0 L27.9,-40.5 Z" fill="#1a2a9c"/><path d="M3.9,-27.7 L2.1,-58.9 L14.3,-57.2 Z" fill="#96a6f6"/><path d="M-54.5,-23.7 L-84.5,-17.8 L-70.6,-49.7 Z" fill="#a7b4fb"/><path d="M-10.1,0.4 L-40.6,9.7 L-41.2,-6.8 Z" fill="#b4befc"/><path d="M-21.3,35.2 L-35.4,87.5 L-61.1,72.0 Z" fill="#b4befc"/><path d="M-24.1,-35.3 L-50.6,-48.6 L-26.8,-64.8 Z" fill="#a7b4fb"/><path d="M12.9,-15.8 L44.3,-64.8 L54.3,-56.6 Z" fill="#2236b0"/><path d="M40.5,41.9 L69.1,63.3 L61.0,71.2 Z" fill="#2236b0"/><path d="M-30.2,6.8 L-65.4,23.1 L-69.0,7.4 Z" fill="#b4befc"/><path d="M5.1,-2.7 L79.5,-49.6 L85.6,-38.0 Z" fill="#8c9cf2"/><path d="M25.4,-24.5 L64.2,-73.3 L75.6,-61.5 Z" fill="#96a6f6"/><path d="M15.0,-32.7 L20.6,-90.2 L54.9,-74.5 Z" fill="#1a2a9c"/><path d="M36.8,8.0 L77.8,1.4 L71.3,31.1 Z" fill="#b4befc"/><path d="M9.1,2.4 L94.2,5.3 L84.4,42.2 Z" fill="#0e1c88"/><path d="M4.5,-8.6 L24.7,-63.1 L38.4,-55.9 Z" fill="#96a6f6"/><path d="M-35.7,30.1 L-66.9,71.4 L-81.8,53.8 Z" fill="#2236b0"/><path d="M7.5,-24.0 L18.9,-102.2 L42.8,-94.7 Z" fill="#8c9cf2"/><path d="M48.8,21.8 L71.6,23.7 L65.4,37.6 Z" fill="#8c9cf2"/><path d="M26.3,24.1 L55.5,43.5 L48.1,51.6 Z" fill="#96a6f6"/><path d="M-23.6,0.9 L-71.9,17.6 L-73.0,-12.4 Z" fill="#a7b4fb"/><path d="M-7.0,-9.3 L-25.8,-23.9 L-15.5,-31.6 Z" fill="#a7b4fb"/><path d="M-27.4,-3.6 L-60.6,-2.5 L-59.2,-13.2 Z" fill="#2236b0"/><path d="M7.9,0.1 L95.7,-12.7 L95.4,14.7 Z" fill="#96a6f6"/><path d="M30.3,-12.7 L61.8,-38.1 L70.5,-17.4 Z" fill="#0e1c88"/><path d="M3.3,-24.7 L4.9,-82.2 L16.8,-80.6 Z" fill="#1a2a9c"/><path d="M-3.2,-4.8 L63.6,-0.9 L63.3,5.3 Z" fill="#c0c8ff"/><path d="M-3.2,-4.8 L61.3,49.6 L57.6,53.8 Z" fill="#0c1a80"/><path d="M-3.2,-4.8 L18.9,54.1 L12.7,55.9 Z" fill="#c0c8ff"/><path d="M-3.2,-4.8 L-18.3,62.3 L-25.3,59.8 Z" fill="#0c1a80"/><path d="M-3.2,-4.8 L-62.9,51.8 L-66.4,47.3 Z" fill="#c0c8ff"/><path d="M-3.2,-4.8 L-77.6,1.9 L-77.5,-5.2 Z" fill="#0c1a80"/><path d="M-3.2,-4.8 L-69.5,-38.4 L-66.1,-44.0 Z" fill="#c0c8ff"/><path d="M-3.2,-4.8 L-35.3,-76.9 L-29.7,-79.2 Z" fill="#0c1a80"/><path d="M-3.2,-4.8 L16.2,-55.0 L22.6,-52.6 Z" fill="#c0c8ff"/><path d="M-3.2,-4.8 L49.6,-34.1 L53.3,-28.0 Z" fill="#0c1a80"/><circle cx="0" cy="0" r="99.5" fill="none" stroke="#3446c4" stroke-width="1.2"/></g></g><g transform="translate(1016.2,337.5) rotate(-140.7)"><path d="M-10.5,0 L-10.5,25.0 Q-10.5,32.4 -3.2,32.4 L3.2,32.4 Q10.5,32.4 10.5,25.0 L10.5,0 Z" fill="url(#pg)" stroke="#9a7818" stroke-width="1.0"/><ellipse cx="0" cy="0.5" rx="8.4" ry="5.1" fill="#f7eec6" stroke="#b08c26" stroke-width="0.9"/></g><g transform="translate(963.8,351.2) rotate(-203.4)"><path d="M-8.5,0 L-8.5,12.7 Q-8.5,18.6 -2.6,18.6 L2.6,18.6 Q8.5,18.6 8.5,12.7 L8.5,0 Z" fill="url(#pg)" stroke="#9a7818" stroke-width="1.0"/><ellipse cx="0" cy="0.5" rx="6.8" ry="4.1" fill="#f7eec6" stroke="#b08c26" stroke-width="0.9"/></g><g transform="translate(1037.9,401.9) rotate(-90.0)"><path d="M-9.1,0 L-9.1,28.4 Q-9.1,34.8 -2.7,34.8 L2.7,34.8 Q9.1,34.8 9.1,28.4 L9.1,0 Z" fill="url(#pg)" stroke="#9a7818" stroke-width="1.0"/><ellipse cx="0" cy="0.5" rx="7.3" ry="4.4" fill="#f7eec6" stroke="#b08c26" stroke-width="0.9"/></g><g transform="translate(982.6,417.3) rotate(-19.9)"><path d="M-9.7,0 L-9.7,15.0 Q-9.7,21.8 -2.9,21.8 L2.9,21.8 Q9.7,21.8 9.7,15.0 L9.7,0 Z" fill="url(#pg)" stroke="#9a7818" stroke-width="1.0"/><ellipse cx="0" cy="0.5" rx="7.8" ry="4.7" fill="#f7eec6" stroke="#b08c26" stroke-width="0.9"/></g><g transform="translate(1017.0,890.7) rotate(-8.0) scale(0.6430,0.7200)"><g clip-path="url(#gclip)"><circle cx="0" cy="0" r="100" fill="#4c62d8"/><path d="M1.5,2.9 L101.8,21.5 L92.7,47.1 Z" fill="#2236b0"/><path d="M1.5,2.9 L92.7,47.1 L77.4,69.5 Z" fill="#2236b0"/><path d="M1.5,2.9 L77.4,69.5 L56.8,87.2 Z" fill="#8c9cf2"/><path d="M1.5,2.9 L56.8,87.2 L32.3,98.9 Z" fill="#1a2a9c"/><path d="M1.5,2.9 L32.3,98.9 L5.6,103.9 Z" fill="#1a2a9c"/><path d="M1.5,2.9 L5.6,103.9 L-21.5,101.8 Z" fill="#8c9cf2"/><path d="M1.5,2.9 L-21.5,101.8 L-47.1,92.7 Z" fill="#0e1c88"/><path d="M1.5,2.9 L-47.1,92.7 L-69.5,77.4 Z" fill="#6a7ee6"/><path d="M1.5,2.9 L-69.5,77.4 L-87.2,56.8 Z" fill="#b4befc"/><path d="M1.5,2.9 L-87.2,56.8 L-98.9,32.3 Z" fill="#5a70e0"/><path d="M1.5,2.9 L-98.9,32.3 L-103.9,5.6 Z" fill="#0e1c88"/><path d="M1.5,2.9 L-103.9,5.6 L-101.8,-21.5 Z" fill="#a7b4fb"/><path d="M1.5,2.9 L-101.8,-21.5 L-92.7,-47.1 Z" fill="#8c9cf2"/><path d="M1.5,2.9 L-92.7,-47.1 L-77.4,-69.5 Z" fill="#a7b4fb"/><path d="M1.5,2.9 L-77.4,-69.5 L-56.8,-87.2 Z" fill="#1a2a9c"/><path d="M1.5,2.9 L-56.8,-87.2 L-32.3,-98.9 Z" fill="#b4befc"/><path d="M1.5,2.9 L-32.3,-98.9 L-5.6,-103.9 Z" fill="#1a2a9c"/><path d="M1.5,2.9 L-5.6,-103.9 L21.5,-101.8 Z" fill="#0e1c88"/><path d="M1.5,2.9 L21.5,-101.8 L47.1,-92.7 Z" fill="#b4befc"/><path d="M1.5,2.9 L47.1,-92.7 L69.5,-77.4 Z" fill="#6a7ee6"/><path d="M1.5,2.9 L69.5,-77.4 L87.2,-56.8 Z" fill="#1a2a9c"/><path d="M1.5,2.9 L87.2,-56.8 L98.9,-32.3 Z" fill="#2236b0"/><path d="M1.5,2.9 L98.9,-32.3 L103.9,-5.6 Z" fill="#8c9cf2"/><path d="M1.5,2.9 L103.9,-5.6 L101.8,21.5 Z" fill="#96a6f6"/><path d="M103.9,-4.6 L53.1,4.7 L97.5,36.3 Z" fill="#6a7ee6"/><path d="M97.7,35.5 L50.0,34.2 L76.2,70.8 Z" fill="#96a6f6"/><path d="M76.7,70.2 L38.8,50.7 L43.3,94.6 Z" fill="#6a7ee6"/><path d="M44.0,94.2 L15.1,49.1 L3.8,103.9 Z" fill="#0e1c88"/><path d="M4.6,103.9 L-0.8,64.2 L-36.3,97.5 Z" fill="#6a7ee6"/><path d="M-35.5,97.7 L-33.6,54.1 L-70.8,76.2 Z" fill="#1a2a9c"/><path d="M-70.2,76.7 L-36.5,24.4 L-94.6,43.3 Z" fill="#6a7ee6"/><path d="M-94.2,44.0 L-52.5,8.3 L-103.9,3.8 Z" fill="#96a6f6"/><path d="M-103.9,4.6 L-66.5,-19.0 L-97.5,-36.3 Z" fill="#96a6f6"/><path d="M-97.7,-35.5 L-50.5,-24.8 L-76.2,-70.8 Z" fill="#a7b4fb"/><path d="M-76.7,-70.2 L-33.4,-39.5 L-43.3,-94.6 Z" fill="#b4befc"/><path d="M-44.0,-94.2 L-18.3,-61.2 L-3.8,-103.9 Z" fill="#1a2a9c"/><path d="M-4.6,-103.9 L11.5,-69.1 L36.3,-97.5 Z" fill="#96a6f6"/><path d="M35.5,-97.7 L33.5,-56.8 L70.8,-76.2 Z" fill="#a7b4fb"/><path d="M70.2,-76.7 L50.6,-42.7 L94.6,-43.3 Z" fill="#2236b0"/><path d="M94.2,-44.0 L67.4,-10.3 L103.9,-3.8 Z" fill="#8c9cf2"/><path d="M-5.7,5.9 L-36.8,43.8 L-42.9,37.9 Z" fill="#b4befc"/><path d="M29.6,-4.5 L69.9,-23.5 L73.8,1.7 Z" fill="#0e1c88"/><path d="M-53.6,10.2 L-68.3,27.1 L-73.5,-0.1 Z" fill="#1a2a9c"/><path d="M-22.7,-23.2 L-49.5,-44.5 L-43.3,-50.6 Z" fill="#2236b0"/><path d="M16.7,-18.4 L47.6,-76.7 L71.8,-54.7 Z" fill="#a7b4fb"/><path d="M1.5,-24.9 L-3.2,-85.0 L13.4,-84.0 Z" fill="#2236b0"/><path d="M-12.2,-56.3 L-24.1,-79.7 L-11.1,-82.6 Z" fill="#8c9cf2"/><path d="M-18.0,-5.5 L-79.8,-13.4 L-73.8,-33.3 Z" fill="#96a6f6"/><path d="M-23.3,33.0 L-37.6,83.2 L-65.8,63.2 Z" fill="#1a2a9c"/><path d="M29.3,-31.3 L53.0,-88.2 L84.6,-58.5 Z" fill="#2236b0"/><path d="M15.8,-2.0 L54.5,-18.0 L57.2,4.1 Z" fill="#1a2a9c"/><path d="M-8.6,-44.4 L-24.7,-63.0 L-0.5,-67.7 Z" fill="#8c9cf2"/><path d="M-11.5,33.5 L-22.5,94.2 L-40.1,88.2 Z" fill="#b4befc"/><path d="M15.7,24.7 L50.5,66.0 L38.2,73.8 Z" fill="#a7b4fb"/><path d="M58.7,-5.0 L75.7,-22.3 L78.3,9.2 Z" fill="#1a2a9c"/><path d="M-34.9,3.8 L-70.8,15.7 L-72.5,-0.1 Z" fill="#a7b4fb"/><path d="M-15.3,-9.7 L-84.5,-48.0 L-79.2,-56.2 Z" fill="#0e1c88"/><path d="M32.5,-41.4 L46.2,-80.3 L67.0,-64.0 Z" fill="#96a6f6"/><path d="M29.0,19.6 L61.6,29.5 L50.2,46.3 Z" fill="#b4befc"/><path d="M-43.4,24.2 L-73.1,52.3 L-83.0,34.7 Z" fill="#2236b0"/><path d="M-23.1,21.0 L-39.8,41.8 L-45.5,35.6 Z" fill="#2236b0"/><path d="M10.9,0.1 L69.3,-10.4 L69.2,11.2 Z" fill="#2236b0"/><path d="M25.7,-25.2 L40.4,-61.8 L62.5,-39.2 Z" fill="#0e1c88"/><path d="M25.5,-4.5 L94.4,-37.5 L101.5,3.3 Z" fill="#96a6f6"/><path d="M-1.2,-21.5 L-5.9,-53.2 L-0.2,-53.5 Z" fill="#96a6f6"/><path d="M-20.7,1.1 L-67.8,8.3 L-68.3,-1.3 Z" fill="#8c9cf2"/><path d="M1.5,2.9 L58.9,-4.8 L59.1,-1.2 Z" fill="#c0c8ff"/><path d="M1.5,2.9 L60.7,38.3 L57.1,43.5 Z" fill="#0c1a80"/><path d="M1.5,2.9 L22.3,51.5 L17.7,53.2 Z" fill="#c0c8ff"/><path d="M1.5,2.9 L-19.5,74.1 L-27.5,71.5 Z" fill="#0c1a80"/><path d="M1.5,2.9 L-64.0,55.6 L-68.7,49.7 Z" fill="#c0c8ff"/><path d="M1.5,2.9 L-81.3,4.3 L-81.3,-4.8 Z" fill="#0c1a80"/><path d="M1.5,2.9 L-45.8,-36.8 L-43.5,-39.5 Z" fill="#c0c8ff"/><path d="M1.5,2.9 L-29.2,-67.4 L-22.1,-70.0 Z" fill="#0c1a80"/><path d="M1.5,2.9 L21.2,-62.0 L25.0,-60.5 Z" fill="#c0c8ff"/><path d="M1.5,2.9 L47.1,-35.5 L50.7,-30.2 Z" fill="#0c1a80"/><circle cx="0" cy="0" r="99.5" fill="none" stroke="#3446c4" stroke-width="1.2"/></g></g><g transform="translate(1020.2,847.6) rotate(-140.7)"><path d="M-11.9,0 L-11.9,28.2 Q-11.9,36.6 -3.6,36.6 L3.6,36.6 Q11.9,36.6 11.9,28.2 L11.9,0 Z" fill="url(#pg)" stroke="#9a7818" stroke-width="1.0"/><ellipse cx="0" cy="0.5" rx="9.5" ry="5.7" fill="#f7eec6" stroke="#b08c26" stroke-width="0.9"/></g><g transform="translate(961.1,863.1) rotate(-203.4)"><path d="M-9.6,0 L-9.6,14.3 Q-9.6,21.0 -2.9,21.0 L2.9,21.0 Q9.6,21.0 9.6,14.3 L9.6,0 Z" fill="url(#pg)" stroke="#9a7818" stroke-width="1.0"/><ellipse cx="0" cy="0.5" rx="7.7" ry="4.6" fill="#f7eec6" stroke="#b08c26" stroke-width="0.9"/></g><g transform="translate(1044.6,920.3) rotate(-90.0)"><path d="M-10.3,0 L-10.3,32.0 Q-10.3,39.2 -3.1,39.2 L3.1,39.2 Q10.3,39.2 10.3,32.0 L10.3,0 Z" fill="url(#pg)" stroke="#9a7818" stroke-width="1.0"/><ellipse cx="0" cy="0.5" rx="8.2" ry="4.9" fill="#f7eec6" stroke="#b08c26" stroke-width="0.9"/></g><g transform="translate(982.3,937.6) rotate(-19.9)"><path d="M-10.9,0 L-10.9,17.0 Q-10.9,24.6 -3.3,24.6 L3.3,24.6 Q10.9,24.6 10.9,17.0 L10.9,0 Z" fill="url(#pg)" stroke="#9a7818" stroke-width="1.0"/><ellipse cx="0" cy="0.5" rx="8.7" ry="5.2" fill="#f7eec6" stroke="#b08c26" stroke-width="0.9"/></g><g transform="translate(1017.6,1423.0) rotate(-8.0) scale(0.7100,0.8150)"><g clip-path="url(#gclip)"><circle cx="0" cy="0" r="100" fill="#4c62d8"/><path d="M3.5,3.9 L103.2,13.2 L96.2,39.4 Z" fill="#a7b4fb"/><path d="M3.5,3.9 L96.2,39.4 L82.8,63.0 Z" fill="#8c9cf2"/><path d="M3.5,3.9 L82.8,63.0 L63.6,82.3 Z" fill="#2236b0"/><path d="M3.5,3.9 L63.6,82.3 L40.2,95.9 Z" fill="#5a70e0"/><path d="M3.5,3.9 L40.2,95.9 L14.0,103.1 Z" fill="#b4befc"/><path d="M3.5,3.9 L14.0,103.1 L-13.2,103.2 Z" fill="#0e1c88"/><path d="M3.5,3.9 L-13.2,103.2 L-39.4,96.2 Z" fill="#2236b0"/><path d="M3.5,3.9 L-39.4,96.2 L-63.0,82.8 Z" fill="#1a2a9c"/><path d="M3.5,3.9 L-63.0,82.8 L-82.3,63.6 Z" fill="#6a7ee6"/><path d="M3.5,3.9 L-82.3,63.6 L-95.9,40.2 Z" fill="#0e1c88"/><path d="M3.5,3.9 L-95.9,40.2 L-103.1,14.0 Z" fill="#2236b0"/><path d="M3.5,3.9 L-103.1,14.0 L-103.2,-13.2 Z" fill="#0e1c88"/><path d="M3.5,3.9 L-103.2,-13.2 L-96.2,-39.4 Z" fill="#5a70e0"/><path d="M3.5,3.9 L-96.2,-39.4 L-82.8,-63.0 Z" fill="#4c63d8"/><path d="M3.5,3.9 L-82.8,-63.0 L-63.6,-82.3 Z" fill="#0e1c88"/><path d="M3.5,3.9 L-63.6,-82.3 L-40.2,-95.9 Z" fill="#1a2a9c"/><path d="M3.5,3.9 L-40.2,-95.9 L-14.0,-103.1 Z" fill="#0e1c88"/><path d="M3.5,3.9 L-14.0,-103.1 L13.2,-103.2 Z" fill="#a7b4fb"/><path d="M3.5,3.9 L13.2,-103.2 L39.4,-96.2 Z" fill="#5a70e0"/><path d="M3.5,3.9 L39.4,-96.2 L63.0,-82.8 Z" fill="#0e1c88"/><path d="M3.5,3.9 L63.0,-82.8 L82.3,-63.6 Z" fill="#5a70e0"/><path d="M3.5,3.9 L82.3,-63.6 L95.9,-40.2 Z" fill="#6a7ee6"/><path d="M3.5,3.9 L95.9,-40.2 L103.1,-14.0 Z" fill="#2236b0"/><path d="M3.5,3.9 L103.1,-14.0 L103.2,13.2 Z" fill="#1a2a9c"/><path d="M103.4,-10.9 L60.8,4.5 L99.5,30.3 Z" fill="#5a70e0"/><path d="M99.7,29.5 L38.9,22.5 L80.3,66.0 Z" fill="#96a6f6"/><path d="M80.8,65.4 L37.2,40.6 L49.0,91.8 Z" fill="#b4befc"/><path d="M49.6,91.4 L12.1,63.1 L10.1,103.5 Z" fill="#b4befc"/><path d="M10.9,103.4 L-2.0,44.4 L-30.3,99.5 Z" fill="#0e1c88"/><path d="M-29.5,99.7 L-25.9,49.5 L-66.0,80.3 Z" fill="#0e1c88"/><path d="M-65.4,80.8 L-35.0,26.8 L-91.8,49.0 Z" fill="#4c63d8"/><path d="M-91.4,49.6 L-50.5,9.1 L-103.5,10.1 Z" fill="#0e1c88"/><path d="M-103.4,10.9 L-55.1,-10.3 L-99.5,-30.3 Z" fill="#4c63d8"/><path d="M-99.7,-29.5 L-43.9,-30.6 L-80.3,-66.0 Z" fill="#96a6f6"/><path d="M-80.8,-65.4 L-32.9,-48.0 L-49.0,-91.8 Z" fill="#a7b4fb"/><path d="M-49.6,-91.4 L-10.5,-47.4 L-10.1,-103.5 Z" fill="#4c63d8"/><path d="M-10.9,-103.4 L1.5,-68.0 L30.3,-99.5 Z" fill="#2236b0"/><path d="M29.5,-99.7 L28.3,-49.2 L66.0,-80.3 Z" fill="#6a7ee6"/><path d="M65.4,-80.8 L39.9,-30.7 L91.8,-49.0 Z" fill="#b4befc"/><path d="M91.4,-49.6 L68.3,-22.8 L103.5,-10.1 Z" fill="#4c63d8"/><path d="M-35.6,-46.6 L-63.9,-71.4 L-52.2,-80.3 Z" fill="#a7b4fb"/><path d="M-41.4,-40.7 L-63.9,-46.0 L-47.0,-63.2 Z" fill="#96a6f6"/><path d="M-36.6,43.2 L-59.5,79.4 L-68.7,71.6 Z" fill="#0e1c88"/><path d="M-21.3,-18.5 L-78.6,-45.4 L-56.3,-71.2 Z" fill="#0e1c88"/><path d="M2.9,25.2 L27.9,97.7 L-5.4,101.4 Z" fill="#0e1c88"/><path d="M24.4,31.1 L39.7,44.1 L33.3,49.1 Z" fill="#8c9cf2"/><path d="M-1.4,-8.7 L-7.9,-25.0 L-0.5,-26.3 Z" fill="#a7b4fb"/><path d="M21.1,33.7 L46.3,49.5 L24.3,63.3 Z" fill="#8c9cf2"/><path d="M-16.8,-45.5 L-36.9,-58.4 L-9.8,-68.4 Z" fill="#8c9cf2"/><path d="M-28.9,3.8 L-74.9,20.1 L-77.6,-0.0 Z" fill="#96a6f6"/><path d="M20.5,-2.8 L97.9,-20.0 L99.6,-7.3 Z" fill="#96a6f6"/><path d="M-4.7,30.7 L-2.8,71.7 L-18.8,69.3 Z" fill="#b4befc"/><path d="M16.3,-36.7 L28.7,-76.0 L37.0,-72.4 Z" fill="#0e1c88"/><path d="M56.2,11.4 L95.7,2.2 L89.0,35.4 Z" fill="#0e1c88"/><path d="M-5.1,7.7 L-40.9,71.8 L-50.4,65.4 Z" fill="#0e1c88"/><path d="M-1.8,-40.1 L-9.4,-60.7 L4.0,-61.3 Z" fill="#b4befc"/><path d="M-13.1,-2.1 L-49.4,-4.2 L-48.2,-11.6 Z" fill="#8c9cf2"/><path d="M16.5,-54.5 L11.4,-93.6 L42.3,-84.2 Z" fill="#2236b0"/><path d="M11.6,19.2 L34.1,41.1 L20.7,49.2 Z" fill="#8c9cf2"/><path d="M8.7,21.2 L31.0,54.9 L16.4,60.9 Z" fill="#2236b0"/><path d="M-39.3,-13.1 L-89.3,-14.5 L-80.3,-41.8 Z" fill="#96a6f6"/><path d="M-2.1,15.0 L1.2,41.2 L-12.4,39.3 Z" fill="#1a2a9c"/><path d="M6.7,2.7 L80.2,26.0 L75.8,36.9 Z" fill="#a7b4fb"/><path d="M-17.4,-33.5 L-30.0,-47.1 L-21.3,-51.6 Z" fill="#2236b0"/><path d="M-21.9,-53.0 L-33.0,-67.6 L-24.3,-71.2 Z" fill="#a7b4fb"/><path d="M20.2,36.1 L34.1,51.9 L26.6,56.1 Z" fill="#a7b4fb"/><path d="M3.5,3.9 L80.2,0.5 L80.0,5.4 Z" fill="#c0c8ff"/><path d="M3.5,3.9 L59.1,48.2 L54.8,53.1 Z" fill="#0c1a80"/><path d="M3.5,3.9 L30.9,73.2 L25.5,75.3 Z" fill="#c0c8ff"/><path d="M3.5,3.9 L-21.9,71.0 L-28.3,68.7 Z" fill="#0c1a80"/><path d="M3.5,3.9 L-54.0,45.8 L-56.7,42.4 Z" fill="#c0c8ff"/><path d="M3.5,3.9 L-84.1,1.1 L-83.6,-8.9 Z" fill="#0c1a80"/><path d="M3.5,3.9 L-55.6,-43.4 L-52.0,-47.7 Z" fill="#c0c8ff"/><path d="M3.5,3.9 L-22.4,-61.9 L-16.2,-63.8 Z" fill="#0c1a80"/><path d="M3.5,3.9 L24.2,-74.0 L29.6,-72.1 Z" fill="#c0c8ff"/><path d="M3.5,3.9 L49.6,-42.4 L53.6,-37.1 Z" fill="#0c1a80"/><circle cx="0" cy="0" r="99.5" fill="none" stroke="#3446c4" stroke-width="1.2"/></g></g><g transform="translate(1021.1,1375.4) rotate(-140.7)"><path d="M-13.1,0 L-13.1,31.2 Q-13.1,40.4 -3.9,40.4 L3.9,40.4 Q13.1,40.4 13.1,31.2 L13.1,0 Z" fill="url(#pg)" stroke="#9a7818" stroke-width="1.0"/><ellipse cx="0" cy="0.5" rx="10.5" ry="6.3" fill="#f7eec6" stroke="#b08c26" stroke-width="0.9"/></g><g transform="translate(955.8,1392.5) rotate(-203.4)"><path d="M-10.7,0 L-10.7,15.8 Q-10.7,23.2 -3.2,23.2 L3.2,23.2 Q10.7,23.2 10.7,15.8 L10.7,0 Z" fill="url(#pg)" stroke="#9a7818" stroke-width="1.0"/><ellipse cx="0" cy="0.5" rx="8.5" ry="5.1" fill="#f7eec6" stroke="#b08c26" stroke-width="0.9"/></g><g transform="translate(1048.1,1455.7) rotate(-90.0)"><path d="M-11.4,0 L-11.4,35.4 Q-11.4,43.3 -3.4,43.3 L3.4,43.3 Q11.4,43.3 11.4,35.4 L11.4,0 Z" fill="url(#pg)" stroke="#9a7818" stroke-width="1.0"/><ellipse cx="0" cy="0.5" rx="9.1" ry="5.5" fill="#f7eec6" stroke="#b08c26" stroke-width="0.9"/></g><g transform="translate(979.3,1474.8) rotate(-19.9)"><path d="M-12.1,0 L-12.1,18.7 Q-12.1,27.2 -3.6,27.2 L3.6,27.2 Q12.1,27.2 12.1,18.7 L12.1,0 Z" fill="url(#pg)" stroke="#9a7818" stroke-width="1.0"/><ellipse cx="0" cy="0.5" rx="9.7" ry="5.8" fill="#f7eec6" stroke="#b08c26" stroke-width="0.9"/></g><clipPath id="hc0"><path d="M263.2,404.3 L828.8,-161.3 L546.0,-444.2 L-19.7,121.5 Z"/></clipPath><path d="M546.0,170.8 A49.3,49.3 0 1 1 546.0,72.2 A49.3,49.3 0 1 1 546.0,170.8" fill="none" stroke="#0a0a0a" stroke-width="4.6" stroke-dasharray="18.93 9.55" clip-path="url(#hc0)"/><clipPath id="hc1"><path d="M1067.2,440.3 L1632.8,-125.3 L1350.0,-408.2 L784.3,157.5 Z"/></clipPath><path d="M1350.0,207.0 A49.5,49.5 0 1 1 1350.0,108.0 A49.5,49.5 0 1 1 1350.0,207.0" fill="none" stroke="#0a0a0a" stroke-width="4.6" stroke-dasharray="19.01 9.59" clip-path="url(#hc1)"/><clipPath id="hc2"><path d="M276.2,917.8 L841.8,352.2 L559.0,69.3 L-6.7,635.0 Z"/></clipPath><path d="M559.0,685.0 A50.0,50.0 0 1 1 559.0,585.0 A50.0,50.0 0 1 1 559.0,685.0" fill="none" stroke="#0a0a0a" stroke-width="4.6" stroke-dasharray="19.20 9.69" clip-path="url(#hc2)"/><clipPath id="hc3"><path d="M1082.6,958.8 L1648.2,393.2 L1365.4,110.3 L799.7,676.0 Z"/></clipPath><path d="M1365.4,726.5 A50.5,50.5 0 1 1 1365.4,625.5 A50.5,50.5 0 1 1 1365.4,726.5" fill="none" stroke="#0a0a0a" stroke-width="4.6" stroke-dasharray="19.39 9.78" clip-path="url(#hc3)"/><clipPath id="hc4"><path d="M282.9,1443.8 L848.5,878.2 L565.7,595.3 L0.0,1161.0 Z"/></clipPath><path d="M565.7,1211.3 A50.3,50.3 0 1 1 565.7,1110.7 A50.3,50.3 0 1 1 565.7,1211.3" fill="none" stroke="#0a0a0a" stroke-width="4.6" stroke-dasharray="19.31 9.74" clip-path="url(#hc4)"/><clipPath id="hc5"><path d="M1051.4,1495.6 L1617.0,930.0 L1334.2,647.1 L768.5,1212.8 Z"/></clipPath><path d="M1334.2,1263.8 A51.0,51.0 0 1 1 1334.2,1161.8 A51.0,51.0 0 1 1 1334.2,1263.8" fill="none" stroke="#0a0a0a" stroke-width="4.6" stroke-dasharray="19.58 9.88" clip-path="url(#hc5)"/><line x1="225.0" y1="330.0" x2="225.0" y2="439.0" stroke="#111" stroke-width="3.4"/><path d="M225.0,306.0 L217.5,332.0 L232.5,332.0 Z" fill="#111"/><path d="M225.0,463.0 L217.5,437.0 L232.5,437.0 Z" fill="#111"/><line x1="935.5" y1="313.2" x2="935.5" y2="422.2" stroke="#111" stroke-width="3.4"/><path d="M935.5,289.2 L928.0,315.2 L943.0,315.2 Z" fill="#111"/><path d="M935.5,446.2 L928.0,420.2 L943.0,420.2 Z" fill="#111"/><line x1="214.5" y1="831.0" x2="214.5" y2="968.0" stroke="#111" stroke-width="3.4"/><path d="M214.5,807.0 L207.0,833.0 L222.0,833.0 Z" fill="#111"/><path d="M214.5,992.0 L207.0,966.0 L222.0,966.0 Z" fill="#111"/><line x1="935.8" y1="822.3" x2="935.8" y2="957.7" stroke="#111" stroke-width="3.4"/><path d="M935.8,798.3 L928.3,824.3 L943.3,824.3 Z" fill="#111"/><path d="M935.8,981.7 L928.3,955.7 L943.3,955.7 Z" fill="#111"/><line x1="209.7" y1="1344.0" x2="209.7" y2="1495.5" stroke="#111" stroke-width="3.4"/><path d="M209.7,1320.0 L202.2,1346.0 L217.2,1346.0 Z" fill="#111"/><path d="M209.7,1519.5 L202.2,1493.5 L217.2,1493.5 Z" fill="#111"/><line x1="920.7" y1="1344.3" x2="920.7" y2="1495.5" stroke="#111" stroke-width="3.4"/><path d="M920.7,1320.3 L913.2,1346.3 L928.2,1346.3 Z" fill="#111"/><path d="M920.7,1519.5 L913.2,1493.5 L928.2,1493.5 Z" fill="#111"/><line x1="396.6" y1="387.5" x2="627.6" y2="295.9" stroke="#111" stroke-width="2.6"/><path d="M372.4,397.1 L401.4,394.2 L395.5,379.3 Z" fill="#111"/><path d="M651.8,286.3 L628.7,304.1 L622.8,289.2 Z" fill="#111"/><line x1="1103.6" y1="383.7" x2="1279.9" y2="293.7" stroke="#111" stroke-width="2.6"/><path d="M1080.4,395.5 L1109.0,389.9 L1101.7,375.7 Z" fill="#111"/><path d="M1303.1,281.9 L1281.8,301.7 L1274.5,287.5 Z" fill="#111"/><line x1="396.5" y1="910.6" x2="629.3" y2="817.6" stroke="#111" stroke-width="2.6"/><path d="M372.4,920.3 L401.4,917.3 L395.4,902.5 Z" fill="#111"/><path d="M653.4,807.9 L630.4,825.7 L624.4,810.9 Z" fill="#111"/><line x1="1114.2" y1="906.5" x2="1294.3" y2="818.2" stroke="#111" stroke-width="2.6"/><path d="M1090.8,917.9 L1119.5,912.8 L1112.4,898.4 Z" fill="#111"/><path d="M1317.7,806.8 L1296.1,826.3 L1289.0,811.9 Z" fill="#111"/><line x1="414.8" y1="1435.3" x2="659.7" y2="1339.1" stroke="#111" stroke-width="2.6"/><path d="M390.6,1444.8 L419.6,1442.0 L413.7,1427.1 Z" fill="#111"/><path d="M683.9,1329.6 L660.8,1347.3 L654.9,1332.4 Z" fill="#111"/><line x1="1119.8" y1="1424.4" x2="1296.7" y2="1336.6" stroke="#111" stroke-width="2.6"/><path d="M1096.5,1436.0 L1125.1,1430.7 L1118.0,1416.4 Z" fill="#111"/><path d="M1320.0,1325.0 L1298.5,1344.6 L1291.4,1330.3 Z" fill="#111"/><g font-family="'Liberation Sans', sans-serif" font-size="49.1" fill="#000"><text transform="translate(328.8,133.4) scale(0.995,1)">0.8mm</text><text transform="translate(94.0,397.6) scale(0.995,1)">2mm</text><text transform="translate(512.3,397.5) scale(0.995,1)">7mm</text><text transform="translate(1159.9,105.8) scale(0.995,1)">0.8mm</text><text transform="translate(810.5,385.7) scale(0.995,1)">2mm</text><text transform="translate(1206.9,391.8) scale(0.995,1)">7mm</text><text transform="translate(345.8,660.2) scale(0.995,1)">0.8mm</text><text transform="translate(53.1,905.4) scale(0.995,1)">2.5mm</text><text transform="translate(541.0,907.9) scale(0.995,1)">7mm</text><text transform="translate(1171.3,633.3) scale(0.995,1)">0.8mm</text><text transform="translate(774.3,904.1) scale(0.995,1)">2.5mm</text><text transform="translate(1216.2,919.7) scale(0.995,1)">7mm</text><text transform="translate(353.5,1171.0) scale(0.995,1)">0.8mm</text><text transform="translate(83.8,1428.4) scale(0.995,1)">3mm</text><text transform="translate(537.7,1439.9) scale(0.995,1)">7mm</text><text transform="translate(1139.7,1170.9) scale(0.995,1)">0.8mm</text><text transform="translate(791.8,1436.5) scale(0.995,1)">3mm</text><text transform="translate(1213.8,1437.4) scale(0.995,1)">7mm</text></g></svg></body></html>
